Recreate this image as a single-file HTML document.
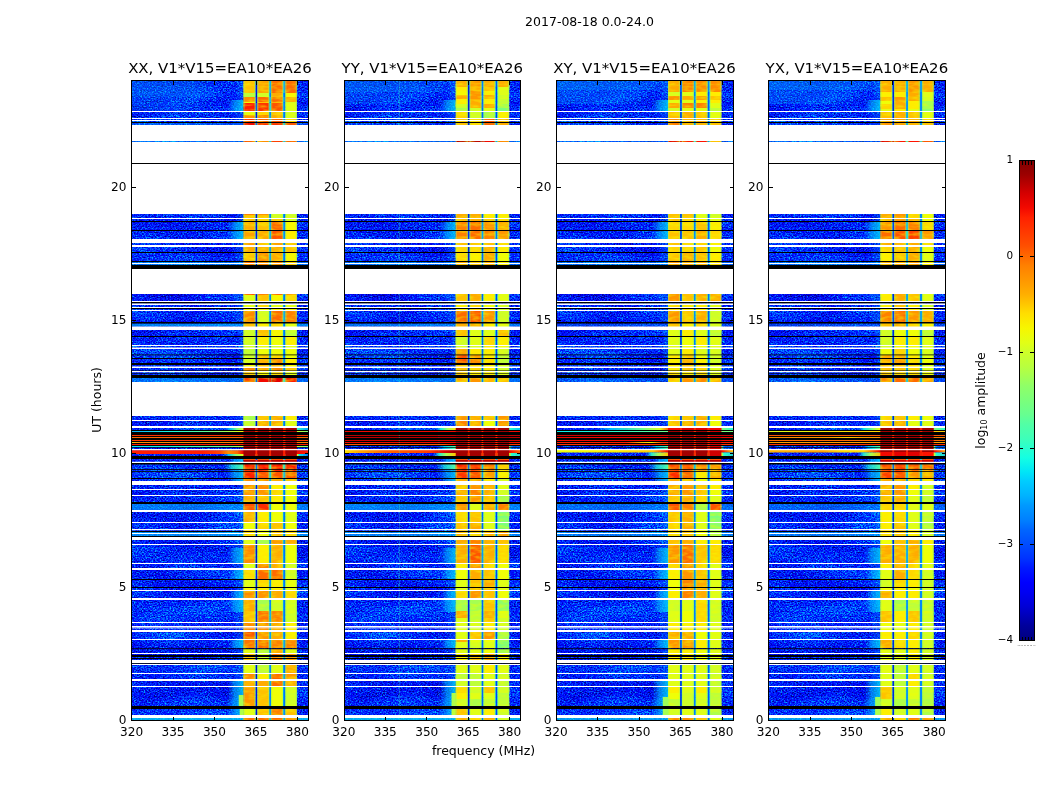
<!DOCTYPE html>
<html><head><meta charset="utf-8"><title>waterfall</title>
<style>html,body{margin:0;padding:0;background:#fff}svg{display:block}text{font-family:"DejaVu Sans","Liberation Sans",sans-serif;fill:#000}</style></head><body>
<svg width="1050" height="800" viewBox="0 0 1050 800" shape-rendering="crispEdges">
<defs>
<filter id="nz" x="0" y="0" width="100%" height="100%" color-interpolation-filters="sRGB"><feTurbulence type="fractalNoise" baseFrequency="0.62 0.8" numOctaves="2" seed="7" result="t"/><feColorMatrix in="t" type="matrix" values="1 0 0 0 0  1 0 0 0 0  1 0 0 0 0  0 0 0 0 1" result="hi"/><feTurbulence type="fractalNoise" baseFrequency="0.012 0.05" numOctaves="2" seed="3" result="t2"/><feColorMatrix in="t2" type="matrix" values="1 0 0 0 0  1 0 0 0 0  1 0 0 0 0  0 0 0 0 1" result="lo"/><feComposite in="hi" in2="lo" operator="arithmetic" k1="0" k2="1.1" k3="0.4" k4="-0.41" result="g"/><feComponentTransfer in="g"><feFuncR type="table" tableValues="0 0 0 0 0 0 0 0 0.16 0.32"/><feFuncG type="table" tableValues="0 0 0 0.1 0.3 0.5 0.7 0.9 1 1"/><feFuncB type="table" tableValues="0.5 0.73 0.95 1 1 1 1 0.97 0.81 0.65"/></feComponentTransfer></filter>
<filter id="hz" x="0" y="0" width="100%" height="100%" color-interpolation-filters="sRGB"><feTurbulence type="fractalNoise" baseFrequency="0.11 0.3" numOctaves="2" seed="11" result="t"/><feColorMatrix in="t" type="matrix" values="0 0 0 0 0.95  0 0 0 0 1  0 0 0 0 0  2.8 0 0 0 -1.15"/></filter>
<linearGradient id="cb" x1="0" y1="1" x2="0" y2="0">
<stop offset="0" stop-color="#000080"/>
<stop offset="0.03" stop-color="#00009c"/>
<stop offset="0.05" stop-color="#0000b9"/>
<stop offset="0.07" stop-color="#0000d6"/>
<stop offset="0.1" stop-color="#0000f3"/>
<stop offset="0.12" stop-color="#0000ff"/>
<stop offset="0.15" stop-color="#0019ff"/>
<stop offset="0.17" stop-color="#0033ff"/>
<stop offset="0.2" stop-color="#004dff"/>
<stop offset="0.23" stop-color="#0066ff"/>
<stop offset="0.25" stop-color="#0080ff"/>
<stop offset="0.28" stop-color="#0099ff"/>
<stop offset="0.3" stop-color="#00b2ff"/>
<stop offset="0.33" stop-color="#00ccff"/>
<stop offset="0.35" stop-color="#00e5f7"/>
<stop offset="0.38" stop-color="#15ffe2"/>
<stop offset="0.4" stop-color="#29ffce"/>
<stop offset="0.42" stop-color="#3effb9"/>
<stop offset="0.45" stop-color="#52ffa5"/>
<stop offset="0.47" stop-color="#67ff90"/>
<stop offset="0.5" stop-color="#7bff7b"/>
<stop offset="0.53" stop-color="#90ff67"/>
<stop offset="0.55" stop-color="#a5ff52"/>
<stop offset="0.57" stop-color="#b9ff3e"/>
<stop offset="0.6" stop-color="#ceff29"/>
<stop offset="0.62" stop-color="#e2ff15"/>
<stop offset="0.65" stop-color="#f7f600"/>
<stop offset="0.68" stop-color="#ffde00"/>
<stop offset="0.7" stop-color="#ffc600"/>
<stop offset="0.72" stop-color="#ffaf00"/>
<stop offset="0.75" stop-color="#ff9700"/>
<stop offset="0.78" stop-color="#ff8000"/>
<stop offset="0.8" stop-color="#ff6800"/>
<stop offset="0.82" stop-color="#ff5000"/>
<stop offset="0.85" stop-color="#ff3900"/>
<stop offset="0.88" stop-color="#ff2100"/>
<stop offset="0.9" stop-color="#f30900"/>
<stop offset="0.93" stop-color="#d60000"/>
<stop offset="0.95" stop-color="#b90000"/>
<stop offset="0.97" stop-color="#9c0000"/>
<stop offset="1" stop-color="#800000"/>
</linearGradient>
<linearGradient id="trA" x1="0" y1="0" x2="1" y2="0"><stop offset="0" stop-color="#0080ff" stop-opacity="0"/><stop offset="0.45" stop-color="#0094ff" stop-opacity="0.22"/><stop offset="1" stop-color="#00a8ff" stop-opacity="0.3"/></linearGradient>
<linearGradient id="trB" x1="0" y1="0" x2="1" y2="0"><stop offset="0" stop-color="#009eff" stop-opacity="0"/><stop offset="0.45" stop-color="#00c2ff" stop-opacity="0.6"/><stop offset="1" stop-color="#00e5f7" stop-opacity="0.8"/></linearGradient>
<linearGradient id="trC" x1="0" y1="0" x2="1" y2="0"><stop offset="0" stop-color="#00d1ff" stop-opacity="0"/><stop offset="0.45" stop-color="#21ffd6" stop-opacity="0.75"/><stop offset="1" stop-color="#52ffa5" stop-opacity="1"/></linearGradient>
</defs>
<clipPath id="cp0"><rect x="131" y="80" width="178" height="641"/></clipPath>
<g clip-path="url(#cp0)" shape-rendering="geometricPrecision"><g transform="translate(131.25,0)">
<rect x="-1" y="80" width="178.9" height="641" fill="#0a3fe0"/>
<rect x="-1" y="80" width="178.9" height="641" fill="#0a3fe0" filter="url(#nz)"/>
<rect x="-1" y="323.5" width="178.9" height="3" fill="#00d1ff" fill-opacity="0.6"/>
<rect x="-1" y="504" width="178.9" height="6" fill="#00bdff" fill-opacity="0.55"/>
<rect x="-1" y="532" width="178.9" height="4" fill="#00d1ff" fill-opacity="0.6"/>
<rect x="-1" y="262" width="178.9" height="3" fill="#00d1ff" fill-opacity="0.45"/>
<rect x="-1" y="378" width="178.9" height="4" fill="#00b2ff" fill-opacity="0.5"/>
<rect x="-1" y="718" width="178.9" height="2.5" fill="#08f0ef" fill-opacity="0.7"/>
<rect x="-1" y="141" width="178.9" height="1" fill="#00b2ff" fill-opacity="0.5"/>
<rect x="-1" y="123" width="178.9" height="2" fill="#009eff" fill-opacity="0.3"/>
<linearGradient id="g0_4280" gradientUnits="userSpaceOnUse" x1="0" y1="0" x2="176.9" y2="0">
<stop offset="0" stop-color="#0019ff" stop-opacity="0"/>
<stop offset="0.52" stop-color="#004dff" stop-opacity="0"/>
<stop offset="0.56" stop-color="#00e5f7" stop-opacity="0.8"/>
<stop offset="0.6" stop-color="#7bff7b" stop-opacity="1"/>
<stop offset="0.63" stop-color="#deff19" stop-opacity="1"/>
<stop offset="0.93" stop-color="#ceff29" stop-opacity="1"/>
<stop offset="0.94" stop-color="#29ffce" stop-opacity="1"/>
<stop offset="1" stop-color="#00b2ff" stop-opacity="0.8"/>
</linearGradient>
<rect x="-1" y="428" width="178.9" height="2" fill="url(#g0_4280)"/>
<linearGradient id="g0_4310" gradientUnits="userSpaceOnUse" x1="0" y1="0" x2="176.9" y2="0">
<stop offset="0" stop-color="#00b2ff" stop-opacity="1"/>
<stop offset="0.23" stop-color="#19ffde" stop-opacity="1"/>
<stop offset="0.45" stop-color="#6bff8c" stop-opacity="1"/>
<stop offset="0.59" stop-color="#ceff29" stop-opacity="1"/>
<stop offset="0.63" stop-color="#f7f600" stop-opacity="1"/>
<stop offset="0.94" stop-color="#ceff29" stop-opacity="1"/>
<stop offset="1" stop-color="#7bff7b" stop-opacity="1"/>
</linearGradient>
<rect x="-1" y="431" width="178.9" height="1" fill="url(#g0_4310)"/>
<linearGradient id="g0_4350" gradientUnits="userSpaceOnUse" x1="0" y1="0" x2="176.9" y2="0">
<stop offset="0" stop-color="#ff2f00" stop-opacity="1"/>
<stop offset="1" stop-color="#ff2f00" stop-opacity="1"/>
</linearGradient>
<rect x="-1" y="435" width="178.9" height="1" fill="url(#g0_4350)"/>
<linearGradient id="g0_4370" gradientUnits="userSpaceOnUse" x1="0" y1="0" x2="176.9" y2="0">
<stop offset="0" stop-color="#ff6800" stop-opacity="1"/>
<stop offset="1" stop-color="#ff6800" stop-opacity="1"/>
</linearGradient>
<rect x="-1" y="437" width="178.9" height="1" fill="url(#g0_4370)"/>
<linearGradient id="g0_4400" gradientUnits="userSpaceOnUse" x1="0" y1="0" x2="176.9" y2="0">
<stop offset="0" stop-color="#ff3900" stop-opacity="1"/>
<stop offset="1" stop-color="#ff3900" stop-opacity="1"/>
</linearGradient>
<rect x="-1" y="440" width="178.9" height="1" fill="url(#g0_4400)"/>
<linearGradient id="g0_4420" gradientUnits="userSpaceOnUse" x1="0" y1="0" x2="176.9" y2="0">
<stop offset="0" stop-color="#ffd900" stop-opacity="1"/>
<stop offset="0.05" stop-color="#ff8e00" stop-opacity="1"/>
<stop offset="1" stop-color="#ff7b00" stop-opacity="1"/>
</linearGradient>
<rect x="-1" y="442" width="178.9" height="1" fill="url(#g0_4420)"/>
<linearGradient id="g0_4440" gradientUnits="userSpaceOnUse" x1="0" y1="0" x2="176.9" y2="0">
<stop offset="0" stop-color="#ff1c00" stop-opacity="1"/>
<stop offset="1" stop-color="#ff1c00" stop-opacity="1"/>
</linearGradient>
<rect x="-1" y="444" width="178.9" height="1" fill="url(#g0_4440)"/>
<linearGradient id="g0_4460" gradientUnits="userSpaceOnUse" x1="0" y1="0" x2="176.9" y2="0">
<stop offset="0" stop-color="#00e5f7" stop-opacity="1"/>
<stop offset="0.28" stop-color="#29ffce" stop-opacity="1"/>
<stop offset="0.57" stop-color="#7bff7b" stop-opacity="1"/>
<stop offset="0.63" stop-color="#ceff29" stop-opacity="1"/>
<stop offset="0.94" stop-color="#ceff29" stop-opacity="1"/>
<stop offset="1" stop-color="#7bff7b" stop-opacity="1"/>
</linearGradient>
<rect x="-1" y="446" width="178.9" height="1" fill="url(#g0_4460)"/>
<linearGradient id="g0_4502" gradientUnits="userSpaceOnUse" x1="0" y1="0" x2="176.9" y2="0">
<stop offset="0" stop-color="#ff1c00" stop-opacity="1"/>
<stop offset="0.4" stop-color="#ff1c00" stop-opacity="1"/>
<stop offset="0.5" stop-color="#ff4200" stop-opacity="1"/>
<stop offset="0.55" stop-color="#ff8e00" stop-opacity="1"/>
<stop offset="0.6" stop-color="#ff6800" stop-opacity="1"/>
<stop offset="0.63" stop-color="#f30900" stop-opacity="1"/>
<stop offset="0.94" stop-color="#f30900" stop-opacity="1"/>
<stop offset="1" stop-color="#ff1c00" stop-opacity="1"/>
</linearGradient>
<rect x="-1" y="450.2" width="178.9" height="3.8" fill="url(#g0_4502)"/>
<linearGradient id="g0_4540" gradientUnits="userSpaceOnUse" x1="0" y1="0" x2="176.9" y2="0">
<stop offset="0" stop-color="#0019ff" stop-opacity="0"/>
<stop offset="0.51" stop-color="#004dff" stop-opacity="0"/>
<stop offset="0.55" stop-color="#00e5f7" stop-opacity="0.8"/>
<stop offset="0.59" stop-color="#7bff7b" stop-opacity="1"/>
<stop offset="0.63" stop-color="#deff19" stop-opacity="1"/>
<stop offset="0.94" stop-color="#ceff29" stop-opacity="1"/>
<stop offset="0.95" stop-color="#00e5f7" stop-opacity="1"/>
<stop offset="1" stop-color="#00b2ff" stop-opacity="0.6"/>
</linearGradient>
<rect x="-1" y="454" width="178.9" height="2" fill="url(#g0_4540)"/>
<linearGradient id="g0_810" gradientUnits="userSpaceOnUse" x1="0" y1="0" x2="176.9" y2="0">
<stop offset="0" stop-color="#00bdff" stop-opacity="0.32"/>
<stop offset="0.34" stop-color="#00bdff" stop-opacity="0.28"/>
<stop offset="0.51" stop-color="#00b2ff" stop-opacity="0"/>
<stop offset="1" stop-color="#00b2ff" stop-opacity="0"/>
</linearGradient>
<rect x="-1" y="81" width="178.9" height="16" fill="url(#g0_810)"/>
<linearGradient id="g0_970" gradientUnits="userSpaceOnUse" x1="0" y1="0" x2="176.9" y2="0">
<stop offset="0" stop-color="#00b2ff" stop-opacity="0.2"/>
<stop offset="0.28" stop-color="#00b2ff" stop-opacity="0.15"/>
<stop offset="0.45" stop-color="#00b2ff" stop-opacity="0"/>
<stop offset="1" stop-color="#00b2ff" stop-opacity="0"/>
</linearGradient>
<rect x="-1" y="97" width="178.9" height="14" fill="url(#g0_970)"/>
<rect x="104" y="81" width="8.2" height="19" fill="url(#trA)"/>
<rect x="96" y="100" width="16.2" height="11" fill="url(#trB)"/>
<rect x="100" y="112" width="12.2" height="13" fill="url(#trA)"/>
<rect x="104" y="214" width="8.2" height="7" fill="url(#trA)"/>
<rect x="96" y="221" width="16.2" height="18" fill="url(#trB)"/>
<rect x="101" y="243" width="11.2" height="22" fill="url(#trA)"/>
<rect x="99" y="294" width="13.2" height="7" fill="url(#trA)"/>
<rect x="104" y="305" width="8.2" height="5" fill="url(#trA)"/>
<rect x="100" y="311" width="12.2" height="11" fill="url(#trA)"/>
<rect x="106" y="330" width="6.2" height="45" fill="url(#trA)"/>
<rect x="104" y="416" width="8.2" height="10" fill="url(#trA)"/>
<rect x="96" y="459" width="16.2" height="3" fill="url(#trB)"/>
<rect x="92" y="464" width="20.2" height="5" fill="url(#trC)"/>
<rect x="94" y="469" width="18.2" height="9" fill="url(#trB)"/>
<rect x="96" y="478" width="16.2" height="3" fill="url(#trB)"/>
<rect x="105" y="485" width="7.2" height="17" fill="url(#trA)"/>
<rect x="106" y="512" width="6.2" height="18" fill="url(#trA)"/>
<rect x="100" y="540" width="12.2" height="8" fill="url(#trA)"/>
<rect x="96" y="548" width="16.2" height="15" fill="url(#trB)"/>
<rect x="100" y="564" width="12.2" height="4" fill="url(#trA)"/>
<rect x="98" y="570" width="14.2" height="9" fill="url(#trB)"/>
<rect x="102" y="580" width="10.2" height="10" fill="url(#trA)"/>
<rect x="98" y="591" width="14.2" height="7" fill="url(#trB)"/>
<rect x="96" y="600" width="16.2" height="12" fill="url(#trB)"/>
<rect x="102" y="612" width="10.2" height="18" fill="url(#trA)"/>
<rect x="102" y="632" width="10.2" height="7" fill="url(#trA)"/>
<rect x="97" y="640" width="15.2" height="8" fill="url(#trB)"/>
<rect x="102" y="649" width="10.2" height="11" fill="url(#trA)"/>
<rect x="101" y="665" width="11.2" height="14" fill="url(#trA)"/>
<rect x="96" y="681" width="16.2" height="5" fill="url(#trB)"/>
<rect x="96" y="687" width="16.2" height="12" fill="url(#trB)"/>
<rect x="94" y="699" width="18.2" height="7" fill="url(#trB)"/>
<rect x="96" y="709" width="16.2" height="6" fill="url(#trB)"/>
<rect x="107.5" y="695" width="4.9" height="11" fill="#a5ff52"/>
<rect x="108.5" y="709" width="3.9" height="6" fill="#adff4a"/>
<rect x="112.2" y="81" width="12.1" height="12" fill="#ffc100"/>
<rect x="126" y="81" width="12.1" height="12" fill="#ffa000"/>
<rect x="139.8" y="81" width="12" height="12" fill="#ff6a00"/>
<rect x="154" y="81" width="11.6" height="12" fill="#ff6a00"/>
<rect x="112.2" y="93" width="12.1" height="4" fill="#a5ff52"/>
<rect x="126" y="93" width="12.1" height="4" fill="#ceff29"/>
<rect x="139.8" y="93" width="12" height="4" fill="#ffab00"/>
<rect x="154" y="93" width="11.6" height="4" fill="#f7f600"/>
<rect x="112.2" y="97" width="12.1" height="5" fill="#ff8a00"/>
<rect x="126" y="97" width="12.1" height="5" fill="#ff6a00"/>
<rect x="139.8" y="97" width="12" height="5" fill="#ff6a00"/>
<rect x="154" y="97" width="11.6" height="5" fill="#ffab00"/>
<rect x="112.2" y="102" width="12.1" height="1" fill="#f7f600"/>
<rect x="126" y="102" width="12.1" height="1" fill="#ffc100"/>
<rect x="139.8" y="102" width="12" height="1" fill="#ffab00"/>
<rect x="154" y="102" width="11.6" height="1" fill="#ceff29"/>
<rect x="112.2" y="103" width="12.1" height="8" fill="#ff1e00"/>
<rect x="126" y="103" width="12.1" height="8" fill="#ff3300"/>
<rect x="139.8" y="103" width="12" height="8" fill="#ff5400"/>
<rect x="154" y="103" width="11.6" height="8" fill="#deff19"/>
<rect x="112.2" y="111" width="12.1" height="4" fill="#deff19"/>
<rect x="126" y="111" width="12.1" height="4" fill="#ffd600"/>
<rect x="139.8" y="111" width="12" height="4" fill="#ffc100"/>
<rect x="154" y="111" width="11.6" height="4" fill="#ceff29"/>
<rect x="112.2" y="115" width="12.1" height="3" fill="#ff9500"/>
<rect x="126" y="115" width="12.1" height="3" fill="#ff8a00"/>
<rect x="139.8" y="115" width="12" height="3" fill="#ffab00"/>
<rect x="154" y="115" width="11.6" height="3" fill="#ceff29"/>
<rect x="112.2" y="118" width="12.1" height="5" fill="#ff1e00"/>
<rect x="126" y="118" width="12.1" height="5" fill="#ff5400"/>
<rect x="139.8" y="118" width="12" height="5" fill="#ff5400"/>
<rect x="154" y="118" width="11.6" height="5" fill="#ffc100"/>
<rect x="112.2" y="123" width="12.1" height="2" fill="#f20800"/>
<rect x="126" y="123" width="12.1" height="2" fill="#ff1e00"/>
<rect x="139.8" y="123" width="12" height="2" fill="#ff1e00"/>
<rect x="154" y="123" width="11.6" height="2" fill="#ff5400"/>
<rect x="112.2" y="141" width="12.1" height="1" fill="#ff5400"/>
<rect x="126" y="141" width="12.1" height="1" fill="#ff8a00"/>
<rect x="139.8" y="141" width="12" height="1" fill="#ff3e00"/>
<rect x="154" y="141" width="11.6" height="1" fill="#ff6a00"/>
<rect x="112.2" y="214" width="12.1" height="1" fill="#ff8000"/>
<rect x="126" y="214" width="12.1" height="1" fill="#ff9500"/>
<rect x="139.8" y="214" width="12" height="1" fill="#ceff29"/>
<rect x="154" y="214" width="11.6" height="1" fill="#ceff29"/>
<rect x="112.2" y="215" width="12.1" height="3" fill="#ffc100"/>
<rect x="126" y="215" width="12.1" height="3" fill="#ffc100"/>
<rect x="139.8" y="215" width="12" height="3" fill="#ceff29"/>
<rect x="154" y="215" width="11.6" height="3" fill="#ceff29"/>
<rect x="112.2" y="218" width="12.1" height="3" fill="#ffc100"/>
<rect x="126" y="218" width="12.1" height="3" fill="#ffd600"/>
<rect x="139.8" y="218" width="12" height="3" fill="#ffc100"/>
<rect x="154" y="218" width="11.6" height="3" fill="#ceff29"/>
<rect x="112.2" y="221" width="12.1" height="9" fill="#ffab00"/>
<rect x="126" y="221" width="12.1" height="9" fill="#ffc100"/>
<rect x="139.8" y="221" width="12" height="9" fill="#ff6a00"/>
<rect x="154" y="221" width="11.6" height="9" fill="#f7f600"/>
<rect x="112.2" y="230" width="12.1" height="9" fill="#ffa000"/>
<rect x="126" y="230" width="12.1" height="9" fill="#ffab00"/>
<rect x="139.8" y="230" width="12" height="9" fill="#ff5400"/>
<rect x="154" y="230" width="11.6" height="9" fill="#ffec00"/>
<rect x="112.2" y="243" width="12.1" height="2" fill="#ffa000"/>
<rect x="126" y="243" width="12.1" height="2" fill="#ffc100"/>
<rect x="139.8" y="243" width="12" height="2" fill="#ffa000"/>
<rect x="154" y="243" width="11.6" height="2" fill="#ffc100"/>
<rect x="112.2" y="247" width="12.1" height="5" fill="#ffab00"/>
<rect x="126" y="247" width="12.1" height="5" fill="#ffab00"/>
<rect x="139.8" y="247" width="12" height="5" fill="#ffab00"/>
<rect x="154" y="247" width="11.6" height="5" fill="#ffc100"/>
<rect x="112.2" y="252" width="12.1" height="9" fill="#ffc100"/>
<rect x="126" y="252" width="12.1" height="9" fill="#ff8a00"/>
<rect x="139.8" y="252" width="12" height="9" fill="#ffab00"/>
<rect x="154" y="252" width="11.6" height="9" fill="#f7f600"/>
<rect x="112.2" y="261" width="12.1" height="4" fill="#ff6a00"/>
<rect x="126" y="261" width="12.1" height="4" fill="#ff8a00"/>
<rect x="139.8" y="261" width="12" height="4" fill="#ff8a00"/>
<rect x="154" y="261" width="11.6" height="4" fill="#ffc100"/>
<rect x="112.2" y="294" width="12.1" height="1" fill="#ff5400"/>
<rect x="126" y="294" width="12.1" height="1" fill="#ff8000"/>
<rect x="139.8" y="294" width="12" height="1" fill="#ff6a00"/>
<rect x="154" y="294" width="11.6" height="1" fill="#ff9500"/>
<rect x="112.2" y="295" width="12.1" height="6" fill="#deff19"/>
<rect x="126" y="295" width="12.1" height="6" fill="#ffc100"/>
<rect x="139.8" y="295" width="12" height="6" fill="#f7f600"/>
<rect x="154" y="295" width="11.6" height="6" fill="#ffd600"/>
<rect x="112.2" y="305" width="12.1" height="2" fill="#deff19"/>
<rect x="126" y="305" width="12.1" height="2" fill="#ffd600"/>
<rect x="139.8" y="305" width="12" height="2" fill="#deff19"/>
<rect x="154" y="305" width="11.6" height="2" fill="#deff19"/>
<rect x="112.2" y="309" width="12.1" height="1" fill="#f7f600"/>
<rect x="126" y="309" width="12.1" height="1" fill="#f7f600"/>
<rect x="139.8" y="309" width="12" height="1" fill="#f7f600"/>
<rect x="154" y="309" width="11.6" height="1" fill="#f7f600"/>
<rect x="112.2" y="311" width="12.1" height="11" fill="#ff8a00"/>
<rect x="126" y="311" width="12.1" height="11" fill="#ceff29"/>
<rect x="139.8" y="311" width="12" height="11" fill="#ff6a00"/>
<rect x="154" y="311" width="11.6" height="11" fill="#ff8000"/>
<rect x="112.2" y="323" width="12.1" height="4" fill="#ffc100"/>
<rect x="126" y="323" width="12.1" height="4" fill="#ffec00"/>
<rect x="139.8" y="323" width="12" height="4" fill="#ffd600"/>
<rect x="154" y="323" width="11.6" height="4" fill="#deff19"/>
<rect x="112.2" y="330" width="12.1" height="6" fill="#ceff29"/>
<rect x="126" y="330" width="12.1" height="6" fill="#ffc100"/>
<rect x="139.8" y="330" width="12" height="6" fill="#f7f600"/>
<rect x="154" y="330" width="11.6" height="6" fill="#bdff3a"/>
<rect x="112.2" y="336" width="12.1" height="9" fill="#ceff29"/>
<rect x="126" y="336" width="12.1" height="9" fill="#ffec00"/>
<rect x="139.8" y="336" width="12" height="9" fill="#efff08"/>
<rect x="154" y="336" width="11.6" height="9" fill="#ffec00"/>
<rect x="112.2" y="346" width="12.1" height="2" fill="#ceff29"/>
<rect x="126" y="346" width="12.1" height="2" fill="#deff19"/>
<rect x="139.8" y="346" width="12" height="2" fill="#ceff29"/>
<rect x="154" y="346" width="11.6" height="2" fill="#deff19"/>
<rect x="112.2" y="349" width="12.1" height="6" fill="#bdff3a"/>
<rect x="126" y="349" width="12.1" height="6" fill="#efff08"/>
<rect x="139.8" y="349" width="12" height="6" fill="#efff08"/>
<rect x="154" y="349" width="11.6" height="6" fill="#efff08"/>
<rect x="112.2" y="355" width="12.1" height="3" fill="#ceff29"/>
<rect x="126" y="355" width="12.1" height="3" fill="#ffc100"/>
<rect x="139.8" y="355" width="12" height="3" fill="#ffd600"/>
<rect x="154" y="355" width="11.6" height="3" fill="#efff08"/>
<rect x="112.2" y="358" width="12.1" height="5" fill="#ceff29"/>
<rect x="126" y="358" width="12.1" height="5" fill="#ffab00"/>
<rect x="139.8" y="358" width="12" height="5" fill="#ff8000"/>
<rect x="154" y="358" width="11.6" height="5" fill="#ffec00"/>
<rect x="112.2" y="365" width="12.1" height="2" fill="#f7f600"/>
<rect x="126" y="365" width="12.1" height="2" fill="#ffc100"/>
<rect x="139.8" y="365" width="12" height="2" fill="#ffab00"/>
<rect x="154" y="365" width="11.6" height="2" fill="#f7f600"/>
<rect x="112.2" y="368" width="12.1" height="3" fill="#ff8a00"/>
<rect x="126" y="368" width="12.1" height="3" fill="#ffab00"/>
<rect x="139.8" y="368" width="12" height="3" fill="#ff8a00"/>
<rect x="154" y="368" width="11.6" height="3" fill="#ffc100"/>
<rect x="112.2" y="372" width="12.1" height="3" fill="#ffc100"/>
<rect x="126" y="372" width="12.1" height="3" fill="#f7f600"/>
<rect x="139.8" y="372" width="12" height="3" fill="#ffd600"/>
<rect x="154" y="372" width="11.6" height="3" fill="#deff19"/>
<rect x="112.2" y="378" width="12.1" height="4" fill="#ff3e00"/>
<rect x="126" y="378" width="12.1" height="4" fill="#f20800"/>
<rect x="139.8" y="378" width="12" height="4" fill="#e40000"/>
<rect x="154" y="378" width="11.6" height="4" fill="#ff1e00"/>
<rect x="112.2" y="416" width="12.1" height="4" fill="#a5ff52"/>
<rect x="126" y="416" width="12.1" height="4" fill="#ffc100"/>
<rect x="139.8" y="416" width="12" height="4" fill="#ffab00"/>
<rect x="154" y="416" width="11.6" height="4" fill="#ffec00"/>
<rect x="112.2" y="421" width="12.1" height="5" fill="#bdff3a"/>
<rect x="126" y="421" width="12.1" height="5" fill="#ffab00"/>
<rect x="139.8" y="421" width="12" height="5" fill="#ffab00"/>
<rect x="154" y="421" width="11.6" height="5" fill="#deff19"/>
<rect x="112.2" y="428" width="12.1" height="31" fill="#a20000"/>
<rect x="126" y="428" width="12.1" height="31" fill="#a20000"/>
<rect x="139.8" y="428" width="12" height="31" fill="#a20000"/>
<rect x="154" y="428" width="11.6" height="31" fill="#a20000"/>
<rect x="112.2" y="459" width="12.1" height="1" fill="#ff5400"/>
<rect x="126" y="459" width="12.1" height="1" fill="#ff5400"/>
<rect x="139.8" y="459" width="12" height="1" fill="#ff5400"/>
<rect x="154" y="459" width="11.6" height="1" fill="#ff5400"/>
<rect x="112.2" y="460" width="12.1" height="2" fill="#b90000"/>
<rect x="126" y="460" width="12.1" height="2" fill="#b90000"/>
<rect x="139.8" y="460" width="12" height="2" fill="#b90000"/>
<rect x="154" y="460" width="11.6" height="2" fill="#b90000"/>
<rect x="112.2" y="464" width="12.1" height="5" fill="#ff1300"/>
<rect x="126" y="464" width="12.1" height="5" fill="#ff1300"/>
<rect x="139.8" y="464" width="12" height="5" fill="#ff1300"/>
<rect x="154" y="464" width="11.6" height="5" fill="#ff1e00"/>
<rect x="112.2" y="469" width="12.1" height="3" fill="#ff1e00"/>
<rect x="126" y="469" width="12.1" height="3" fill="#ff1e00"/>
<rect x="139.8" y="469" width="12" height="3" fill="#ff1e00"/>
<rect x="154" y="469" width="11.6" height="3" fill="#ff1e00"/>
<rect x="112.2" y="472" width="12.1" height="6" fill="#ff1e00"/>
<rect x="126" y="472" width="12.1" height="6" fill="#ff5400"/>
<rect x="139.8" y="472" width="12" height="6" fill="#ff5400"/>
<rect x="154" y="472" width="11.6" height="6" fill="#ff5400"/>
<rect x="112.2" y="478" width="12.1" height="3" fill="#ff8a00"/>
<rect x="126" y="478" width="12.1" height="3" fill="#ff8a00"/>
<rect x="139.8" y="478" width="12" height="3" fill="#ffab00"/>
<rect x="154" y="478" width="11.6" height="3" fill="#ffc100"/>
<rect x="112.2" y="485" width="12.1" height="4" fill="#ff8a00"/>
<rect x="126" y="485" width="12.1" height="4" fill="#ff8a00"/>
<rect x="139.8" y="485" width="12" height="4" fill="#ffec00"/>
<rect x="154" y="485" width="11.6" height="4" fill="#efff08"/>
<rect x="112.2" y="490" width="12.1" height="5" fill="#ff9500"/>
<rect x="126" y="490" width="12.1" height="5" fill="#ff9500"/>
<rect x="139.8" y="490" width="12" height="5" fill="#ffd600"/>
<rect x="154" y="490" width="11.6" height="5" fill="#efff08"/>
<rect x="112.2" y="496" width="12.1" height="6" fill="#ffab00"/>
<rect x="126" y="496" width="12.1" height="6" fill="#ffc100"/>
<rect x="139.8" y="496" width="12" height="6" fill="#ffec00"/>
<rect x="154" y="496" width="11.6" height="6" fill="#efff08"/>
<rect x="112.2" y="504" width="12.1" height="6" fill="#ff5400"/>
<rect x="126" y="504" width="12.1" height="6" fill="#ff2900"/>
<rect x="139.8" y="504" width="12" height="6" fill="#efff08"/>
<rect x="154" y="504" width="11.6" height="6" fill="#efff08"/>
<rect x="112.2" y="512" width="12.1" height="10" fill="#ffab00"/>
<rect x="126" y="512" width="12.1" height="10" fill="#ffec00"/>
<rect x="139.8" y="512" width="12" height="10" fill="#efff08"/>
<rect x="154" y="512" width="11.6" height="10" fill="#deff19"/>
<rect x="112.2" y="523" width="12.1" height="7" fill="#efff08"/>
<rect x="126" y="523" width="12.1" height="7" fill="#ffd600"/>
<rect x="139.8" y="523" width="12" height="7" fill="#ffc100"/>
<rect x="154" y="523" width="11.6" height="7" fill="#efff08"/>
<rect x="112.2" y="530" width="12.1" height="7" fill="#ffd600"/>
<rect x="126" y="530" width="12.1" height="7" fill="#efff08"/>
<rect x="139.8" y="530" width="12" height="7" fill="#ffc100"/>
<rect x="154" y="530" width="11.6" height="7" fill="#ffd600"/>
<rect x="112.2" y="540" width="12.1" height="4" fill="#deff19"/>
<rect x="126" y="540" width="12.1" height="4" fill="#a5ff52"/>
<rect x="139.8" y="540" width="12" height="4" fill="#ff9500"/>
<rect x="154" y="540" width="11.6" height="4" fill="#ffab00"/>
<rect x="112.2" y="545" width="12.1" height="18" fill="#ff8a00"/>
<rect x="126" y="545" width="12.1" height="18" fill="#ffec00"/>
<rect x="139.8" y="545" width="12" height="18" fill="#ffab00"/>
<rect x="154" y="545" width="11.6" height="18" fill="#efff08"/>
<rect x="112.2" y="564" width="12.1" height="4" fill="#deff19"/>
<rect x="126" y="564" width="12.1" height="4" fill="#ff8000"/>
<rect x="139.8" y="564" width="12" height="4" fill="#ffab00"/>
<rect x="154" y="564" width="11.6" height="4" fill="#ceff29"/>
<rect x="112.2" y="570" width="12.1" height="9" fill="#ffd600"/>
<rect x="126" y="570" width="12.1" height="9" fill="#ff6a00"/>
<rect x="139.8" y="570" width="12" height="9" fill="#ff6a00"/>
<rect x="154" y="570" width="11.6" height="9" fill="#ceff29"/>
<rect x="112.2" y="580" width="12.1" height="7" fill="#deff19"/>
<rect x="126" y="580" width="12.1" height="7" fill="#ffd600"/>
<rect x="139.8" y="580" width="12" height="7" fill="#ffec00"/>
<rect x="154" y="580" width="11.6" height="7" fill="#e6ff10"/>
<rect x="112.2" y="588" width="12.1" height="2" fill="#f7f600"/>
<rect x="126" y="588" width="12.1" height="2" fill="#ffec00"/>
<rect x="139.8" y="588" width="12" height="2" fill="#ffec00"/>
<rect x="154" y="588" width="11.6" height="2" fill="#deff19"/>
<rect x="112.2" y="591" width="12.1" height="7" fill="#ff8a00"/>
<rect x="126" y="591" width="12.1" height="7" fill="#ff9500"/>
<rect x="139.8" y="591" width="12" height="7" fill="#ffab00"/>
<rect x="154" y="591" width="11.6" height="7" fill="#ffd600"/>
<rect x="112.2" y="600" width="12.1" height="11" fill="#ffab00"/>
<rect x="126" y="600" width="12.1" height="11" fill="#a5ff52"/>
<rect x="139.8" y="600" width="12" height="11" fill="#ceff29"/>
<rect x="154" y="600" width="11.6" height="11" fill="#ceff29"/>
<rect x="112.2" y="611" width="12.1" height="11" fill="#ffc100"/>
<rect x="126" y="611" width="12.1" height="11" fill="#ff7500"/>
<rect x="139.8" y="611" width="12" height="11" fill="#ff8000"/>
<rect x="154" y="611" width="11.6" height="11" fill="#ceff29"/>
<rect x="112.2" y="623" width="12.1" height="7" fill="#ff8000"/>
<rect x="126" y="623" width="12.1" height="7" fill="#ff8000"/>
<rect x="139.8" y="623" width="12" height="7" fill="#ffab00"/>
<rect x="154" y="623" width="11.6" height="7" fill="#ffec00"/>
<rect x="112.2" y="632" width="12.1" height="7" fill="#ff5400"/>
<rect x="126" y="632" width="12.1" height="7" fill="#ff9500"/>
<rect x="139.8" y="632" width="12" height="7" fill="#ffab00"/>
<rect x="154" y="632" width="11.6" height="7" fill="#ffec00"/>
<rect x="112.2" y="640" width="12.1" height="8" fill="#ff7500"/>
<rect x="126" y="640" width="12.1" height="8" fill="#ff6a00"/>
<rect x="139.8" y="640" width="12" height="8" fill="#ff8000"/>
<rect x="154" y="640" width="11.6" height="8" fill="#ff8000"/>
<rect x="112.2" y="649" width="12.1" height="4" fill="#deff19"/>
<rect x="126" y="649" width="12.1" height="4" fill="#adff4a"/>
<rect x="139.8" y="649" width="12" height="4" fill="#ffab00"/>
<rect x="154" y="649" width="11.6" height="4" fill="#deff19"/>
<rect x="112.2" y="654" width="12.1" height="6" fill="#ffc100"/>
<rect x="126" y="654" width="12.1" height="6" fill="#ceff29"/>
<rect x="139.8" y="654" width="12" height="6" fill="#ff6a00"/>
<rect x="154" y="654" width="11.6" height="6" fill="#ff9500"/>
<rect x="112.2" y="665" width="12.1" height="8" fill="#deff19"/>
<rect x="126" y="665" width="12.1" height="8" fill="#bdff3a"/>
<rect x="139.8" y="665" width="12" height="8" fill="#deff19"/>
<rect x="154" y="665" width="11.6" height="8" fill="#ffab00"/>
<rect x="112.2" y="674" width="12.1" height="5" fill="#ff8a00"/>
<rect x="126" y="674" width="12.1" height="5" fill="#ffec00"/>
<rect x="139.8" y="674" width="12" height="5" fill="#ff6a00"/>
<rect x="154" y="674" width="11.6" height="5" fill="#ff9500"/>
<rect x="112.2" y="681" width="12.1" height="5" fill="#ffab00"/>
<rect x="126" y="681" width="12.1" height="5" fill="#ffab00"/>
<rect x="139.8" y="681" width="12" height="5" fill="#ff6a00"/>
<rect x="154" y="681" width="11.6" height="5" fill="#ffab00"/>
<rect x="112.2" y="687" width="12.1" height="19" fill="#ff9500"/>
<rect x="126" y="687" width="12.1" height="19" fill="#ffc100"/>
<rect x="139.8" y="687" width="12" height="19" fill="#efff08"/>
<rect x="154" y="687" width="11.6" height="19" fill="#ceff29"/>
<rect x="112.2" y="709" width="12.1" height="6" fill="#deff19"/>
<rect x="126" y="709" width="12.1" height="6" fill="#ffc100"/>
<rect x="139.8" y="709" width="12" height="6" fill="#ff8000"/>
<rect x="154" y="709" width="11.6" height="6" fill="#ffc100"/>
<rect x="112.2" y="718" width="12.1" height="2.5" fill="#ff6a00"/>
<rect x="126" y="718" width="12.1" height="2.5" fill="#ff6a00"/>
<rect x="139.8" y="718" width="12" height="2.5" fill="#ff6a00"/>
<rect x="154" y="718" width="11.6" height="2.5" fill="#ff8a00"/>
<rect x="112.2" y="81" width="53.4" height="347" fill="none" filter="url(#hz)" opacity="0.45"/>
<rect x="112.2" y="462" width="53.4" height="258.5" fill="none" filter="url(#hz)" opacity="0.45"/>
<rect x="124.3" y="81" width="1.7" height="12" fill="#00cfff"/>
<rect x="124.6" y="81" width="1.1" height="12" fill="#0000e6"/>
<rect x="138.1" y="81" width="1.7" height="12" fill="#4dffaa"/>
<rect x="138.4" y="81" width="1.1" height="12" fill="#0099ff"/>
<rect x="151.8" y="81" width="2.2" height="12" fill="#69ff8e"/>
<rect x="152.35" y="81" width="1.1" height="12" fill="#0088ff"/>
<rect x="124.3" y="93" width="1.7" height="4" fill="#00b2ff"/>
<rect x="124.6" y="93" width="1.1" height="4" fill="#0000d1"/>
<rect x="138.1" y="93" width="1.7" height="4" fill="#08f0ef"/>
<rect x="138.4" y="93" width="1.1" height="4" fill="#0061ff"/>
<rect x="151.8" y="93" width="2.2" height="4" fill="#08f0ef"/>
<rect x="152.35" y="93" width="1.1" height="4" fill="#0038ff"/>
<rect x="124.3" y="97" width="1.7" height="5" fill="#27ffd0"/>
<rect x="124.6" y="97" width="1.1" height="5" fill="#000aff"/>
<rect x="138.1" y="97" width="1.7" height="5" fill="#69ff8e"/>
<rect x="138.4" y="97" width="1.1" height="5" fill="#00b1ff"/>
<rect x="151.8" y="97" width="2.2" height="5" fill="#47ffb0"/>
<rect x="152.35" y="97" width="1.1" height="5" fill="#006cff"/>
<rect x="124.3" y="102" width="1.7" height="1" fill="#00b2ff"/>
<rect x="124.6" y="102" width="1.1" height="1" fill="#0000d1"/>
<rect x="138.1" y="102" width="1.7" height="1" fill="#1affdd"/>
<rect x="138.4" y="102" width="1.1" height="1" fill="#006fff"/>
<rect x="151.8" y="102" width="2.2" height="1" fill="#08f0ef"/>
<rect x="152.35" y="102" width="1.1" height="1" fill="#0038ff"/>
<rect x="124.3" y="103" width="1.7" height="8" fill="#7cff7b"/>
<rect x="124.6" y="103" width="1.1" height="8" fill="#0050ff"/>
<rect x="138.1" y="103" width="1.7" height="8" fill="#91ff66"/>
<rect x="138.4" y="103" width="1.1" height="8" fill="#00d2ff"/>
<rect x="151.8" y="103" width="2.2" height="8" fill="#1cffda"/>
<rect x="152.35" y="103" width="1.1" height="8" fill="#0049ff"/>
<rect x="124.3" y="111" width="1.7" height="4" fill="#00b2ff"/>
<rect x="124.6" y="111" width="1.1" height="4" fill="#0000d1"/>
<rect x="138.1" y="111" width="1.7" height="4" fill="#08f0ef"/>
<rect x="138.4" y="111" width="1.1" height="4" fill="#0061ff"/>
<rect x="151.8" y="111" width="2.2" height="4" fill="#08f0ef"/>
<rect x="152.35" y="111" width="1.1" height="4" fill="#0038ff"/>
<rect x="124.3" y="115" width="1.7" height="3" fill="#10f9e7"/>
<rect x="124.6" y="115" width="1.1" height="3" fill="#0000ff"/>
<rect x="138.1" y="115" width="1.7" height="3" fill="#36ffc1"/>
<rect x="138.4" y="115" width="1.1" height="3" fill="#0087ff"/>
<rect x="151.8" y="115" width="2.2" height="3" fill="#08f0ef"/>
<rect x="152.35" y="115" width="1.1" height="3" fill="#0038ff"/>
<rect x="124.3" y="118" width="1.7" height="5" fill="#6bff8c"/>
<rect x="124.6" y="118" width="1.1" height="5" fill="#0042ff"/>
<rect x="138.1" y="118" width="1.7" height="5" fill="#80ff77"/>
<rect x="138.4" y="118" width="1.1" height="5" fill="#00c4ff"/>
<rect x="151.8" y="118" width="2.2" height="5" fill="#47ffb0"/>
<rect x="152.35" y="118" width="1.1" height="5" fill="#006cff"/>
<rect x="124.3" y="123" width="1.7" height="2" fill="#92ff64"/>
<rect x="124.6" y="123" width="1.1" height="2" fill="#0063ff"/>
<rect x="138.1" y="123" width="1.7" height="2" fill="#b8ff3e"/>
<rect x="138.4" y="123" width="1.1" height="2" fill="#0bf3ec"/>
<rect x="151.8" y="123" width="2.2" height="2" fill="#9cff5b"/>
<rect x="152.35" y="123" width="1.1" height="2" fill="#00b2ff"/>
<rect x="124.3" y="141" width="1.7" height="1" fill="#32ffc5"/>
<rect x="124.6" y="141" width="1.1" height="1" fill="#0013ff"/>
<rect x="138.1" y="141" width="1.7" height="1" fill="#6fff88"/>
<rect x="138.4" y="141" width="1.1" height="1" fill="#00b6ff"/>
<rect x="151.8" y="141" width="2.2" height="1" fill="#80ff77"/>
<rect x="152.35" y="141" width="1.1" height="1" fill="#009bff"/>
<rect x="124.3" y="214" width="1.7" height="1" fill="#16ffe1"/>
<rect x="124.6" y="214" width="1.1" height="1" fill="#0000ff"/>
<rect x="138.1" y="214" width="1.7" height="1" fill="#08f0ef"/>
<rect x="138.4" y="214" width="1.1" height="1" fill="#0061ff"/>
<rect x="151.8" y="214" width="2.2" height="1" fill="#08f0ef"/>
<rect x="152.35" y="214" width="1.1" height="1" fill="#0038ff"/>
<rect x="124.3" y="215" width="1.7" height="3" fill="#00baff"/>
<rect x="124.6" y="215" width="1.1" height="3" fill="#0000d6"/>
<rect x="138.1" y="215" width="1.7" height="3" fill="#08f0ef"/>
<rect x="138.4" y="215" width="1.1" height="3" fill="#0061ff"/>
<rect x="151.8" y="215" width="2.2" height="3" fill="#08f0ef"/>
<rect x="152.35" y="215" width="1.1" height="3" fill="#0038ff"/>
<rect x="124.3" y="218" width="1.7" height="3" fill="#00b2ff"/>
<rect x="124.6" y="218" width="1.1" height="3" fill="#0000d1"/>
<rect x="138.1" y="218" width="1.7" height="3" fill="#08f0ef"/>
<rect x="138.4" y="218" width="1.1" height="3" fill="#0061ff"/>
<rect x="151.8" y="218" width="2.2" height="3" fill="#08f0ef"/>
<rect x="152.35" y="218" width="1.1" height="3" fill="#0038ff"/>
<rect x="124.3" y="221" width="1.7" height="9" fill="#00c8ff"/>
<rect x="124.6" y="221" width="1.1" height="9" fill="#0000e1"/>
<rect x="138.1" y="221" width="1.7" height="9" fill="#3cffbb"/>
<rect x="138.4" y="221" width="1.1" height="9" fill="#008bff"/>
<rect x="151.8" y="221" width="2.2" height="9" fill="#20ffd7"/>
<rect x="152.35" y="221" width="1.1" height="9" fill="#004cff"/>
<rect x="124.3" y="230" width="1.7" height="9" fill="#00ddfe"/>
<rect x="124.6" y="230" width="1.1" height="9" fill="#0000f1"/>
<rect x="138.1" y="230" width="1.7" height="9" fill="#52ffa5"/>
<rect x="138.4" y="230" width="1.1" height="9" fill="#009eff"/>
<rect x="151.8" y="230" width="2.2" height="9" fill="#30ffc7"/>
<rect x="152.35" y="230" width="1.1" height="9" fill="#0059ff"/>
<rect x="124.3" y="243" width="1.7" height="2" fill="#00cfff"/>
<rect x="124.6" y="243" width="1.1" height="2" fill="#0000e6"/>
<rect x="138.1" y="243" width="1.7" height="2" fill="#1fffd8"/>
<rect x="138.4" y="243" width="1.1" height="2" fill="#0074ff"/>
<rect x="151.8" y="243" width="2.2" height="2" fill="#1fffd8"/>
<rect x="152.35" y="243" width="1.1" height="2" fill="#004bff"/>
<rect x="124.3" y="247" width="1.7" height="5" fill="#00d6ff"/>
<rect x="124.6" y="247" width="1.1" height="5" fill="#0000ec"/>
<rect x="138.1" y="247" width="1.7" height="5" fill="#25ffd2"/>
<rect x="138.4" y="247" width="1.1" height="5" fill="#0079ff"/>
<rect x="151.8" y="247" width="2.2" height="5" fill="#1affdd"/>
<rect x="152.35" y="247" width="1.1" height="5" fill="#0046ff"/>
<rect x="124.3" y="252" width="1.7" height="9" fill="#00ddfe"/>
<rect x="124.6" y="252" width="1.1" height="9" fill="#0000f1"/>
<rect x="138.1" y="252" width="1.7" height="9" fill="#36ffc1"/>
<rect x="138.4" y="252" width="1.1" height="9" fill="#0087ff"/>
<rect x="151.8" y="252" width="2.2" height="9" fill="#08f0ef"/>
<rect x="152.35" y="252" width="1.1" height="9" fill="#0038ff"/>
<rect x="124.3" y="261" width="1.7" height="4" fill="#27ffd0"/>
<rect x="124.6" y="261" width="1.1" height="4" fill="#000aff"/>
<rect x="138.1" y="261" width="1.7" height="4" fill="#47ffb0"/>
<rect x="138.4" y="261" width="1.1" height="4" fill="#0095ff"/>
<rect x="151.8" y="261" width="2.2" height="4" fill="#2bffcc"/>
<rect x="152.35" y="261" width="1.1" height="4" fill="#0054ff"/>
<rect x="124.3" y="294" width="1.7" height="1" fill="#38ffbf"/>
<rect x="124.6" y="294" width="1.1" height="1" fill="#0018ff"/>
<rect x="138.1" y="294" width="1.7" height="1" fill="#5eff99"/>
<rect x="138.4" y="294" width="1.1" height="1" fill="#00a7ff"/>
<rect x="151.8" y="294" width="2.2" height="1" fill="#52ffa5"/>
<rect x="152.35" y="294" width="1.1" height="1" fill="#0075ff"/>
<rect x="124.3" y="295" width="1.7" height="6" fill="#00b2ff"/>
<rect x="124.6" y="295" width="1.1" height="6" fill="#0000d1"/>
<rect x="138.1" y="295" width="1.7" height="6" fill="#08f0ef"/>
<rect x="138.4" y="295" width="1.1" height="6" fill="#0061ff"/>
<rect x="151.8" y="295" width="2.2" height="6" fill="#08f0ef"/>
<rect x="152.35" y="295" width="1.1" height="6" fill="#0038ff"/>
<rect x="124.3" y="305" width="1.7" height="2" fill="#00b2ff"/>
<rect x="124.6" y="305" width="1.1" height="2" fill="#0000d1"/>
<rect x="138.1" y="305" width="1.7" height="2" fill="#08f0ef"/>
<rect x="138.4" y="305" width="1.1" height="2" fill="#0061ff"/>
<rect x="151.8" y="305" width="2.2" height="2" fill="#08f0ef"/>
<rect x="152.35" y="305" width="1.1" height="2" fill="#0038ff"/>
<rect x="124.3" y="309" width="1.7" height="1" fill="#00b2ff"/>
<rect x="124.6" y="309" width="1.1" height="1" fill="#0000d1"/>
<rect x="138.1" y="309" width="1.7" height="1" fill="#08f0ef"/>
<rect x="138.4" y="309" width="1.1" height="1" fill="#0061ff"/>
<rect x="151.8" y="309" width="2.2" height="1" fill="#08f0ef"/>
<rect x="152.35" y="309" width="1.1" height="1" fill="#0038ff"/>
<rect x="124.3" y="311" width="1.7" height="11" fill="#00b2ff"/>
<rect x="124.6" y="311" width="1.1" height="11" fill="#0000d1"/>
<rect x="138.1" y="311" width="1.7" height="11" fill="#08f0ef"/>
<rect x="138.4" y="311" width="1.1" height="11" fill="#0061ff"/>
<rect x="151.8" y="311" width="2.2" height="11" fill="#5eff99"/>
<rect x="152.35" y="311" width="1.1" height="11" fill="#007fff"/>
<rect x="124.3" y="323" width="1.7" height="4" fill="#00b2ff"/>
<rect x="124.6" y="323" width="1.1" height="4" fill="#0000d1"/>
<rect x="138.1" y="323" width="1.7" height="4" fill="#08f0ef"/>
<rect x="138.4" y="323" width="1.1" height="4" fill="#0061ff"/>
<rect x="151.8" y="323" width="2.2" height="4" fill="#08f0ef"/>
<rect x="152.35" y="323" width="1.1" height="4" fill="#0038ff"/>
<rect x="124.3" y="330" width="1.7" height="6" fill="#00b2ff"/>
<rect x="124.6" y="330" width="1.1" height="6" fill="#0000d1"/>
<rect x="138.1" y="330" width="1.7" height="6" fill="#08f0ef"/>
<rect x="138.4" y="330" width="1.1" height="6" fill="#0061ff"/>
<rect x="151.8" y="330" width="2.2" height="6" fill="#08f0ef"/>
<rect x="152.35" y="330" width="1.1" height="6" fill="#0038ff"/>
<rect x="124.3" y="336" width="1.7" height="9" fill="#00b2ff"/>
<rect x="124.6" y="336" width="1.1" height="9" fill="#0000d1"/>
<rect x="138.1" y="336" width="1.7" height="9" fill="#08f0ef"/>
<rect x="138.4" y="336" width="1.1" height="9" fill="#0061ff"/>
<rect x="151.8" y="336" width="2.2" height="9" fill="#08f0ef"/>
<rect x="152.35" y="336" width="1.1" height="9" fill="#0038ff"/>
<rect x="124.3" y="346" width="1.7" height="2" fill="#00b2ff"/>
<rect x="124.6" y="346" width="1.1" height="2" fill="#0000d1"/>
<rect x="138.1" y="346" width="1.7" height="2" fill="#08f0ef"/>
<rect x="138.4" y="346" width="1.1" height="2" fill="#0061ff"/>
<rect x="151.8" y="346" width="2.2" height="2" fill="#08f0ef"/>
<rect x="152.35" y="346" width="1.1" height="2" fill="#0038ff"/>
<rect x="124.3" y="349" width="1.7" height="6" fill="#00b2ff"/>
<rect x="124.6" y="349" width="1.1" height="6" fill="#0000d1"/>
<rect x="138.1" y="349" width="1.7" height="6" fill="#08f0ef"/>
<rect x="138.4" y="349" width="1.1" height="6" fill="#0061ff"/>
<rect x="151.8" y="349" width="2.2" height="6" fill="#08f0ef"/>
<rect x="152.35" y="349" width="1.1" height="6" fill="#0038ff"/>
<rect x="124.3" y="355" width="1.7" height="3" fill="#00b2ff"/>
<rect x="124.6" y="355" width="1.1" height="3" fill="#0000d1"/>
<rect x="138.1" y="355" width="1.7" height="3" fill="#08f0ef"/>
<rect x="138.4" y="355" width="1.1" height="3" fill="#0061ff"/>
<rect x="151.8" y="355" width="2.2" height="3" fill="#08f0ef"/>
<rect x="152.35" y="355" width="1.1" height="3" fill="#0038ff"/>
<rect x="124.3" y="358" width="1.7" height="5" fill="#00b2ff"/>
<rect x="124.6" y="358" width="1.1" height="5" fill="#0000d1"/>
<rect x="138.1" y="358" width="1.7" height="5" fill="#3cffbb"/>
<rect x="138.4" y="358" width="1.1" height="5" fill="#008bff"/>
<rect x="151.8" y="358" width="2.2" height="5" fill="#1affdd"/>
<rect x="152.35" y="358" width="1.1" height="5" fill="#0046ff"/>
<rect x="124.3" y="365" width="1.7" height="2" fill="#00b2ff"/>
<rect x="124.6" y="365" width="1.1" height="2" fill="#0000d1"/>
<rect x="138.1" y="365" width="1.7" height="2" fill="#1affdd"/>
<rect x="138.4" y="365" width="1.1" height="2" fill="#006fff"/>
<rect x="151.8" y="365" width="2.2" height="2" fill="#08f0ef"/>
<rect x="152.35" y="365" width="1.1" height="2" fill="#0038ff"/>
<rect x="124.3" y="368" width="1.7" height="3" fill="#05ebf2"/>
<rect x="124.6" y="368" width="1.1" height="3" fill="#0000fc"/>
<rect x="138.1" y="368" width="1.7" height="3" fill="#36ffc1"/>
<rect x="138.4" y="368" width="1.1" height="3" fill="#0087ff"/>
<rect x="151.8" y="368" width="2.2" height="3" fill="#2bffcc"/>
<rect x="152.35" y="368" width="1.1" height="3" fill="#0054ff"/>
<rect x="124.3" y="372" width="1.7" height="3" fill="#00b2ff"/>
<rect x="124.6" y="372" width="1.1" height="3" fill="#0000d1"/>
<rect x="138.1" y="372" width="1.7" height="3" fill="#08f0ef"/>
<rect x="138.4" y="372" width="1.1" height="3" fill="#0061ff"/>
<rect x="151.8" y="372" width="2.2" height="3" fill="#08f0ef"/>
<rect x="152.35" y="372" width="1.1" height="3" fill="#0038ff"/>
<rect x="124.3" y="378" width="1.7" height="4" fill="#81ff75"/>
<rect x="124.6" y="378" width="1.1" height="4" fill="#0055ff"/>
<rect x="138.1" y="378" width="1.7" height="4" fill="#f30900"/>
<rect x="138.4" y="378" width="1.1" height="4" fill="#ff2f00"/>
<rect x="151.8" y="378" width="2.2" height="4" fill="#c9ff2d"/>
<rect x="152.35" y="378" width="1.1" height="4" fill="#00d8ff"/>
<rect x="124.3" y="416" width="1.7" height="4" fill="#00b2ff"/>
<rect x="124.6" y="416" width="1.1" height="4" fill="#0000d1"/>
<rect x="138.1" y="416" width="1.7" height="4" fill="#1affdd"/>
<rect x="138.4" y="416" width="1.1" height="4" fill="#006fff"/>
<rect x="151.8" y="416" width="2.2" height="4" fill="#08f0ef"/>
<rect x="152.35" y="416" width="1.1" height="4" fill="#0038ff"/>
<rect x="124.3" y="421" width="1.7" height="5" fill="#00b2ff"/>
<rect x="124.6" y="421" width="1.1" height="5" fill="#0000d1"/>
<rect x="138.1" y="421" width="1.7" height="5" fill="#25ffd2"/>
<rect x="138.4" y="421" width="1.1" height="5" fill="#0079ff"/>
<rect x="151.8" y="421" width="2.2" height="5" fill="#08f0ef"/>
<rect x="152.35" y="421" width="1.1" height="5" fill="#0038ff"/>
<rect x="124.3" y="428" width="1.7" height="31" fill="#f30900"/>
<rect x="124.6" y="428" width="1.1" height="31" fill="#ff2f00"/>
<rect x="138.1" y="428" width="1.7" height="31" fill="#f30900"/>
<rect x="138.4" y="428" width="1.1" height="31" fill="#ff2f00"/>
<rect x="151.8" y="428" width="2.2" height="31" fill="#f30900"/>
<rect x="152.35" y="428" width="1.1" height="31" fill="#ff2f00"/>
<rect x="124.3" y="459" width="1.7" height="1" fill="#4effa8"/>
<rect x="124.6" y="459" width="1.1" height="1" fill="#002bff"/>
<rect x="138.1" y="459" width="1.7" height="1" fill="#80ff77"/>
<rect x="138.4" y="459" width="1.1" height="1" fill="#00c4ff"/>
<rect x="151.8" y="459" width="2.2" height="1" fill="#80ff77"/>
<rect x="152.35" y="459" width="1.1" height="1" fill="#009bff"/>
<rect x="124.3" y="460" width="1.7" height="2" fill="#f30900"/>
<rect x="124.6" y="460" width="1.1" height="2" fill="#ff2f00"/>
<rect x="138.1" y="460" width="1.7" height="2" fill="#f30900"/>
<rect x="138.4" y="460" width="1.1" height="2" fill="#ff2f00"/>
<rect x="151.8" y="460" width="2.2" height="2" fill="#f30900"/>
<rect x="152.35" y="460" width="1.1" height="2" fill="#ff2f00"/>
<rect x="124.3" y="464" width="1.7" height="5" fill="#92ff64"/>
<rect x="124.6" y="464" width="1.1" height="5" fill="#0063ff"/>
<rect x="138.1" y="464" width="1.7" height="5" fill="#c4ff33"/>
<rect x="138.4" y="464" width="1.1" height="5" fill="#12fce5"/>
<rect x="151.8" y="464" width="2.2" height="5" fill="#beff39"/>
<rect x="152.35" y="464" width="1.1" height="5" fill="#00ceff"/>
<rect x="124.3" y="469" width="1.7" height="3" fill="#87ff70"/>
<rect x="124.6" y="469" width="1.1" height="3" fill="#005aff"/>
<rect x="138.1" y="469" width="1.7" height="3" fill="#b8ff3e"/>
<rect x="138.4" y="469" width="1.1" height="3" fill="#0bf3ec"/>
<rect x="151.8" y="469" width="2.2" height="3" fill="#b8ff3e"/>
<rect x="152.35" y="469" width="1.1" height="3" fill="#00caff"/>
<rect x="124.3" y="472" width="1.7" height="6" fill="#6bff8c"/>
<rect x="124.6" y="472" width="1.1" height="6" fill="#0042ff"/>
<rect x="138.1" y="472" width="1.7" height="6" fill="#80ff77"/>
<rect x="138.4" y="472" width="1.1" height="6" fill="#00c4ff"/>
<rect x="151.8" y="472" width="2.2" height="6" fill="#80ff77"/>
<rect x="152.35" y="472" width="1.1" height="6" fill="#009bff"/>
<rect x="124.3" y="478" width="1.7" height="3" fill="#16ffe1"/>
<rect x="124.6" y="478" width="1.1" height="3" fill="#0000ff"/>
<rect x="138.1" y="478" width="1.7" height="3" fill="#36ffc1"/>
<rect x="138.4" y="478" width="1.1" height="3" fill="#0087ff"/>
<rect x="151.8" y="478" width="2.2" height="3" fill="#1affdd"/>
<rect x="152.35" y="478" width="1.1" height="3" fill="#0046ff"/>
<rect x="124.3" y="485" width="1.7" height="4" fill="#16ffe1"/>
<rect x="124.6" y="485" width="1.1" height="4" fill="#0000ff"/>
<rect x="138.1" y="485" width="1.7" height="4" fill="#14fee3"/>
<rect x="138.4" y="485" width="1.1" height="4" fill="#006aff"/>
<rect x="151.8" y="485" width="2.2" height="4" fill="#08f0ef"/>
<rect x="152.35" y="485" width="1.1" height="4" fill="#0038ff"/>
<rect x="124.3" y="490" width="1.7" height="5" fill="#0af2ed"/>
<rect x="124.6" y="490" width="1.1" height="5" fill="#0000ff"/>
<rect x="138.1" y="490" width="1.7" height="5" fill="#1affdd"/>
<rect x="138.4" y="490" width="1.1" height="5" fill="#006fff"/>
<rect x="151.8" y="490" width="2.2" height="5" fill="#08f0ef"/>
<rect x="152.35" y="490" width="1.1" height="5" fill="#0038ff"/>
<rect x="124.3" y="496" width="1.7" height="6" fill="#00c8ff"/>
<rect x="124.6" y="496" width="1.1" height="6" fill="#0000e1"/>
<rect x="138.1" y="496" width="1.7" height="6" fill="#08f0ef"/>
<rect x="138.4" y="496" width="1.1" height="6" fill="#0061ff"/>
<rect x="151.8" y="496" width="2.2" height="6" fill="#08f0ef"/>
<rect x="152.35" y="496" width="1.1" height="6" fill="#0038ff"/>
<rect x="124.3" y="504" width="1.7" height="6" fill="#65ff92"/>
<rect x="124.6" y="504" width="1.1" height="6" fill="#003dff"/>
<rect x="138.1" y="504" width="1.7" height="6" fill="#3dffba"/>
<rect x="138.4" y="504" width="1.1" height="6" fill="#008dff"/>
<rect x="151.8" y="504" width="2.2" height="6" fill="#08f0ef"/>
<rect x="152.35" y="504" width="1.1" height="6" fill="#0038ff"/>
<rect x="124.3" y="512" width="1.7" height="10" fill="#00b2ff"/>
<rect x="124.6" y="512" width="1.1" height="10" fill="#0000d1"/>
<rect x="138.1" y="512" width="1.7" height="10" fill="#08f0ef"/>
<rect x="138.4" y="512" width="1.1" height="10" fill="#0061ff"/>
<rect x="151.8" y="512" width="2.2" height="10" fill="#08f0ef"/>
<rect x="152.35" y="512" width="1.1" height="10" fill="#0038ff"/>
<rect x="124.3" y="523" width="1.7" height="7" fill="#00b2ff"/>
<rect x="124.6" y="523" width="1.1" height="7" fill="#0000d1"/>
<rect x="138.1" y="523" width="1.7" height="7" fill="#08f0ef"/>
<rect x="138.4" y="523" width="1.1" height="7" fill="#0061ff"/>
<rect x="151.8" y="523" width="2.2" height="7" fill="#08f0ef"/>
<rect x="152.35" y="523" width="1.1" height="7" fill="#0038ff"/>
<rect x="124.3" y="530" width="1.7" height="7" fill="#00b2ff"/>
<rect x="124.6" y="530" width="1.1" height="7" fill="#0000d1"/>
<rect x="138.1" y="530" width="1.7" height="7" fill="#08f0ef"/>
<rect x="138.4" y="530" width="1.1" height="7" fill="#0061ff"/>
<rect x="151.8" y="530" width="2.2" height="7" fill="#08f0ef"/>
<rect x="152.35" y="530" width="1.1" height="7" fill="#0038ff"/>
<rect x="124.3" y="540" width="1.7" height="4" fill="#00b2ff"/>
<rect x="124.6" y="540" width="1.1" height="4" fill="#0000d1"/>
<rect x="138.1" y="540" width="1.7" height="4" fill="#08f0ef"/>
<rect x="138.4" y="540" width="1.1" height="4" fill="#0061ff"/>
<rect x="151.8" y="540" width="2.2" height="4" fill="#30ffc7"/>
<rect x="152.35" y="540" width="1.1" height="4" fill="#0059ff"/>
<rect x="124.3" y="545" width="1.7" height="18" fill="#00c1ff"/>
<rect x="124.6" y="545" width="1.1" height="18" fill="#0000dc"/>
<rect x="138.1" y="545" width="1.7" height="18" fill="#08f0ef"/>
<rect x="138.4" y="545" width="1.1" height="18" fill="#0061ff"/>
<rect x="151.8" y="545" width="2.2" height="18" fill="#08f0ef"/>
<rect x="152.35" y="545" width="1.1" height="18" fill="#0038ff"/>
<rect x="124.3" y="564" width="1.7" height="4" fill="#00b2ff"/>
<rect x="124.6" y="564" width="1.1" height="4" fill="#0000d1"/>
<rect x="138.1" y="564" width="1.7" height="4" fill="#3cffbb"/>
<rect x="138.4" y="564" width="1.1" height="4" fill="#008bff"/>
<rect x="151.8" y="564" width="2.2" height="4" fill="#08f0ef"/>
<rect x="152.35" y="564" width="1.1" height="4" fill="#0038ff"/>
<rect x="124.3" y="570" width="1.7" height="9" fill="#00e4f8"/>
<rect x="124.6" y="570" width="1.1" height="9" fill="#0000f6"/>
<rect x="138.1" y="570" width="1.7" height="9" fill="#69ff8e"/>
<rect x="138.4" y="570" width="1.1" height="9" fill="#00b1ff"/>
<rect x="151.8" y="570" width="2.2" height="9" fill="#08f0ef"/>
<rect x="152.35" y="570" width="1.1" height="9" fill="#0038ff"/>
<rect x="124.3" y="580" width="1.7" height="7" fill="#00b2ff"/>
<rect x="124.6" y="580" width="1.1" height="7" fill="#0000d1"/>
<rect x="138.1" y="580" width="1.7" height="7" fill="#08f0ef"/>
<rect x="138.4" y="580" width="1.1" height="7" fill="#0061ff"/>
<rect x="151.8" y="580" width="2.2" height="7" fill="#08f0ef"/>
<rect x="152.35" y="580" width="1.1" height="7" fill="#0038ff"/>
<rect x="124.3" y="588" width="1.7" height="2" fill="#00b2ff"/>
<rect x="124.6" y="588" width="1.1" height="2" fill="#0000d1"/>
<rect x="138.1" y="588" width="1.7" height="2" fill="#08f0ef"/>
<rect x="138.4" y="588" width="1.1" height="2" fill="#0061ff"/>
<rect x="151.8" y="588" width="2.2" height="2" fill="#08f0ef"/>
<rect x="152.35" y="588" width="1.1" height="2" fill="#0038ff"/>
<rect x="124.3" y="591" width="1.7" height="7" fill="#10f9e7"/>
<rect x="124.6" y="591" width="1.1" height="7" fill="#0000ff"/>
<rect x="138.1" y="591" width="1.7" height="7" fill="#30ffc7"/>
<rect x="138.4" y="591" width="1.1" height="7" fill="#0082ff"/>
<rect x="151.8" y="591" width="2.2" height="7" fill="#0ef7e9"/>
<rect x="152.35" y="591" width="1.1" height="7" fill="#003dff"/>
<rect x="124.3" y="600" width="1.7" height="11" fill="#00b2ff"/>
<rect x="124.6" y="600" width="1.1" height="11" fill="#0000d1"/>
<rect x="138.1" y="600" width="1.7" height="11" fill="#08f0ef"/>
<rect x="138.4" y="600" width="1.1" height="11" fill="#0061ff"/>
<rect x="151.8" y="600" width="2.2" height="11" fill="#08f0ef"/>
<rect x="152.35" y="600" width="1.1" height="11" fill="#0038ff"/>
<rect x="124.3" y="611" width="1.7" height="11" fill="#05ebf2"/>
<rect x="124.6" y="611" width="1.1" height="11" fill="#0000fc"/>
<rect x="138.1" y="611" width="1.7" height="11" fill="#58ff9f"/>
<rect x="138.4" y="611" width="1.1" height="11" fill="#00a3ff"/>
<rect x="151.8" y="611" width="2.2" height="11" fill="#08f0ef"/>
<rect x="152.35" y="611" width="1.1" height="11" fill="#0038ff"/>
<rect x="124.3" y="623" width="1.7" height="7" fill="#21ffd6"/>
<rect x="124.6" y="623" width="1.1" height="7" fill="#0005ff"/>
<rect x="138.1" y="623" width="1.7" height="7" fill="#3cffbb"/>
<rect x="138.4" y="623" width="1.1" height="7" fill="#008bff"/>
<rect x="151.8" y="623" width="2.2" height="7" fill="#08f0ef"/>
<rect x="152.35" y="623" width="1.1" height="7" fill="#0038ff"/>
<rect x="124.3" y="632" width="1.7" height="7" fill="#2cffcb"/>
<rect x="124.6" y="632" width="1.1" height="7" fill="#000eff"/>
<rect x="138.1" y="632" width="1.7" height="7" fill="#30ffc7"/>
<rect x="138.4" y="632" width="1.1" height="7" fill="#0082ff"/>
<rect x="151.8" y="632" width="2.2" height="7" fill="#08f0ef"/>
<rect x="152.35" y="632" width="1.1" height="7" fill="#0038ff"/>
<rect x="124.3" y="640" width="1.7" height="8" fill="#32ffc5"/>
<rect x="124.6" y="640" width="1.1" height="8" fill="#0013ff"/>
<rect x="138.1" y="640" width="1.7" height="8" fill="#5eff99"/>
<rect x="138.4" y="640" width="1.1" height="8" fill="#00a7ff"/>
<rect x="151.8" y="640" width="2.2" height="8" fill="#52ffa5"/>
<rect x="152.35" y="640" width="1.1" height="8" fill="#0075ff"/>
<rect x="124.3" y="649" width="1.7" height="4" fill="#00b2ff"/>
<rect x="124.6" y="649" width="1.1" height="4" fill="#0000d1"/>
<rect x="138.1" y="649" width="1.7" height="4" fill="#08f0ef"/>
<rect x="138.4" y="649" width="1.1" height="4" fill="#0061ff"/>
<rect x="151.8" y="649" width="2.2" height="4" fill="#08f0ef"/>
<rect x="152.35" y="649" width="1.1" height="4" fill="#0038ff"/>
<rect x="124.3" y="654" width="1.7" height="6" fill="#00b2ff"/>
<rect x="124.6" y="654" width="1.1" height="6" fill="#0000d1"/>
<rect x="138.1" y="654" width="1.7" height="6" fill="#08f0ef"/>
<rect x="138.4" y="654" width="1.1" height="6" fill="#0061ff"/>
<rect x="151.8" y="654" width="2.2" height="6" fill="#52ffa5"/>
<rect x="152.35" y="654" width="1.1" height="6" fill="#0075ff"/>
<rect x="124.3" y="665" width="1.7" height="8" fill="#00b2ff"/>
<rect x="124.6" y="665" width="1.1" height="8" fill="#0000d1"/>
<rect x="138.1" y="665" width="1.7" height="8" fill="#08f0ef"/>
<rect x="138.4" y="665" width="1.1" height="8" fill="#0061ff"/>
<rect x="151.8" y="665" width="2.2" height="8" fill="#08f0ef"/>
<rect x="152.35" y="665" width="1.1" height="8" fill="#0038ff"/>
<rect x="124.3" y="674" width="1.7" height="5" fill="#00c1ff"/>
<rect x="124.6" y="674" width="1.1" height="5" fill="#0000dc"/>
<rect x="138.1" y="674" width="1.7" height="5" fill="#25ffd2"/>
<rect x="138.4" y="674" width="1.1" height="5" fill="#0079ff"/>
<rect x="151.8" y="674" width="2.2" height="5" fill="#52ffa5"/>
<rect x="152.35" y="674" width="1.1" height="5" fill="#0075ff"/>
<rect x="124.3" y="681" width="1.7" height="5" fill="#00d6ff"/>
<rect x="124.6" y="681" width="1.1" height="5" fill="#0000ec"/>
<rect x="138.1" y="681" width="1.7" height="5" fill="#47ffb0"/>
<rect x="138.4" y="681" width="1.1" height="5" fill="#0095ff"/>
<rect x="151.8" y="681" width="2.2" height="5" fill="#47ffb0"/>
<rect x="152.35" y="681" width="1.1" height="5" fill="#006cff"/>
<rect x="124.3" y="687" width="1.7" height="19" fill="#00d6ff"/>
<rect x="124.6" y="687" width="1.1" height="19" fill="#0000ec"/>
<rect x="138.1" y="687" width="1.7" height="19" fill="#08f0ef"/>
<rect x="138.4" y="687" width="1.1" height="19" fill="#0061ff"/>
<rect x="151.8" y="687" width="2.2" height="19" fill="#08f0ef"/>
<rect x="152.35" y="687" width="1.1" height="19" fill="#0038ff"/>
<rect x="124.3" y="709" width="1.7" height="6" fill="#00b2ff"/>
<rect x="124.6" y="709" width="1.1" height="6" fill="#0000d1"/>
<rect x="138.1" y="709" width="1.7" height="6" fill="#30ffc7"/>
<rect x="138.4" y="709" width="1.1" height="6" fill="#0082ff"/>
<rect x="151.8" y="709" width="2.2" height="6" fill="#30ffc7"/>
<rect x="152.35" y="709" width="1.1" height="6" fill="#0059ff"/>
<rect x="124.3" y="718" width="1.7" height="2.5" fill="#38ffbf"/>
<rect x="124.6" y="718" width="1.1" height="2.5" fill="#0018ff"/>
<rect x="138.1" y="718" width="1.7" height="2.5" fill="#69ff8e"/>
<rect x="138.4" y="718" width="1.1" height="2.5" fill="#00b1ff"/>
<rect x="151.8" y="718" width="2.2" height="2.5" fill="#58ff9f"/>
<rect x="152.35" y="718" width="1.1" height="2.5" fill="#007aff"/>
<rect x="112.2" y="81" width="1.2" height="347" fill="#8cff6b" fill-opacity="0.4"/>
<rect x="112.2" y="462" width="1.2" height="258.5" fill="#8cff6b" fill-opacity="0.4"/>
<rect x="123.1" y="81" width="1.2" height="347" fill="#8cff6b" fill-opacity="0.4"/>
<rect x="123.1" y="462" width="1.2" height="258.5" fill="#8cff6b" fill-opacity="0.4"/>
<rect x="126" y="81" width="1.2" height="347" fill="#8cff6b" fill-opacity="0.4"/>
<rect x="126" y="462" width="1.2" height="258.5" fill="#8cff6b" fill-opacity="0.4"/>
<rect x="136.9" y="81" width="1.2" height="347" fill="#8cff6b" fill-opacity="0.4"/>
<rect x="136.9" y="462" width="1.2" height="258.5" fill="#8cff6b" fill-opacity="0.4"/>
<rect x="139.8" y="81" width="1.2" height="347" fill="#8cff6b" fill-opacity="0.4"/>
<rect x="139.8" y="462" width="1.2" height="258.5" fill="#8cff6b" fill-opacity="0.4"/>
<rect x="150.6" y="81" width="1.2" height="347" fill="#8cff6b" fill-opacity="0.4"/>
<rect x="150.6" y="462" width="1.2" height="258.5" fill="#8cff6b" fill-opacity="0.4"/>
<rect x="154" y="81" width="1.2" height="347" fill="#8cff6b" fill-opacity="0.4"/>
<rect x="154" y="462" width="1.2" height="258.5" fill="#8cff6b" fill-opacity="0.4"/>
<rect x="164.4" y="81" width="1.2" height="347" fill="#8cff6b" fill-opacity="0.4"/>
<rect x="164.4" y="462" width="1.2" height="258.5" fill="#8cff6b" fill-opacity="0.4"/>
<rect x="-1" y="111" width="178.9" height="1" fill="#fff"/>
<rect x="-1" y="118" width="178.9" height="1" fill="#fff"/>
<rect x="-1" y="120" width="178.9" height="1" fill="#fff"/>
<rect x="-1" y="122" width="178.9" height="1" fill="#000"/>
<rect x="-1" y="125" width="178.9" height="16" fill="#fff"/>
<rect x="-1" y="142" width="178.9" height="21" fill="#fff"/>
<rect x="-1" y="163" width="178.9" height="1" fill="#000"/>
<rect x="-1" y="164" width="178.9" height="50" fill="#fff"/>
<rect x="-1" y="218" width="178.9" height="1" fill="#fff"/>
<rect x="-1" y="221" width="178.9" height="1" fill="#000"/>
<rect x="-1" y="230" width="178.9" height="1" fill="#000"/>
<rect x="-1" y="239" width="178.9" height="4" fill="#fff"/>
<rect x="-1" y="245" width="178.9" height="2" fill="#fff"/>
<rect x="-1" y="252" width="178.9" height="1" fill="#000"/>
<rect x="-1" y="261" width="178.9" height="1" fill="#000"/>
<rect x="-1" y="263" width="178.9" height="1" fill="#fff"/>
<rect x="-1" y="265" width="178.9" height="4" fill="#000"/>
<rect x="-1" y="269" width="178.9" height="25" fill="#fff"/>
<rect x="-1" y="301" width="178.9" height="1" fill="#fff"/>
<rect x="-1" y="302" width="178.9" height="1.5" fill="#000"/>
<rect x="-1" y="303.5" width="178.9" height="1.5" fill="#fff"/>
<rect x="-1" y="307" width="178.9" height="1" fill="#fff"/>
<rect x="-1" y="308" width="178.9" height="1" fill="#000"/>
<rect x="-1" y="310" width="178.9" height="1" fill="#fff"/>
<rect x="-1" y="322" width="178.9" height="1.5" fill="#000"/>
<rect x="-1" y="326.5" width="178.9" height="3.5" fill="#fff"/>
<rect x="-1" y="336" width="178.9" height="1" fill="#000"/>
<rect x="-1" y="345" width="178.9" height="1" fill="#fff"/>
<rect x="-1" y="347.5" width="178.9" height="1.5" fill="#fff"/>
<rect x="-1" y="354.5" width="178.9" height="0.8" fill="#000"/>
<rect x="-1" y="358" width="178.9" height="1" fill="#000"/>
<rect x="-1" y="363" width="178.9" height="2" fill="#000"/>
<rect x="-1" y="366.5" width="178.9" height="1.5" fill="#fff"/>
<rect x="-1" y="370.5" width="178.9" height="0.5" fill="#000"/>
<rect x="-1" y="371" width="178.9" height="1.2" fill="#fff"/>
<rect x="-1" y="373" width="178.9" height="0.6" fill="#000"/>
<rect x="-1" y="375" width="178.9" height="3" fill="#000"/>
<rect x="-1" y="382" width="178.9" height="34" fill="#fff"/>
<rect x="-1" y="420" width="178.9" height="1" fill="#fff"/>
<rect x="-1" y="426" width="178.9" height="2" fill="#fff"/>
<rect x="-1" y="430" width="178.9" height="1" fill="#000"/>
<rect x="-1" y="432" width="178.9" height="3" fill="#000"/>
<rect x="-1" y="436" width="178.9" height="1" fill="#000"/>
<rect x="-1" y="438" width="178.9" height="2" fill="#000"/>
<rect x="-1" y="441" width="178.9" height="1" fill="#000"/>
<rect x="-1" y="443" width="178.9" height="1" fill="#000"/>
<rect x="-1" y="445" width="178.9" height="1" fill="#000"/>
<rect x="-1" y="447.2" width="178.9" height="0.7" fill="#000"/>
<rect x="-1" y="449" width="178.9" height="1.2" fill="#fff"/>
<rect x="-1" y="456" width="178.9" height="3" fill="#000"/>
<rect x="-1" y="461.8" width="178.9" height="1.2" fill="#fff"/>
<rect x="-1" y="463" width="178.9" height="1.5" fill="#000"/>
<rect x="-1" y="469.2" width="178.9" height="0.8" fill="#000"/>
<rect x="-1" y="471" width="178.9" height="0.8" fill="#000"/>
<rect x="-1" y="478" width="178.9" height="1" fill="#000"/>
<rect x="-1" y="481" width="178.9" height="4" fill="#fff"/>
<rect x="-1" y="489" width="178.9" height="1" fill="#fff"/>
<rect x="-1" y="495" width="178.9" height="1" fill="#fff"/>
<rect x="-1" y="502" width="178.9" height="2" fill="#000"/>
<rect x="-1" y="510" width="178.9" height="2" fill="#fff"/>
<rect x="-1" y="522" width="178.9" height="1" fill="#fff"/>
<rect x="-1" y="529" width="178.9" height="1.2" fill="#fff"/>
<rect x="-1" y="531" width="178.9" height="1" fill="#000"/>
<rect x="-1" y="533" width="178.9" height="1" fill="#fff"/>
<rect x="-1" y="536" width="178.9" height="1" fill="#000"/>
<rect x="-1" y="537" width="178.9" height="3" fill="#fff"/>
<rect x="-1" y="544" width="178.9" height="1" fill="#fff"/>
<rect x="-1" y="563" width="178.9" height="1" fill="#fff"/>
<rect x="-1" y="568" width="178.9" height="2" fill="#fff"/>
<rect x="-1" y="579" width="178.9" height="1" fill="#000"/>
<rect x="-1" y="587" width="178.9" height="1" fill="#000"/>
<rect x="-1" y="590" width="178.9" height="1" fill="#fff"/>
<rect x="-1" y="598" width="178.9" height="2" fill="#fff"/>
<rect x="-1" y="622" width="178.9" height="1" fill="#fff"/>
<rect x="-1" y="626" width="178.9" height="1" fill="#fff"/>
<rect x="-1" y="627.4" width="178.9" height="0.9" fill="#fff"/>
<rect x="-1" y="630" width="178.9" height="2" fill="#fff"/>
<rect x="-1" y="639" width="178.9" height="1" fill="#fff"/>
<rect x="-1" y="648.3" width="178.9" height="0.9" fill="#000"/>
<rect x="-1" y="653" width="178.9" height="1" fill="#fff"/>
<rect x="-1" y="655" width="178.9" height="2" fill="#000"/>
<rect x="-1" y="658" width="178.9" height="1" fill="#000"/>
<rect x="-1" y="660" width="178.9" height="3.2" fill="#fff"/>
<rect x="-1" y="663.2" width="178.9" height="0.8" fill="#000"/>
<rect x="-1" y="664" width="178.9" height="1" fill="#fff"/>
<rect x="-1" y="673" width="178.9" height="1" fill="#fff"/>
<rect x="-1" y="679" width="178.9" height="2" fill="#fff"/>
<rect x="-1" y="686" width="178.9" height="1" fill="#fff"/>
<rect x="-1" y="706" width="178.9" height="3" fill="#000"/>
<rect x="-1" y="715" width="178.9" height="3" fill="#fff"/>
</g></g>
<rect x="131.5" y="80.5" width="177" height="640" fill="none" stroke="#000" stroke-width="1"/>
<text x="131.55" y="735.6" font-size="12.1" text-anchor="middle">320</text>
<text x="173.01" y="735.6" font-size="12.1" text-anchor="middle">335</text>
<text x="214.47" y="735.6" font-size="12.1" text-anchor="middle">350</text>
<text x="255.93" y="735.6" font-size="12.1" text-anchor="middle">365</text>
<text x="297.39" y="735.6" font-size="12.1" text-anchor="middle">380</text>
<text x="126.4" y="724.1" font-size="12.1" text-anchor="end">0</text>
<text x="126.4" y="590.77" font-size="12.1" text-anchor="end">5</text>
<text x="126.4" y="457.43" font-size="12.1" text-anchor="end">10</text>
<text x="126.4" y="324.1" font-size="12.1" text-anchor="end">15</text>
<text x="126.4" y="190.77" font-size="12.1" text-anchor="end">20</text>
<path d="M173.5 720.5 v-4 M173.5 80.5 v4 M214.5 720.5 v-4 M214.5 80.5 v4 M256.5 720.5 v-4 M256.5 80.5 v4 M297.5 720.5 v-4 M297.5 80.5 v4 M131.5 587.5 h4 M308.5 587.5 h-4 M131.5 453.5 h4 M308.5 453.5 h-4 M131.5 320.5 h4 M308.5 320.5 h-4 M131.5 187.5 h4 M308.5 187.5 h-4" stroke="#000" stroke-width="1" fill="none"/>
<text x="220" y="72.6" font-size="14.95" text-anchor="middle">XX, V1*V15=EA10*EA26</text>
<clipPath id="cp1"><rect x="344" y="80" width="177" height="641"/></clipPath>
<g clip-path="url(#cp1)" shape-rendering="geometricPrecision"><g transform="translate(343.53,0)">
<rect x="-1" y="80" width="178.9" height="641" fill="#0a3fe0"/>
<rect x="-1" y="80" width="178.9" height="641" fill="#0a3fe0" filter="url(#nz)"/>
<rect x="-1" y="323.5" width="178.9" height="3" fill="#00d1ff" fill-opacity="0.5"/>
<rect x="-1" y="504" width="178.9" height="6" fill="#00bdff" fill-opacity="0.6"/>
<rect x="-1" y="532" width="178.9" height="4" fill="#00d1ff" fill-opacity="0.55"/>
<rect x="-1" y="262" width="178.9" height="3" fill="#00d1ff" fill-opacity="0.4"/>
<rect x="-1" y="378" width="178.9" height="4" fill="#00b2ff" fill-opacity="0.55"/>
<rect x="-1" y="718" width="178.9" height="2.5" fill="#08f0ef" fill-opacity="0.7"/>
<rect x="-1" y="141" width="178.9" height="1" fill="#00b2ff" fill-opacity="0.5"/>
<linearGradient id="g1_4280" gradientUnits="userSpaceOnUse" x1="0" y1="0" x2="176.9" y2="0">
<stop offset="0" stop-color="#0019ff" stop-opacity="0"/>
<stop offset="0.51" stop-color="#004dff" stop-opacity="0"/>
<stop offset="0.55" stop-color="#19ffde" stop-opacity="0.9"/>
<stop offset="0.59" stop-color="#a5ff52" stop-opacity="1"/>
<stop offset="0.63" stop-color="#ffec00" stop-opacity="1"/>
<stop offset="0.93" stop-color="#ceff29" stop-opacity="1"/>
<stop offset="0.94" stop-color="#29ffce" stop-opacity="1"/>
<stop offset="1" stop-color="#00e5f7" stop-opacity="0.8"/>
</linearGradient>
<rect x="-1" y="428" width="178.9" height="2" fill="url(#g1_4280)"/>
<linearGradient id="g1_4310" gradientUnits="userSpaceOnUse" x1="0" y1="0" x2="176.9" y2="0">
<stop offset="0" stop-color="#f30900" stop-opacity="1"/>
<stop offset="1" stop-color="#f30900" stop-opacity="1"/>
</linearGradient>
<rect x="-1" y="431" width="178.9" height="1" fill="url(#g1_4310)"/>
<linearGradient id="g1_4350" gradientUnits="userSpaceOnUse" x1="0" y1="0" x2="176.9" y2="0">
<stop offset="0" stop-color="#b90000" stop-opacity="1"/>
<stop offset="1" stop-color="#b90000" stop-opacity="1"/>
</linearGradient>
<rect x="-1" y="435" width="178.9" height="1" fill="url(#g1_4350)"/>
<linearGradient id="g1_4370" gradientUnits="userSpaceOnUse" x1="0" y1="0" x2="176.9" y2="0">
<stop offset="0" stop-color="#b90000" stop-opacity="1"/>
<stop offset="1" stop-color="#b90000" stop-opacity="1"/>
</linearGradient>
<rect x="-1" y="437" width="178.9" height="1" fill="url(#g1_4370)"/>
<linearGradient id="g1_4400" gradientUnits="userSpaceOnUse" x1="0" y1="0" x2="176.9" y2="0">
<stop offset="0" stop-color="#d10000" stop-opacity="1"/>
<stop offset="1" stop-color="#d10000" stop-opacity="1"/>
</linearGradient>
<rect x="-1" y="440" width="178.9" height="1" fill="url(#g1_4400)"/>
<linearGradient id="g1_4420" gradientUnits="userSpaceOnUse" x1="0" y1="0" x2="176.9" y2="0">
<stop offset="0" stop-color="#f30900" stop-opacity="1"/>
<stop offset="1" stop-color="#f30900" stop-opacity="1"/>
</linearGradient>
<rect x="-1" y="442" width="178.9" height="1" fill="url(#g1_4420)"/>
<linearGradient id="g1_4440" gradientUnits="userSpaceOnUse" x1="0" y1="0" x2="176.9" y2="0">
<stop offset="0" stop-color="#ff5500" stop-opacity="1"/>
<stop offset="0.57" stop-color="#ff5500" stop-opacity="1"/>
<stop offset="0.63" stop-color="#f30900" stop-opacity="1"/>
<stop offset="1" stop-color="#ff3900" stop-opacity="1"/>
</linearGradient>
<rect x="-1" y="444" width="178.9" height="1" fill="url(#g1_4440)"/>
<linearGradient id="g1_4460" gradientUnits="userSpaceOnUse" x1="0" y1="0" x2="176.9" y2="0">
<stop offset="0" stop-color="#0019ff" stop-opacity="0"/>
<stop offset="0.52" stop-color="#004dff" stop-opacity="0"/>
<stop offset="0.57" stop-color="#00e5f7" stop-opacity="0.8"/>
<stop offset="0.63" stop-color="#52ffa5" stop-opacity="1"/>
<stop offset="0.94" stop-color="#7bff7b" stop-opacity="1"/>
<stop offset="0.95" stop-color="#00b2ff" stop-opacity="0.5"/>
<stop offset="1" stop-color="#00b2ff" stop-opacity="0.3"/>
</linearGradient>
<rect x="-1" y="446" width="178.9" height="3" fill="url(#g1_4460)"/>
<linearGradient id="g1_4495" gradientUnits="userSpaceOnUse" x1="0" y1="0" x2="176.9" y2="0">
<stop offset="0" stop-color="#ffec00" stop-opacity="1"/>
<stop offset="0.07" stop-color="#ffb300" stop-opacity="1"/>
<stop offset="0.23" stop-color="#ff6800" stop-opacity="1"/>
<stop offset="0.49" stop-color="#ff3900" stop-opacity="1"/>
<stop offset="0.57" stop-color="#dc0000" stop-opacity="1"/>
<stop offset="0.63" stop-color="#a20000" stop-opacity="1"/>
<stop offset="0.94" stop-color="#f30900" stop-opacity="1"/>
<stop offset="1" stop-color="#ff6800" stop-opacity="1"/>
</linearGradient>
<rect x="-1" y="449.5" width="178.9" height="3.5" fill="url(#g1_4495)"/>
<linearGradient id="g1_4530" gradientUnits="userSpaceOnUse" x1="0" y1="0" x2="176.9" y2="0">
<stop offset="0" stop-color="#0019ff" stop-opacity="0"/>
<stop offset="0.5" stop-color="#004dff" stop-opacity="0"/>
<stop offset="0.54" stop-color="#29ffce" stop-opacity="0.9"/>
<stop offset="0.58" stop-color="#a5ff52" stop-opacity="1"/>
<stop offset="0.63" stop-color="#ffc600" stop-opacity="1"/>
<stop offset="0.94" stop-color="#ceff29" stop-opacity="1"/>
<stop offset="0.95" stop-color="#29ffce" stop-opacity="1"/>
<stop offset="1" stop-color="#29ffce" stop-opacity="0.8"/>
</linearGradient>
<rect x="-1" y="453" width="178.9" height="3" fill="url(#g1_4530)"/>
<linearGradient id="g1_810" gradientUnits="userSpaceOnUse" x1="0" y1="0" x2="176.9" y2="0">
<stop offset="0" stop-color="#00bdff" stop-opacity="0.38"/>
<stop offset="0.4" stop-color="#00bdff" stop-opacity="0.3"/>
<stop offset="0.57" stop-color="#00b2ff" stop-opacity="0.1"/>
<stop offset="1" stop-color="#00b2ff" stop-opacity="0"/>
</linearGradient>
<rect x="-1" y="81" width="178.9" height="11" fill="url(#g1_810)"/>
<linearGradient id="g1_920" gradientUnits="userSpaceOnUse" x1="0" y1="0" x2="176.9" y2="0">
<stop offset="0" stop-color="#00b2ff" stop-opacity="0.22"/>
<stop offset="0.28" stop-color="#00b2ff" stop-opacity="0.15"/>
<stop offset="0.45" stop-color="#00b2ff" stop-opacity="0"/>
<stop offset="1" stop-color="#00b2ff" stop-opacity="0"/>
</linearGradient>
<rect x="-1" y="92" width="178.9" height="12" fill="url(#g1_920)"/>
<rect x="104" y="81" width="8.2" height="19" fill="url(#trA)"/>
<rect x="96" y="100" width="16.2" height="11" fill="url(#trB)"/>
<rect x="100" y="112" width="12.2" height="13" fill="url(#trA)"/>
<rect x="104" y="214" width="8.2" height="7" fill="url(#trA)"/>
<rect x="96" y="221" width="16.2" height="18" fill="url(#trB)"/>
<rect x="101" y="243" width="11.2" height="22" fill="url(#trA)"/>
<rect x="99" y="294" width="13.2" height="7" fill="url(#trA)"/>
<rect x="104" y="305" width="8.2" height="5" fill="url(#trA)"/>
<rect x="100" y="311" width="12.2" height="11" fill="url(#trA)"/>
<rect x="106" y="330" width="6.2" height="45" fill="url(#trA)"/>
<rect x="104" y="416" width="8.2" height="10" fill="url(#trA)"/>
<rect x="96" y="459" width="16.2" height="3" fill="url(#trB)"/>
<rect x="92" y="464" width="20.2" height="5" fill="url(#trC)"/>
<rect x="94" y="469" width="18.2" height="9" fill="url(#trB)"/>
<rect x="96" y="478" width="16.2" height="3" fill="url(#trB)"/>
<rect x="105" y="485" width="7.2" height="17" fill="url(#trA)"/>
<rect x="106" y="512" width="6.2" height="18" fill="url(#trA)"/>
<rect x="100" y="540" width="12.2" height="8" fill="url(#trA)"/>
<rect x="96" y="548" width="16.2" height="15" fill="url(#trB)"/>
<rect x="100" y="564" width="12.2" height="4" fill="url(#trA)"/>
<rect x="98" y="570" width="14.2" height="9" fill="url(#trB)"/>
<rect x="102" y="580" width="10.2" height="10" fill="url(#trA)"/>
<rect x="98" y="591" width="14.2" height="7" fill="url(#trB)"/>
<rect x="96" y="600" width="16.2" height="12" fill="url(#trB)"/>
<rect x="102" y="612" width="10.2" height="18" fill="url(#trA)"/>
<rect x="102" y="632" width="10.2" height="7" fill="url(#trA)"/>
<rect x="97" y="640" width="15.2" height="8" fill="url(#trB)"/>
<rect x="102" y="649" width="10.2" height="11" fill="url(#trA)"/>
<rect x="101" y="665" width="11.2" height="14" fill="url(#trA)"/>
<rect x="96" y="681" width="16.2" height="5" fill="url(#trB)"/>
<rect x="96" y="687" width="16.2" height="12" fill="url(#trB)"/>
<rect x="94" y="699" width="18.2" height="7" fill="url(#trB)"/>
<rect x="96" y="709" width="16.2" height="6" fill="url(#trB)"/>
<rect x="55.3" y="81" width="1" height="639" fill="#3affbd" fill-opacity="0.32"/>
<rect x="94.9" y="81" width="1" height="639" fill="#29ffce" fill-opacity="0.15"/>
<rect x="108" y="693" width="4.4" height="13" fill="#adff4a"/>
<rect x="108" y="709" width="4.4" height="6" fill="#bdff3a"/>
<rect x="112.2" y="81" width="12.1" height="6" fill="#ffab00"/>
<rect x="126" y="81" width="12.1" height="6" fill="#ff9500"/>
<rect x="139.8" y="81" width="12" height="6" fill="#ffab00"/>
<rect x="154" y="81" width="11.6" height="6" fill="#ffab00"/>
<rect x="112.2" y="87" width="12.1" height="4" fill="#ffec00"/>
<rect x="126" y="87" width="12.1" height="4" fill="#ffab00"/>
<rect x="139.8" y="87" width="12" height="4" fill="#ffc100"/>
<rect x="154" y="87" width="11.6" height="4" fill="#deff19"/>
<rect x="112.2" y="91" width="12.1" height="4" fill="#f7f600"/>
<rect x="126" y="91" width="12.1" height="4" fill="#ff9500"/>
<rect x="139.8" y="91" width="12" height="4" fill="#ffec00"/>
<rect x="154" y="91" width="11.6" height="4" fill="#deff19"/>
<rect x="112.2" y="95" width="12.1" height="4" fill="#ffab00"/>
<rect x="126" y="95" width="12.1" height="4" fill="#ff9500"/>
<rect x="139.8" y="95" width="12" height="4" fill="#ffab00"/>
<rect x="154" y="95" width="11.6" height="4" fill="#ceff29"/>
<rect x="112.2" y="99" width="12.1" height="5" fill="#ffec00"/>
<rect x="126" y="99" width="12.1" height="5" fill="#ffab00"/>
<rect x="139.8" y="99" width="12" height="5" fill="#ffec00"/>
<rect x="154" y="99" width="11.6" height="5" fill="#bdff3a"/>
<rect x="112.2" y="104" width="12.1" height="4" fill="#ceff29"/>
<rect x="126" y="104" width="12.1" height="4" fill="#ffab00"/>
<rect x="139.8" y="104" width="12" height="4" fill="#ffab00"/>
<rect x="154" y="104" width="11.6" height="4" fill="#a5ff52"/>
<rect x="112.2" y="108" width="12.1" height="3" fill="#a5ff52"/>
<rect x="126" y="108" width="12.1" height="3" fill="#ceff29"/>
<rect x="139.8" y="108" width="12" height="3" fill="#deff19"/>
<rect x="154" y="108" width="11.6" height="3" fill="#7bff7b"/>
<rect x="112.2" y="111" width="12.1" height="7" fill="#ffd600"/>
<rect x="126" y="111" width="12.1" height="7" fill="#ceff29"/>
<rect x="139.8" y="111" width="12" height="7" fill="#a5ff52"/>
<rect x="154" y="111" width="11.6" height="7" fill="#ffec00"/>
<rect x="112.2" y="118" width="12.1" height="7" fill="#ffc100"/>
<rect x="126" y="118" width="12.1" height="7" fill="#ffd600"/>
<rect x="139.8" y="118" width="12" height="7" fill="#ff5400"/>
<rect x="154" y="118" width="11.6" height="7" fill="#ffab00"/>
<rect x="112.2" y="141" width="12.1" height="1" fill="#b90000"/>
<rect x="126" y="141" width="12.1" height="1" fill="#b90000"/>
<rect x="139.8" y="141" width="12" height="1" fill="#f30900"/>
<rect x="154" y="141" width="11.6" height="1" fill="#ff8a00"/>
<rect x="112.2" y="214" width="12.1" height="4" fill="#ffab00"/>
<rect x="126" y="214" width="12.1" height="4" fill="#ffab00"/>
<rect x="139.8" y="214" width="12" height="4" fill="#ffec00"/>
<rect x="154" y="214" width="11.6" height="4" fill="#ffec00"/>
<rect x="112.2" y="218" width="12.1" height="3" fill="#ffc100"/>
<rect x="126" y="218" width="12.1" height="3" fill="#ffab00"/>
<rect x="139.8" y="218" width="12" height="3" fill="#ffc100"/>
<rect x="154" y="218" width="11.6" height="3" fill="#ffd600"/>
<rect x="112.2" y="221" width="12.1" height="9" fill="#ff8000"/>
<rect x="126" y="221" width="12.1" height="9" fill="#ff6a00"/>
<rect x="139.8" y="221" width="12" height="9" fill="#ff9500"/>
<rect x="154" y="221" width="11.6" height="9" fill="#ffab00"/>
<rect x="112.2" y="230" width="12.1" height="9" fill="#ff8000"/>
<rect x="126" y="230" width="12.1" height="9" fill="#ff6a00"/>
<rect x="139.8" y="230" width="12" height="9" fill="#ff8000"/>
<rect x="154" y="230" width="11.6" height="9" fill="#ff9500"/>
<rect x="112.2" y="243" width="12.1" height="2" fill="#ffc100"/>
<rect x="126" y="243" width="12.1" height="2" fill="#ffc100"/>
<rect x="139.8" y="243" width="12" height="2" fill="#ffc100"/>
<rect x="154" y="243" width="11.6" height="2" fill="#ffd600"/>
<rect x="112.2" y="247" width="12.1" height="5" fill="#ffd600"/>
<rect x="126" y="247" width="12.1" height="5" fill="#ffd600"/>
<rect x="139.8" y="247" width="12" height="5" fill="#ffab00"/>
<rect x="154" y="247" width="11.6" height="5" fill="#ffec00"/>
<rect x="112.2" y="252" width="12.1" height="9" fill="#ffd600"/>
<rect x="126" y="252" width="12.1" height="9" fill="#ffec00"/>
<rect x="139.8" y="252" width="12" height="9" fill="#ffab00"/>
<rect x="154" y="252" width="11.6" height="9" fill="#efff08"/>
<rect x="112.2" y="261" width="12.1" height="4" fill="#ffab00"/>
<rect x="126" y="261" width="12.1" height="4" fill="#ffc100"/>
<rect x="139.8" y="261" width="12" height="4" fill="#ffab00"/>
<rect x="154" y="261" width="11.6" height="4" fill="#ffec00"/>
<rect x="112.2" y="294" width="12.1" height="7" fill="#ffc100"/>
<rect x="126" y="294" width="12.1" height="7" fill="#ffab00"/>
<rect x="139.8" y="294" width="12" height="7" fill="#ffec00"/>
<rect x="154" y="294" width="11.6" height="7" fill="#deff19"/>
<rect x="112.2" y="305" width="12.1" height="5" fill="#ffec00"/>
<rect x="126" y="305" width="12.1" height="5" fill="#ffd600"/>
<rect x="139.8" y="305" width="12" height="5" fill="#efff08"/>
<rect x="154" y="305" width="11.6" height="5" fill="#ceff29"/>
<rect x="112.2" y="311" width="12.1" height="11" fill="#ff6a00"/>
<rect x="126" y="311" width="12.1" height="11" fill="#ff5400"/>
<rect x="139.8" y="311" width="12" height="11" fill="#ff9500"/>
<rect x="154" y="311" width="11.6" height="11" fill="#ceff29"/>
<rect x="112.2" y="323" width="12.1" height="4" fill="#ffab00"/>
<rect x="126" y="323" width="12.1" height="4" fill="#ffab00"/>
<rect x="139.8" y="323" width="12" height="4" fill="#ffec00"/>
<rect x="154" y="323" width="11.6" height="4" fill="#deff19"/>
<rect x="112.2" y="330" width="12.1" height="6" fill="#ffc100"/>
<rect x="126" y="330" width="12.1" height="6" fill="#deff19"/>
<rect x="139.8" y="330" width="12" height="6" fill="#deff19"/>
<rect x="154" y="330" width="11.6" height="6" fill="#ffc100"/>
<rect x="112.2" y="336" width="12.1" height="9" fill="#ceff29"/>
<rect x="126" y="336" width="12.1" height="9" fill="#deff19"/>
<rect x="139.8" y="336" width="12" height="9" fill="#ffd600"/>
<rect x="154" y="336" width="11.6" height="9" fill="#ffec00"/>
<rect x="112.2" y="346" width="12.1" height="2" fill="#ceff29"/>
<rect x="126" y="346" width="12.1" height="2" fill="#ceff29"/>
<rect x="139.8" y="346" width="12" height="2" fill="#ffec00"/>
<rect x="154" y="346" width="11.6" height="2" fill="#efff08"/>
<rect x="112.2" y="349" width="12.1" height="6" fill="#ffab00"/>
<rect x="126" y="349" width="12.1" height="6" fill="#ffec00"/>
<rect x="139.8" y="349" width="12" height="6" fill="#ffec00"/>
<rect x="154" y="349" width="11.6" height="6" fill="#ceff29"/>
<rect x="112.2" y="355" width="12.1" height="3" fill="#ff5400"/>
<rect x="126" y="355" width="12.1" height="3" fill="#ff9500"/>
<rect x="139.8" y="355" width="12" height="3" fill="#ffec00"/>
<rect x="154" y="355" width="11.6" height="3" fill="#bdff3a"/>
<rect x="112.2" y="358" width="12.1" height="5" fill="#ff5400"/>
<rect x="126" y="358" width="12.1" height="5" fill="#ff8000"/>
<rect x="139.8" y="358" width="12" height="5" fill="#ffd600"/>
<rect x="154" y="358" width="11.6" height="5" fill="#bdff3a"/>
<rect x="112.2" y="365" width="12.1" height="6" fill="#ffc100"/>
<rect x="126" y="365" width="12.1" height="6" fill="#ffd600"/>
<rect x="139.8" y="365" width="12" height="6" fill="#ffec00"/>
<rect x="154" y="365" width="11.6" height="6" fill="#ceff29"/>
<rect x="112.2" y="372" width="12.1" height="3" fill="#ffc100"/>
<rect x="126" y="372" width="12.1" height="3" fill="#ffec00"/>
<rect x="139.8" y="372" width="12" height="3" fill="#ffec00"/>
<rect x="154" y="372" width="11.6" height="3" fill="#deff19"/>
<rect x="112.2" y="378" width="12.1" height="4" fill="#ffab00"/>
<rect x="126" y="378" width="12.1" height="4" fill="#ff9500"/>
<rect x="139.8" y="378" width="12" height="4" fill="#ffb600"/>
<rect x="154" y="378" width="11.6" height="4" fill="#ffc100"/>
<rect x="112.2" y="416" width="12.1" height="4" fill="#ff9500"/>
<rect x="126" y="416" width="12.1" height="4" fill="#ffab00"/>
<rect x="139.8" y="416" width="12" height="4" fill="#ffc100"/>
<rect x="154" y="416" width="11.6" height="4" fill="#ff9500"/>
<rect x="112.2" y="421" width="12.1" height="5" fill="#ff8000"/>
<rect x="126" y="421" width="12.1" height="5" fill="#ffab00"/>
<rect x="139.8" y="421" width="12" height="5" fill="#efff08"/>
<rect x="154" y="421" width="11.6" height="5" fill="#ff9500"/>
<rect x="112.2" y="428" width="12.1" height="31" fill="#a20000"/>
<rect x="126" y="428" width="12.1" height="31" fill="#a20000"/>
<rect x="139.8" y="428" width="12" height="31" fill="#a20000"/>
<rect x="154" y="428" width="11.6" height="31" fill="#a20000"/>
<rect x="112.2" y="459" width="12.1" height="1" fill="#ff5400"/>
<rect x="126" y="459" width="12.1" height="1" fill="#ff5400"/>
<rect x="139.8" y="459" width="12" height="1" fill="#ff5400"/>
<rect x="154" y="459" width="11.6" height="1" fill="#ff5400"/>
<rect x="112.2" y="460" width="12.1" height="2" fill="#b90000"/>
<rect x="126" y="460" width="12.1" height="2" fill="#b90000"/>
<rect x="139.8" y="460" width="12" height="2" fill="#b90000"/>
<rect x="154" y="460" width="11.6" height="2" fill="#b90000"/>
<rect x="112.2" y="464" width="12.1" height="5" fill="#ff1300"/>
<rect x="126" y="464" width="12.1" height="5" fill="#ff3300"/>
<rect x="139.8" y="464" width="12" height="5" fill="#ff7500"/>
<rect x="154" y="464" width="11.6" height="5" fill="#ffcc00"/>
<rect x="112.2" y="469" width="12.1" height="3" fill="#ff1e00"/>
<rect x="126" y="469" width="12.1" height="3" fill="#ff3e00"/>
<rect x="139.8" y="469" width="12" height="3" fill="#ff8a00"/>
<rect x="154" y="469" width="11.6" height="3" fill="#ffd600"/>
<rect x="112.2" y="472" width="12.1" height="6" fill="#ff3300"/>
<rect x="126" y="472" width="12.1" height="6" fill="#ff5400"/>
<rect x="139.8" y="472" width="12" height="6" fill="#ffa000"/>
<rect x="154" y="472" width="11.6" height="6" fill="#ffec00"/>
<rect x="112.2" y="478" width="12.1" height="3" fill="#ffab00"/>
<rect x="126" y="478" width="12.1" height="3" fill="#ffab00"/>
<rect x="139.8" y="478" width="12" height="3" fill="#ffec00"/>
<rect x="154" y="478" width="11.6" height="3" fill="#ceff29"/>
<rect x="112.2" y="485" width="12.1" height="4" fill="#ffc100"/>
<rect x="126" y="485" width="12.1" height="4" fill="#ff9500"/>
<rect x="139.8" y="485" width="12" height="4" fill="#ffab00"/>
<rect x="154" y="485" width="11.6" height="4" fill="#deff19"/>
<rect x="112.2" y="490" width="12.1" height="5" fill="#ffab00"/>
<rect x="126" y="490" width="12.1" height="5" fill="#ff8000"/>
<rect x="139.8" y="490" width="12" height="5" fill="#ffab00"/>
<rect x="154" y="490" width="11.6" height="5" fill="#ceff29"/>
<rect x="112.2" y="496" width="12.1" height="6" fill="#ffc100"/>
<rect x="126" y="496" width="12.1" height="6" fill="#ff9500"/>
<rect x="139.8" y="496" width="12" height="6" fill="#ffc100"/>
<rect x="154" y="496" width="11.6" height="6" fill="#a5ff52"/>
<rect x="112.2" y="504" width="12.1" height="6" fill="#ff9500"/>
<rect x="126" y="504" width="12.1" height="6" fill="#deff19"/>
<rect x="139.8" y="504" width="12" height="6" fill="#ffab00"/>
<rect x="154" y="504" width="11.6" height="6" fill="#ff8000"/>
<rect x="112.2" y="512" width="12.1" height="10" fill="#ffd600"/>
<rect x="126" y="512" width="12.1" height="10" fill="#ffc100"/>
<rect x="139.8" y="512" width="12" height="10" fill="#deff19"/>
<rect x="154" y="512" width="11.6" height="10" fill="#7bff7b"/>
<rect x="112.2" y="523" width="12.1" height="7" fill="#ffc100"/>
<rect x="126" y="523" width="12.1" height="7" fill="#ffab00"/>
<rect x="139.8" y="523" width="12" height="7" fill="#deff19"/>
<rect x="154" y="523" width="11.6" height="7" fill="#7bff7b"/>
<rect x="112.2" y="530" width="12.1" height="2" fill="#ffc100"/>
<rect x="126" y="530" width="12.1" height="2" fill="#ffab00"/>
<rect x="139.8" y="530" width="12" height="2" fill="#ffec00"/>
<rect x="154" y="530" width="11.6" height="2" fill="#ceff29"/>
<rect x="112.2" y="532" width="12.1" height="5" fill="#ffab00"/>
<rect x="126" y="532" width="12.1" height="5" fill="#ffd600"/>
<rect x="139.8" y="532" width="12" height="5" fill="#ffab00"/>
<rect x="154" y="532" width="11.6" height="5" fill="#ff9500"/>
<rect x="112.2" y="540" width="12.1" height="4" fill="#ffab00"/>
<rect x="126" y="540" width="12.1" height="4" fill="#ff8000"/>
<rect x="139.8" y="540" width="12" height="4" fill="#ffab00"/>
<rect x="154" y="540" width="11.6" height="4" fill="#ffc100"/>
<rect x="112.2" y="545" width="12.1" height="18" fill="#ffab00"/>
<rect x="126" y="545" width="12.1" height="18" fill="#ff5400"/>
<rect x="139.8" y="545" width="12" height="18" fill="#ffab00"/>
<rect x="154" y="545" width="11.6" height="18" fill="#ffd600"/>
<rect x="112.2" y="564" width="12.1" height="4" fill="#ffec00"/>
<rect x="126" y="564" width="12.1" height="4" fill="#ff9500"/>
<rect x="139.8" y="564" width="12" height="4" fill="#ffd600"/>
<rect x="154" y="564" width="11.6" height="4" fill="#efff08"/>
<rect x="112.2" y="570" width="12.1" height="9" fill="#efff08"/>
<rect x="126" y="570" width="12.1" height="9" fill="#ffab00"/>
<rect x="139.8" y="570" width="12" height="9" fill="#ffc100"/>
<rect x="154" y="570" width="11.6" height="9" fill="#efff08"/>
<rect x="112.2" y="580" width="12.1" height="7" fill="#deff19"/>
<rect x="126" y="580" width="12.1" height="7" fill="#ffc100"/>
<rect x="139.8" y="580" width="12" height="7" fill="#ffab00"/>
<rect x="154" y="580" width="11.6" height="7" fill="#deff19"/>
<rect x="112.2" y="588" width="12.1" height="2" fill="#deff19"/>
<rect x="126" y="588" width="12.1" height="2" fill="#ffc100"/>
<rect x="139.8" y="588" width="12" height="2" fill="#ffc100"/>
<rect x="154" y="588" width="11.6" height="2" fill="#deff19"/>
<rect x="112.2" y="591" width="12.1" height="7" fill="#ffd600"/>
<rect x="126" y="591" width="12.1" height="7" fill="#ff9500"/>
<rect x="139.8" y="591" width="12" height="7" fill="#ffc100"/>
<rect x="154" y="591" width="11.6" height="7" fill="#efff08"/>
<rect x="112.2" y="600" width="12.1" height="11" fill="#a5ff52"/>
<rect x="126" y="600" width="12.1" height="11" fill="#a5ff52"/>
<rect x="139.8" y="600" width="12" height="11" fill="#ffc100"/>
<rect x="154" y="600" width="11.6" height="11" fill="#8cff6b"/>
<rect x="112.2" y="611" width="12.1" height="7" fill="#ffab00"/>
<rect x="126" y="611" width="12.1" height="7" fill="#bdff3a"/>
<rect x="139.8" y="611" width="12" height="7" fill="#ffab00"/>
<rect x="154" y="611" width="11.6" height="7" fill="#deff19"/>
<rect x="112.2" y="618" width="12.1" height="4" fill="#deff19"/>
<rect x="126" y="618" width="12.1" height="4" fill="#bdff3a"/>
<rect x="139.8" y="618" width="12" height="4" fill="#ffc100"/>
<rect x="154" y="618" width="11.6" height="4" fill="#ceff29"/>
<rect x="112.2" y="623" width="12.1" height="7" fill="#deff19"/>
<rect x="126" y="623" width="12.1" height="7" fill="#ceff29"/>
<rect x="139.8" y="623" width="12" height="7" fill="#ffec00"/>
<rect x="154" y="623" width="11.6" height="7" fill="#ceff29"/>
<rect x="112.2" y="632" width="12.1" height="7" fill="#deff19"/>
<rect x="126" y="632" width="12.1" height="7" fill="#ffc100"/>
<rect x="139.8" y="632" width="12" height="7" fill="#ff9500"/>
<rect x="154" y="632" width="11.6" height="7" fill="#a5ff52"/>
<rect x="112.2" y="640" width="12.1" height="2" fill="#ffab00"/>
<rect x="126" y="640" width="12.1" height="2" fill="#deff19"/>
<rect x="139.8" y="640" width="12" height="2" fill="#efff08"/>
<rect x="154" y="640" width="11.6" height="2" fill="#8cff6b"/>
<rect x="112.2" y="642" width="12.1" height="6" fill="#deff19"/>
<rect x="126" y="642" width="12.1" height="6" fill="#ceff29"/>
<rect x="139.8" y="642" width="12" height="6" fill="#deff19"/>
<rect x="154" y="642" width="11.6" height="6" fill="#7bff7b"/>
<rect x="112.2" y="649" width="12.1" height="4" fill="#deff19"/>
<rect x="126" y="649" width="12.1" height="4" fill="#deff19"/>
<rect x="139.8" y="649" width="12" height="4" fill="#efff08"/>
<rect x="154" y="649" width="11.6" height="4" fill="#a5ff52"/>
<rect x="112.2" y="654" width="12.1" height="6" fill="#ffec00"/>
<rect x="126" y="654" width="12.1" height="6" fill="#ffc100"/>
<rect x="139.8" y="654" width="12" height="6" fill="#ff9500"/>
<rect x="154" y="654" width="11.6" height="6" fill="#ffec00"/>
<rect x="112.2" y="665" width="12.1" height="8" fill="#deff19"/>
<rect x="126" y="665" width="12.1" height="8" fill="#deff19"/>
<rect x="139.8" y="665" width="12" height="8" fill="#ffec00"/>
<rect x="154" y="665" width="11.6" height="8" fill="#deff19"/>
<rect x="112.2" y="674" width="12.1" height="5" fill="#bdff3a"/>
<rect x="126" y="674" width="12.1" height="5" fill="#bdff3a"/>
<rect x="139.8" y="674" width="12" height="5" fill="#deff19"/>
<rect x="154" y="674" width="11.6" height="5" fill="#ceff29"/>
<rect x="112.2" y="681" width="12.1" height="5" fill="#ceff29"/>
<rect x="126" y="681" width="12.1" height="5" fill="#bdff3a"/>
<rect x="139.8" y="681" width="12" height="5" fill="#deff19"/>
<rect x="154" y="681" width="11.6" height="5" fill="#bdff3a"/>
<rect x="112.2" y="687" width="12.1" height="6" fill="#ffd600"/>
<rect x="126" y="687" width="12.1" height="6" fill="#ceff29"/>
<rect x="139.8" y="687" width="12" height="6" fill="#ffc100"/>
<rect x="154" y="687" width="11.6" height="6" fill="#ceff29"/>
<rect x="112.2" y="693" width="12.1" height="6" fill="#ffec00"/>
<rect x="126" y="693" width="12.1" height="6" fill="#deff19"/>
<rect x="139.8" y="693" width="12" height="6" fill="#deff19"/>
<rect x="154" y="693" width="11.6" height="6" fill="#bdff3a"/>
<rect x="112.2" y="699" width="12.1" height="7" fill="#ceff29"/>
<rect x="126" y="699" width="12.1" height="7" fill="#adff4a"/>
<rect x="139.8" y="699" width="12" height="7" fill="#bdff3a"/>
<rect x="154" y="699" width="11.6" height="7" fill="#bdff3a"/>
<rect x="112.2" y="709" width="12.1" height="6" fill="#ffc100"/>
<rect x="126" y="709" width="12.1" height="6" fill="#deff19"/>
<rect x="139.8" y="709" width="12" height="6" fill="#ffec00"/>
<rect x="154" y="709" width="11.6" height="6" fill="#ceff29"/>
<rect x="112.2" y="718" width="12.1" height="2.5" fill="#ffab00"/>
<rect x="126" y="718" width="12.1" height="2.5" fill="#ffd600"/>
<rect x="139.8" y="718" width="12" height="2.5" fill="#ffab00"/>
<rect x="154" y="718" width="11.6" height="2.5" fill="#ceff29"/>
<rect x="112.2" y="81" width="53.4" height="347" fill="none" filter="url(#hz)" opacity="0.45"/>
<rect x="112.2" y="462" width="53.4" height="258.5" fill="none" filter="url(#hz)" opacity="0.45"/>
<rect x="124.3" y="81" width="1.7" height="6" fill="#00e4f8"/>
<rect x="124.6" y="81" width="1.1" height="6" fill="#0000f6"/>
<rect x="138.1" y="81" width="1.7" height="6" fill="#30ffc7"/>
<rect x="138.4" y="81" width="1.1" height="6" fill="#0082ff"/>
<rect x="151.8" y="81" width="2.2" height="6" fill="#25ffd2"/>
<rect x="152.35" y="81" width="1.1" height="6" fill="#0050ff"/>
<rect x="124.3" y="87" width="1.7" height="4" fill="#00b2ff"/>
<rect x="124.6" y="87" width="1.1" height="4" fill="#0000d1"/>
<rect x="138.1" y="87" width="1.7" height="4" fill="#1affdd"/>
<rect x="138.4" y="87" width="1.1" height="4" fill="#006fff"/>
<rect x="151.8" y="87" width="2.2" height="4" fill="#08f0ef"/>
<rect x="152.35" y="87" width="1.1" height="4" fill="#0038ff"/>
<rect x="124.3" y="91" width="1.7" height="4" fill="#00b4ff"/>
<rect x="124.6" y="91" width="1.1" height="4" fill="#0000d2"/>
<rect x="138.1" y="91" width="1.7" height="4" fill="#0ef7e9"/>
<rect x="138.4" y="91" width="1.1" height="4" fill="#0066ff"/>
<rect x="151.8" y="91" width="2.2" height="4" fill="#08f0ef"/>
<rect x="152.35" y="91" width="1.1" height="4" fill="#0038ff"/>
<rect x="124.3" y="95" width="1.7" height="4" fill="#00e4f8"/>
<rect x="124.6" y="95" width="1.1" height="4" fill="#0000f6"/>
<rect x="138.1" y="95" width="1.7" height="4" fill="#30ffc7"/>
<rect x="138.4" y="95" width="1.1" height="4" fill="#0082ff"/>
<rect x="151.8" y="95" width="2.2" height="4" fill="#08f0ef"/>
<rect x="152.35" y="95" width="1.1" height="4" fill="#0038ff"/>
<rect x="124.3" y="99" width="1.7" height="5" fill="#00b2ff"/>
<rect x="124.6" y="99" width="1.1" height="5" fill="#0000d1"/>
<rect x="138.1" y="99" width="1.7" height="5" fill="#08f0ef"/>
<rect x="138.4" y="99" width="1.1" height="5" fill="#0061ff"/>
<rect x="151.8" y="99" width="2.2" height="5" fill="#08f0ef"/>
<rect x="152.35" y="99" width="1.1" height="5" fill="#0038ff"/>
<rect x="124.3" y="104" width="1.7" height="4" fill="#00b2ff"/>
<rect x="124.6" y="104" width="1.1" height="4" fill="#0000d1"/>
<rect x="138.1" y="104" width="1.7" height="4" fill="#25ffd2"/>
<rect x="138.4" y="104" width="1.1" height="4" fill="#0079ff"/>
<rect x="151.8" y="104" width="2.2" height="4" fill="#08f0ef"/>
<rect x="152.35" y="104" width="1.1" height="4" fill="#0038ff"/>
<rect x="124.3" y="108" width="1.7" height="3" fill="#00b2ff"/>
<rect x="124.6" y="108" width="1.1" height="3" fill="#0000d1"/>
<rect x="138.1" y="108" width="1.7" height="3" fill="#08f0ef"/>
<rect x="138.4" y="108" width="1.1" height="3" fill="#0061ff"/>
<rect x="151.8" y="108" width="2.2" height="3" fill="#08f0ef"/>
<rect x="152.35" y="108" width="1.1" height="3" fill="#0038ff"/>
<rect x="124.3" y="111" width="1.7" height="7" fill="#00b2ff"/>
<rect x="124.6" y="111" width="1.1" height="7" fill="#0000d1"/>
<rect x="138.1" y="111" width="1.7" height="7" fill="#08f0ef"/>
<rect x="138.4" y="111" width="1.1" height="7" fill="#0061ff"/>
<rect x="151.8" y="111" width="2.2" height="7" fill="#08f0ef"/>
<rect x="152.35" y="111" width="1.1" height="7" fill="#0038ff"/>
<rect x="124.3" y="118" width="1.7" height="7" fill="#00b2ff"/>
<rect x="124.6" y="118" width="1.1" height="7" fill="#0000d1"/>
<rect x="138.1" y="118" width="1.7" height="7" fill="#3cffbb"/>
<rect x="138.4" y="118" width="1.1" height="7" fill="#008bff"/>
<rect x="151.8" y="118" width="2.2" height="7" fill="#52ffa5"/>
<rect x="152.35" y="118" width="1.1" height="7" fill="#0075ff"/>
<rect x="124.3" y="141" width="1.7" height="1" fill="#f30900"/>
<rect x="124.6" y="141" width="1.1" height="1" fill="#ff2f00"/>
<rect x="138.1" y="141" width="1.7" height="1" fill="#f30900"/>
<rect x="138.4" y="141" width="1.1" height="1" fill="#ff2f00"/>
<rect x="151.8" y="141" width="2.2" height="1" fill="#8aff6c"/>
<rect x="152.35" y="141" width="1.1" height="1" fill="#00a4ff"/>
<rect x="124.3" y="214" width="1.7" height="4" fill="#00d6ff"/>
<rect x="124.6" y="214" width="1.1" height="4" fill="#0000ec"/>
<rect x="138.1" y="214" width="1.7" height="4" fill="#08f0ef"/>
<rect x="138.4" y="214" width="1.1" height="4" fill="#0061ff"/>
<rect x="151.8" y="214" width="2.2" height="4" fill="#08f0ef"/>
<rect x="152.35" y="214" width="1.1" height="4" fill="#0038ff"/>
<rect x="124.3" y="218" width="1.7" height="3" fill="#00c8ff"/>
<rect x="124.6" y="218" width="1.1" height="3" fill="#0000e1"/>
<rect x="138.1" y="218" width="1.7" height="3" fill="#1affdd"/>
<rect x="138.4" y="218" width="1.1" height="3" fill="#006fff"/>
<rect x="151.8" y="218" width="2.2" height="3" fill="#08f0ef"/>
<rect x="152.35" y="218" width="1.1" height="3" fill="#0038ff"/>
<rect x="124.3" y="221" width="1.7" height="9" fill="#2cffcb"/>
<rect x="124.6" y="221" width="1.1" height="9" fill="#000eff"/>
<rect x="138.1" y="221" width="1.7" height="9" fill="#52ffa5"/>
<rect x="138.4" y="221" width="1.1" height="9" fill="#009eff"/>
<rect x="151.8" y="221" width="2.2" height="9" fill="#30ffc7"/>
<rect x="152.35" y="221" width="1.1" height="9" fill="#0059ff"/>
<rect x="124.3" y="230" width="1.7" height="9" fill="#2cffcb"/>
<rect x="124.6" y="230" width="1.1" height="9" fill="#000eff"/>
<rect x="138.1" y="230" width="1.7" height="9" fill="#5eff99"/>
<rect x="138.4" y="230" width="1.1" height="9" fill="#00a7ff"/>
<rect x="151.8" y="230" width="2.2" height="9" fill="#47ffb0"/>
<rect x="152.35" y="230" width="1.1" height="9" fill="#006cff"/>
<rect x="124.3" y="243" width="1.7" height="2" fill="#00baff"/>
<rect x="124.6" y="243" width="1.1" height="2" fill="#0000d6"/>
<rect x="138.1" y="243" width="1.7" height="2" fill="#0ef7e9"/>
<rect x="138.4" y="243" width="1.1" height="2" fill="#0066ff"/>
<rect x="151.8" y="243" width="2.2" height="2" fill="#08f0ef"/>
<rect x="152.35" y="243" width="1.1" height="2" fill="#0038ff"/>
<rect x="124.3" y="247" width="1.7" height="5" fill="#00b2ff"/>
<rect x="124.6" y="247" width="1.1" height="5" fill="#0000d1"/>
<rect x="138.1" y="247" width="1.7" height="5" fill="#0ef7e9"/>
<rect x="138.4" y="247" width="1.1" height="5" fill="#0066ff"/>
<rect x="151.8" y="247" width="2.2" height="5" fill="#08f0ef"/>
<rect x="152.35" y="247" width="1.1" height="5" fill="#0038ff"/>
<rect x="124.3" y="252" width="1.7" height="9" fill="#00b2ff"/>
<rect x="124.6" y="252" width="1.1" height="9" fill="#0000d1"/>
<rect x="138.1" y="252" width="1.7" height="9" fill="#08f0ef"/>
<rect x="138.4" y="252" width="1.1" height="9" fill="#0061ff"/>
<rect x="151.8" y="252" width="2.2" height="9" fill="#08f0ef"/>
<rect x="152.35" y="252" width="1.1" height="9" fill="#0038ff"/>
<rect x="124.3" y="261" width="1.7" height="4" fill="#00c8ff"/>
<rect x="124.6" y="261" width="1.1" height="4" fill="#0000e1"/>
<rect x="138.1" y="261" width="1.7" height="4" fill="#1affdd"/>
<rect x="138.4" y="261" width="1.1" height="4" fill="#006fff"/>
<rect x="151.8" y="261" width="2.2" height="4" fill="#08f0ef"/>
<rect x="152.35" y="261" width="1.1" height="4" fill="#0038ff"/>
<rect x="124.3" y="294" width="1.7" height="7" fill="#00c8ff"/>
<rect x="124.6" y="294" width="1.1" height="7" fill="#0000e1"/>
<rect x="138.1" y="294" width="1.7" height="7" fill="#08f0ef"/>
<rect x="138.4" y="294" width="1.1" height="7" fill="#0061ff"/>
<rect x="151.8" y="294" width="2.2" height="7" fill="#08f0ef"/>
<rect x="152.35" y="294" width="1.1" height="7" fill="#0038ff"/>
<rect x="124.3" y="305" width="1.7" height="5" fill="#00b2ff"/>
<rect x="124.6" y="305" width="1.1" height="5" fill="#0000d1"/>
<rect x="138.1" y="305" width="1.7" height="5" fill="#08f0ef"/>
<rect x="138.4" y="305" width="1.1" height="5" fill="#0061ff"/>
<rect x="151.8" y="305" width="2.2" height="5" fill="#08f0ef"/>
<rect x="152.35" y="305" width="1.1" height="5" fill="#0038ff"/>
<rect x="124.3" y="311" width="1.7" height="11" fill="#43ffb4"/>
<rect x="124.6" y="311" width="1.1" height="11" fill="#0021ff"/>
<rect x="138.1" y="311" width="1.7" height="11" fill="#5eff99"/>
<rect x="138.4" y="311" width="1.1" height="11" fill="#00a7ff"/>
<rect x="151.8" y="311" width="2.2" height="11" fill="#08f0ef"/>
<rect x="152.35" y="311" width="1.1" height="11" fill="#0038ff"/>
<rect x="124.3" y="323" width="1.7" height="4" fill="#00d6ff"/>
<rect x="124.6" y="323" width="1.1" height="4" fill="#0000ec"/>
<rect x="138.1" y="323" width="1.7" height="4" fill="#08f0ef"/>
<rect x="138.4" y="323" width="1.1" height="4" fill="#0061ff"/>
<rect x="151.8" y="323" width="2.2" height="4" fill="#08f0ef"/>
<rect x="152.35" y="323" width="1.1" height="4" fill="#0038ff"/>
<rect x="124.3" y="330" width="1.7" height="6" fill="#00b2ff"/>
<rect x="124.6" y="330" width="1.1" height="6" fill="#0000d1"/>
<rect x="138.1" y="330" width="1.7" height="6" fill="#08f0ef"/>
<rect x="138.4" y="330" width="1.1" height="6" fill="#0061ff"/>
<rect x="151.8" y="330" width="2.2" height="6" fill="#08f0ef"/>
<rect x="152.35" y="330" width="1.1" height="6" fill="#0038ff"/>
<rect x="124.3" y="336" width="1.7" height="9" fill="#00b2ff"/>
<rect x="124.6" y="336" width="1.1" height="9" fill="#0000d1"/>
<rect x="138.1" y="336" width="1.7" height="9" fill="#08f0ef"/>
<rect x="138.4" y="336" width="1.1" height="9" fill="#0061ff"/>
<rect x="151.8" y="336" width="2.2" height="9" fill="#08f0ef"/>
<rect x="152.35" y="336" width="1.1" height="9" fill="#0038ff"/>
<rect x="124.3" y="346" width="1.7" height="2" fill="#00b2ff"/>
<rect x="124.6" y="346" width="1.1" height="2" fill="#0000d1"/>
<rect x="138.1" y="346" width="1.7" height="2" fill="#08f0ef"/>
<rect x="138.4" y="346" width="1.1" height="2" fill="#0061ff"/>
<rect x="151.8" y="346" width="2.2" height="2" fill="#08f0ef"/>
<rect x="152.35" y="346" width="1.1" height="2" fill="#0038ff"/>
<rect x="124.3" y="349" width="1.7" height="6" fill="#00b2ff"/>
<rect x="124.6" y="349" width="1.1" height="6" fill="#0000d1"/>
<rect x="138.1" y="349" width="1.7" height="6" fill="#08f0ef"/>
<rect x="138.4" y="349" width="1.1" height="6" fill="#0061ff"/>
<rect x="151.8" y="349" width="2.2" height="6" fill="#08f0ef"/>
<rect x="152.35" y="349" width="1.1" height="6" fill="#0038ff"/>
<rect x="124.3" y="355" width="1.7" height="3" fill="#2cffcb"/>
<rect x="124.6" y="355" width="1.1" height="3" fill="#000eff"/>
<rect x="138.1" y="355" width="1.7" height="3" fill="#0ef7e9"/>
<rect x="138.4" y="355" width="1.1" height="3" fill="#0066ff"/>
<rect x="151.8" y="355" width="2.2" height="3" fill="#08f0ef"/>
<rect x="152.35" y="355" width="1.1" height="3" fill="#0038ff"/>
<rect x="124.3" y="358" width="1.7" height="5" fill="#38ffbf"/>
<rect x="124.6" y="358" width="1.1" height="5" fill="#0018ff"/>
<rect x="138.1" y="358" width="1.7" height="5" fill="#25ffd2"/>
<rect x="138.4" y="358" width="1.1" height="5" fill="#0079ff"/>
<rect x="151.8" y="358" width="2.2" height="5" fill="#08f0ef"/>
<rect x="152.35" y="358" width="1.1" height="5" fill="#0038ff"/>
<rect x="124.3" y="365" width="1.7" height="6" fill="#00b2ff"/>
<rect x="124.6" y="365" width="1.1" height="6" fill="#0000d1"/>
<rect x="138.1" y="365" width="1.7" height="6" fill="#08f0ef"/>
<rect x="138.4" y="365" width="1.1" height="6" fill="#0061ff"/>
<rect x="151.8" y="365" width="2.2" height="6" fill="#08f0ef"/>
<rect x="152.35" y="365" width="1.1" height="6" fill="#0038ff"/>
<rect x="124.3" y="372" width="1.7" height="3" fill="#00b2ff"/>
<rect x="124.6" y="372" width="1.1" height="3" fill="#0000d1"/>
<rect x="138.1" y="372" width="1.7" height="3" fill="#08f0ef"/>
<rect x="138.4" y="372" width="1.1" height="3" fill="#0061ff"/>
<rect x="151.8" y="372" width="2.2" height="3" fill="#08f0ef"/>
<rect x="152.35" y="372" width="1.1" height="3" fill="#0038ff"/>
<rect x="124.3" y="378" width="1.7" height="4" fill="#00e4f8"/>
<rect x="124.6" y="378" width="1.1" height="4" fill="#0000f6"/>
<rect x="138.1" y="378" width="1.7" height="4" fill="#2bffcc"/>
<rect x="138.4" y="378" width="1.1" height="4" fill="#007dff"/>
<rect x="151.8" y="378" width="2.2" height="4" fill="#14fee3"/>
<rect x="152.35" y="378" width="1.1" height="4" fill="#0042ff"/>
<rect x="124.3" y="416" width="1.7" height="4" fill="#00e4f8"/>
<rect x="124.6" y="416" width="1.1" height="4" fill="#0000f6"/>
<rect x="138.1" y="416" width="1.7" height="4" fill="#1affdd"/>
<rect x="138.4" y="416" width="1.1" height="4" fill="#006fff"/>
<rect x="151.8" y="416" width="2.2" height="4" fill="#25ffd2"/>
<rect x="152.35" y="416" width="1.1" height="4" fill="#0050ff"/>
<rect x="124.3" y="421" width="1.7" height="5" fill="#0af2ed"/>
<rect x="124.6" y="421" width="1.1" height="5" fill="#0000ff"/>
<rect x="138.1" y="421" width="1.7" height="5" fill="#08f0ef"/>
<rect x="138.4" y="421" width="1.1" height="5" fill="#0061ff"/>
<rect x="151.8" y="421" width="2.2" height="5" fill="#08f0ef"/>
<rect x="152.35" y="421" width="1.1" height="5" fill="#0038ff"/>
<rect x="124.3" y="428" width="1.7" height="31" fill="#f30900"/>
<rect x="124.6" y="428" width="1.1" height="31" fill="#ff2f00"/>
<rect x="138.1" y="428" width="1.7" height="31" fill="#f30900"/>
<rect x="138.4" y="428" width="1.1" height="31" fill="#ff2f00"/>
<rect x="151.8" y="428" width="2.2" height="31" fill="#f30900"/>
<rect x="152.35" y="428" width="1.1" height="31" fill="#ff2f00"/>
<rect x="124.3" y="459" width="1.7" height="1" fill="#4effa8"/>
<rect x="124.6" y="459" width="1.1" height="1" fill="#002bff"/>
<rect x="138.1" y="459" width="1.7" height="1" fill="#80ff77"/>
<rect x="138.4" y="459" width="1.1" height="1" fill="#00c4ff"/>
<rect x="151.8" y="459" width="2.2" height="1" fill="#80ff77"/>
<rect x="152.35" y="459" width="1.1" height="1" fill="#009bff"/>
<rect x="124.3" y="460" width="1.7" height="2" fill="#f30900"/>
<rect x="124.6" y="460" width="1.1" height="2" fill="#ff2f00"/>
<rect x="138.1" y="460" width="1.7" height="2" fill="#f30900"/>
<rect x="138.4" y="460" width="1.1" height="2" fill="#ff2f00"/>
<rect x="151.8" y="460" width="2.2" height="2" fill="#f30900"/>
<rect x="152.35" y="460" width="1.1" height="2" fill="#ff2f00"/>
<rect x="124.3" y="464" width="1.7" height="5" fill="#81ff75"/>
<rect x="124.6" y="464" width="1.1" height="5" fill="#0055ff"/>
<rect x="138.1" y="464" width="1.7" height="5" fill="#80ff77"/>
<rect x="138.4" y="464" width="1.1" height="5" fill="#00c4ff"/>
<rect x="151.8" y="464" width="2.2" height="5" fill="#30ffc7"/>
<rect x="152.35" y="464" width="1.1" height="5" fill="#0059ff"/>
<rect x="124.3" y="469" width="1.7" height="3" fill="#76ff81"/>
<rect x="124.6" y="469" width="1.1" height="3" fill="#004bff"/>
<rect x="138.1" y="469" width="1.7" height="3" fill="#6fff88"/>
<rect x="138.4" y="469" width="1.1" height="3" fill="#00b6ff"/>
<rect x="151.8" y="469" width="2.2" height="3" fill="#1fffd8"/>
<rect x="152.35" y="469" width="1.1" height="3" fill="#004bff"/>
<rect x="124.3" y="472" width="1.7" height="6" fill="#5fff97"/>
<rect x="124.6" y="472" width="1.1" height="6" fill="#0039ff"/>
<rect x="138.1" y="472" width="1.7" height="6" fill="#58ff9f"/>
<rect x="138.4" y="472" width="1.1" height="6" fill="#00a3ff"/>
<rect x="151.8" y="472" width="2.2" height="6" fill="#08f0ee"/>
<rect x="152.35" y="472" width="1.1" height="6" fill="#0038ff"/>
<rect x="124.3" y="478" width="1.7" height="3" fill="#00d6ff"/>
<rect x="124.6" y="478" width="1.1" height="3" fill="#0000ec"/>
<rect x="138.1" y="478" width="1.7" height="3" fill="#08f0ef"/>
<rect x="138.4" y="478" width="1.1" height="3" fill="#0061ff"/>
<rect x="151.8" y="478" width="2.2" height="3" fill="#08f0ef"/>
<rect x="152.35" y="478" width="1.1" height="3" fill="#0038ff"/>
<rect x="124.3" y="485" width="1.7" height="4" fill="#00d6ff"/>
<rect x="124.6" y="485" width="1.1" height="4" fill="#0000ec"/>
<rect x="138.1" y="485" width="1.7" height="4" fill="#30ffc7"/>
<rect x="138.4" y="485" width="1.1" height="4" fill="#0082ff"/>
<rect x="151.8" y="485" width="2.2" height="4" fill="#08f0ef"/>
<rect x="152.35" y="485" width="1.1" height="4" fill="#0038ff"/>
<rect x="124.3" y="490" width="1.7" height="5" fill="#0af2ed"/>
<rect x="124.6" y="490" width="1.1" height="5" fill="#0000ff"/>
<rect x="138.1" y="490" width="1.7" height="5" fill="#3cffbb"/>
<rect x="138.4" y="490" width="1.1" height="5" fill="#008bff"/>
<rect x="151.8" y="490" width="2.2" height="5" fill="#08f0ef"/>
<rect x="152.35" y="490" width="1.1" height="5" fill="#0038ff"/>
<rect x="124.3" y="496" width="1.7" height="6" fill="#00d6ff"/>
<rect x="124.6" y="496" width="1.1" height="6" fill="#0000ec"/>
<rect x="138.1" y="496" width="1.7" height="6" fill="#25ffd2"/>
<rect x="138.4" y="496" width="1.1" height="6" fill="#0079ff"/>
<rect x="151.8" y="496" width="2.2" height="6" fill="#08f0ef"/>
<rect x="152.35" y="496" width="1.1" height="6" fill="#0038ff"/>
<rect x="124.3" y="504" width="1.7" height="6" fill="#00b2ff"/>
<rect x="124.6" y="504" width="1.1" height="6" fill="#0000d1"/>
<rect x="138.1" y="504" width="1.7" height="6" fill="#08f0ef"/>
<rect x="138.4" y="504" width="1.1" height="6" fill="#0061ff"/>
<rect x="151.8" y="504" width="2.2" height="6" fill="#3cffbb"/>
<rect x="152.35" y="504" width="1.1" height="6" fill="#0063ff"/>
<rect x="124.3" y="512" width="1.7" height="10" fill="#00b2ff"/>
<rect x="124.6" y="512" width="1.1" height="10" fill="#0000d1"/>
<rect x="138.1" y="512" width="1.7" height="10" fill="#08f0ef"/>
<rect x="138.4" y="512" width="1.1" height="10" fill="#0061ff"/>
<rect x="151.8" y="512" width="2.2" height="10" fill="#08f0ef"/>
<rect x="152.35" y="512" width="1.1" height="10" fill="#0038ff"/>
<rect x="124.3" y="523" width="1.7" height="7" fill="#00c8ff"/>
<rect x="124.6" y="523" width="1.1" height="7" fill="#0000e1"/>
<rect x="138.1" y="523" width="1.7" height="7" fill="#08f0ef"/>
<rect x="138.4" y="523" width="1.1" height="7" fill="#0061ff"/>
<rect x="151.8" y="523" width="2.2" height="7" fill="#08f0ef"/>
<rect x="152.35" y="523" width="1.1" height="7" fill="#0038ff"/>
<rect x="124.3" y="530" width="1.7" height="2" fill="#00c8ff"/>
<rect x="124.6" y="530" width="1.1" height="2" fill="#0000e1"/>
<rect x="138.1" y="530" width="1.7" height="2" fill="#08f0ef"/>
<rect x="138.4" y="530" width="1.1" height="2" fill="#0061ff"/>
<rect x="151.8" y="530" width="2.2" height="2" fill="#08f0ef"/>
<rect x="152.35" y="530" width="1.1" height="2" fill="#0038ff"/>
<rect x="124.3" y="532" width="1.7" height="5" fill="#00baff"/>
<rect x="124.6" y="532" width="1.1" height="5" fill="#0000d6"/>
<rect x="138.1" y="532" width="1.7" height="5" fill="#0ef7e9"/>
<rect x="138.4" y="532" width="1.1" height="5" fill="#0066ff"/>
<rect x="151.8" y="532" width="2.2" height="5" fill="#30ffc7"/>
<rect x="152.35" y="532" width="1.1" height="5" fill="#0059ff"/>
<rect x="124.3" y="540" width="1.7" height="4" fill="#0af2ed"/>
<rect x="124.6" y="540" width="1.1" height="4" fill="#0000ff"/>
<rect x="138.1" y="540" width="1.7" height="4" fill="#3cffbb"/>
<rect x="138.4" y="540" width="1.1" height="4" fill="#008bff"/>
<rect x="151.8" y="540" width="2.2" height="4" fill="#1affdd"/>
<rect x="152.35" y="540" width="1.1" height="4" fill="#0046ff"/>
<rect x="124.3" y="545" width="1.7" height="18" fill="#21ffd6"/>
<rect x="124.6" y="545" width="1.1" height="18" fill="#0005ff"/>
<rect x="138.1" y="545" width="1.7" height="18" fill="#52ffa5"/>
<rect x="138.4" y="545" width="1.1" height="18" fill="#009eff"/>
<rect x="151.8" y="545" width="2.2" height="18" fill="#0ef7e9"/>
<rect x="152.35" y="545" width="1.1" height="18" fill="#003dff"/>
<rect x="124.3" y="564" width="1.7" height="4" fill="#00baff"/>
<rect x="124.6" y="564" width="1.1" height="4" fill="#0000d6"/>
<rect x="138.1" y="564" width="1.7" height="4" fill="#1affdd"/>
<rect x="138.4" y="564" width="1.1" height="4" fill="#006fff"/>
<rect x="151.8" y="564" width="2.2" height="4" fill="#08f0ef"/>
<rect x="152.35" y="564" width="1.1" height="4" fill="#0038ff"/>
<rect x="124.3" y="570" width="1.7" height="9" fill="#00b2ff"/>
<rect x="124.6" y="570" width="1.1" height="9" fill="#0000d1"/>
<rect x="138.1" y="570" width="1.7" height="9" fill="#1affdd"/>
<rect x="138.4" y="570" width="1.1" height="9" fill="#006fff"/>
<rect x="151.8" y="570" width="2.2" height="9" fill="#08f0ef"/>
<rect x="152.35" y="570" width="1.1" height="9" fill="#0038ff"/>
<rect x="124.3" y="580" width="1.7" height="7" fill="#00b2ff"/>
<rect x="124.6" y="580" width="1.1" height="7" fill="#0000d1"/>
<rect x="138.1" y="580" width="1.7" height="7" fill="#1affdd"/>
<rect x="138.4" y="580" width="1.1" height="7" fill="#006fff"/>
<rect x="151.8" y="580" width="2.2" height="7" fill="#08f0ef"/>
<rect x="152.35" y="580" width="1.1" height="7" fill="#0038ff"/>
<rect x="124.3" y="588" width="1.7" height="2" fill="#00b2ff"/>
<rect x="124.6" y="588" width="1.1" height="2" fill="#0000d1"/>
<rect x="138.1" y="588" width="1.7" height="2" fill="#0ef7e9"/>
<rect x="138.4" y="588" width="1.1" height="2" fill="#0066ff"/>
<rect x="151.8" y="588" width="2.2" height="2" fill="#08f0ef"/>
<rect x="152.35" y="588" width="1.1" height="2" fill="#0038ff"/>
<rect x="124.3" y="591" width="1.7" height="7" fill="#00c8ff"/>
<rect x="124.6" y="591" width="1.1" height="7" fill="#0000e1"/>
<rect x="138.1" y="591" width="1.7" height="7" fill="#25ffd2"/>
<rect x="138.4" y="591" width="1.1" height="7" fill="#0079ff"/>
<rect x="151.8" y="591" width="2.2" height="7" fill="#08f0ef"/>
<rect x="152.35" y="591" width="1.1" height="7" fill="#0038ff"/>
<rect x="124.3" y="600" width="1.7" height="11" fill="#00b2ff"/>
<rect x="124.6" y="600" width="1.1" height="11" fill="#0000d1"/>
<rect x="138.1" y="600" width="1.7" height="11" fill="#08f0ef"/>
<rect x="138.4" y="600" width="1.1" height="11" fill="#0061ff"/>
<rect x="151.8" y="600" width="2.2" height="11" fill="#08f0ef"/>
<rect x="152.35" y="600" width="1.1" height="11" fill="#0038ff"/>
<rect x="124.3" y="611" width="1.7" height="7" fill="#00b2ff"/>
<rect x="124.6" y="611" width="1.1" height="7" fill="#0000d1"/>
<rect x="138.1" y="611" width="1.7" height="7" fill="#08f0ef"/>
<rect x="138.4" y="611" width="1.1" height="7" fill="#0061ff"/>
<rect x="151.8" y="611" width="2.2" height="7" fill="#08f0ef"/>
<rect x="152.35" y="611" width="1.1" height="7" fill="#0038ff"/>
<rect x="124.3" y="618" width="1.7" height="4" fill="#00b2ff"/>
<rect x="124.6" y="618" width="1.1" height="4" fill="#0000d1"/>
<rect x="138.1" y="618" width="1.7" height="4" fill="#08f0ef"/>
<rect x="138.4" y="618" width="1.1" height="4" fill="#0061ff"/>
<rect x="151.8" y="618" width="2.2" height="4" fill="#08f0ef"/>
<rect x="152.35" y="618" width="1.1" height="4" fill="#0038ff"/>
<rect x="124.3" y="623" width="1.7" height="7" fill="#00b2ff"/>
<rect x="124.6" y="623" width="1.1" height="7" fill="#0000d1"/>
<rect x="138.1" y="623" width="1.7" height="7" fill="#08f0ef"/>
<rect x="138.4" y="623" width="1.1" height="7" fill="#0061ff"/>
<rect x="151.8" y="623" width="2.2" height="7" fill="#08f0ef"/>
<rect x="152.35" y="623" width="1.1" height="7" fill="#0038ff"/>
<rect x="124.3" y="632" width="1.7" height="7" fill="#00b2ff"/>
<rect x="124.6" y="632" width="1.1" height="7" fill="#0000d1"/>
<rect x="138.1" y="632" width="1.7" height="7" fill="#25ffd2"/>
<rect x="138.4" y="632" width="1.1" height="7" fill="#0079ff"/>
<rect x="151.8" y="632" width="2.2" height="7" fill="#08f0ef"/>
<rect x="152.35" y="632" width="1.1" height="7" fill="#0038ff"/>
<rect x="124.3" y="640" width="1.7" height="2" fill="#00b2ff"/>
<rect x="124.6" y="640" width="1.1" height="2" fill="#0000d1"/>
<rect x="138.1" y="640" width="1.7" height="2" fill="#08f0ef"/>
<rect x="138.4" y="640" width="1.1" height="2" fill="#0061ff"/>
<rect x="151.8" y="640" width="2.2" height="2" fill="#08f0ef"/>
<rect x="152.35" y="640" width="1.1" height="2" fill="#0038ff"/>
<rect x="124.3" y="642" width="1.7" height="6" fill="#00b2ff"/>
<rect x="124.6" y="642" width="1.1" height="6" fill="#0000d1"/>
<rect x="138.1" y="642" width="1.7" height="6" fill="#08f0ef"/>
<rect x="138.4" y="642" width="1.1" height="6" fill="#0061ff"/>
<rect x="151.8" y="642" width="2.2" height="6" fill="#08f0ef"/>
<rect x="152.35" y="642" width="1.1" height="6" fill="#0038ff"/>
<rect x="124.3" y="649" width="1.7" height="4" fill="#00b2ff"/>
<rect x="124.6" y="649" width="1.1" height="4" fill="#0000d1"/>
<rect x="138.1" y="649" width="1.7" height="4" fill="#08f0ef"/>
<rect x="138.4" y="649" width="1.1" height="4" fill="#0061ff"/>
<rect x="151.8" y="649" width="2.2" height="4" fill="#08f0ef"/>
<rect x="152.35" y="649" width="1.1" height="4" fill="#0038ff"/>
<rect x="124.3" y="654" width="1.7" height="6" fill="#00b2ff"/>
<rect x="124.6" y="654" width="1.1" height="6" fill="#0000d1"/>
<rect x="138.1" y="654" width="1.7" height="6" fill="#25ffd2"/>
<rect x="138.4" y="654" width="1.1" height="6" fill="#0079ff"/>
<rect x="151.8" y="654" width="2.2" height="6" fill="#0ef7e9"/>
<rect x="152.35" y="654" width="1.1" height="6" fill="#003dff"/>
<rect x="124.3" y="665" width="1.7" height="8" fill="#00b2ff"/>
<rect x="124.6" y="665" width="1.1" height="8" fill="#0000d1"/>
<rect x="138.1" y="665" width="1.7" height="8" fill="#08f0ef"/>
<rect x="138.4" y="665" width="1.1" height="8" fill="#0061ff"/>
<rect x="151.8" y="665" width="2.2" height="8" fill="#08f0ef"/>
<rect x="152.35" y="665" width="1.1" height="8" fill="#0038ff"/>
<rect x="124.3" y="674" width="1.7" height="5" fill="#00b2ff"/>
<rect x="124.6" y="674" width="1.1" height="5" fill="#0000d1"/>
<rect x="138.1" y="674" width="1.7" height="5" fill="#08f0ef"/>
<rect x="138.4" y="674" width="1.1" height="5" fill="#0061ff"/>
<rect x="151.8" y="674" width="2.2" height="5" fill="#08f0ef"/>
<rect x="152.35" y="674" width="1.1" height="5" fill="#0038ff"/>
<rect x="124.3" y="681" width="1.7" height="5" fill="#00b2ff"/>
<rect x="124.6" y="681" width="1.1" height="5" fill="#0000d1"/>
<rect x="138.1" y="681" width="1.7" height="5" fill="#08f0ef"/>
<rect x="138.4" y="681" width="1.1" height="5" fill="#0061ff"/>
<rect x="151.8" y="681" width="2.2" height="5" fill="#08f0ef"/>
<rect x="152.35" y="681" width="1.1" height="5" fill="#0038ff"/>
<rect x="124.3" y="687" width="1.7" height="6" fill="#00b2ff"/>
<rect x="124.6" y="687" width="1.1" height="6" fill="#0000d1"/>
<rect x="138.1" y="687" width="1.7" height="6" fill="#08f0ef"/>
<rect x="138.4" y="687" width="1.1" height="6" fill="#0061ff"/>
<rect x="151.8" y="687" width="2.2" height="6" fill="#08f0ef"/>
<rect x="152.35" y="687" width="1.1" height="6" fill="#0038ff"/>
<rect x="124.3" y="693" width="1.7" height="6" fill="#00b2ff"/>
<rect x="124.6" y="693" width="1.1" height="6" fill="#0000d1"/>
<rect x="138.1" y="693" width="1.7" height="6" fill="#08f0ef"/>
<rect x="138.4" y="693" width="1.1" height="6" fill="#0061ff"/>
<rect x="151.8" y="693" width="2.2" height="6" fill="#08f0ef"/>
<rect x="152.35" y="693" width="1.1" height="6" fill="#0038ff"/>
<rect x="124.3" y="699" width="1.7" height="7" fill="#00b2ff"/>
<rect x="124.6" y="699" width="1.1" height="7" fill="#0000d1"/>
<rect x="138.1" y="699" width="1.7" height="7" fill="#08f0ef"/>
<rect x="138.4" y="699" width="1.1" height="7" fill="#0061ff"/>
<rect x="151.8" y="699" width="2.2" height="7" fill="#08f0ef"/>
<rect x="152.35" y="699" width="1.1" height="7" fill="#0038ff"/>
<rect x="124.3" y="709" width="1.7" height="6" fill="#00b2ff"/>
<rect x="124.6" y="709" width="1.1" height="6" fill="#0000d1"/>
<rect x="138.1" y="709" width="1.7" height="6" fill="#08f0ef"/>
<rect x="138.4" y="709" width="1.1" height="6" fill="#0061ff"/>
<rect x="151.8" y="709" width="2.2" height="6" fill="#08f0ef"/>
<rect x="152.35" y="709" width="1.1" height="6" fill="#0038ff"/>
<rect x="124.3" y="718" width="1.7" height="2.5" fill="#00baff"/>
<rect x="124.6" y="718" width="1.1" height="2.5" fill="#0000d6"/>
<rect x="138.1" y="718" width="1.7" height="2.5" fill="#0ef7e9"/>
<rect x="138.4" y="718" width="1.1" height="2.5" fill="#0066ff"/>
<rect x="151.8" y="718" width="2.2" height="2.5" fill="#08f0ef"/>
<rect x="152.35" y="718" width="1.1" height="2.5" fill="#0038ff"/>
<rect x="112.2" y="81" width="1.2" height="347" fill="#8cff6b" fill-opacity="0.4"/>
<rect x="112.2" y="462" width="1.2" height="258.5" fill="#8cff6b" fill-opacity="0.4"/>
<rect x="123.1" y="81" width="1.2" height="347" fill="#8cff6b" fill-opacity="0.4"/>
<rect x="123.1" y="462" width="1.2" height="258.5" fill="#8cff6b" fill-opacity="0.4"/>
<rect x="126" y="81" width="1.2" height="347" fill="#8cff6b" fill-opacity="0.4"/>
<rect x="126" y="462" width="1.2" height="258.5" fill="#8cff6b" fill-opacity="0.4"/>
<rect x="136.9" y="81" width="1.2" height="347" fill="#8cff6b" fill-opacity="0.4"/>
<rect x="136.9" y="462" width="1.2" height="258.5" fill="#8cff6b" fill-opacity="0.4"/>
<rect x="139.8" y="81" width="1.2" height="347" fill="#8cff6b" fill-opacity="0.4"/>
<rect x="139.8" y="462" width="1.2" height="258.5" fill="#8cff6b" fill-opacity="0.4"/>
<rect x="150.6" y="81" width="1.2" height="347" fill="#8cff6b" fill-opacity="0.4"/>
<rect x="150.6" y="462" width="1.2" height="258.5" fill="#8cff6b" fill-opacity="0.4"/>
<rect x="154" y="81" width="1.2" height="347" fill="#8cff6b" fill-opacity="0.4"/>
<rect x="154" y="462" width="1.2" height="258.5" fill="#8cff6b" fill-opacity="0.4"/>
<rect x="164.4" y="81" width="1.2" height="347" fill="#8cff6b" fill-opacity="0.4"/>
<rect x="164.4" y="462" width="1.2" height="258.5" fill="#8cff6b" fill-opacity="0.4"/>
<rect x="-1" y="111" width="178.9" height="1" fill="#fff"/>
<rect x="-1" y="118" width="178.9" height="1" fill="#fff"/>
<rect x="-1" y="120" width="178.9" height="1" fill="#fff"/>
<rect x="-1" y="122" width="178.9" height="1" fill="#000"/>
<rect x="-1" y="125" width="178.9" height="16" fill="#fff"/>
<rect x="-1" y="142" width="178.9" height="21" fill="#fff"/>
<rect x="-1" y="163" width="178.9" height="1" fill="#000"/>
<rect x="-1" y="164" width="178.9" height="50" fill="#fff"/>
<rect x="-1" y="218" width="178.9" height="1" fill="#fff"/>
<rect x="-1" y="221" width="178.9" height="1" fill="#000"/>
<rect x="-1" y="230" width="178.9" height="1" fill="#000"/>
<rect x="-1" y="239" width="178.9" height="4" fill="#fff"/>
<rect x="-1" y="245" width="178.9" height="2" fill="#fff"/>
<rect x="-1" y="252" width="178.9" height="1" fill="#000"/>
<rect x="-1" y="261" width="178.9" height="1" fill="#000"/>
<rect x="-1" y="263" width="178.9" height="1" fill="#fff"/>
<rect x="-1" y="265" width="178.9" height="4" fill="#000"/>
<rect x="-1" y="269" width="178.9" height="25" fill="#fff"/>
<rect x="-1" y="301" width="178.9" height="1" fill="#fff"/>
<rect x="-1" y="302" width="178.9" height="1.5" fill="#000"/>
<rect x="-1" y="303.5" width="178.9" height="1.5" fill="#fff"/>
<rect x="-1" y="307" width="178.9" height="1" fill="#fff"/>
<rect x="-1" y="308" width="178.9" height="1" fill="#000"/>
<rect x="-1" y="310" width="178.9" height="1" fill="#fff"/>
<rect x="-1" y="322" width="178.9" height="1.5" fill="#000"/>
<rect x="-1" y="326.5" width="178.9" height="3.5" fill="#fff"/>
<rect x="-1" y="336" width="178.9" height="1" fill="#000"/>
<rect x="-1" y="345" width="178.9" height="1" fill="#fff"/>
<rect x="-1" y="347.5" width="178.9" height="1.5" fill="#fff"/>
<rect x="-1" y="354.5" width="178.9" height="0.8" fill="#000"/>
<rect x="-1" y="358" width="178.9" height="1" fill="#000"/>
<rect x="-1" y="363" width="178.9" height="2" fill="#000"/>
<rect x="-1" y="366.5" width="178.9" height="1.5" fill="#fff"/>
<rect x="-1" y="370.5" width="178.9" height="0.5" fill="#000"/>
<rect x="-1" y="371" width="178.9" height="1.2" fill="#fff"/>
<rect x="-1" y="373" width="178.9" height="0.6" fill="#000"/>
<rect x="-1" y="375" width="178.9" height="3" fill="#000"/>
<rect x="-1" y="382" width="178.9" height="34" fill="#fff"/>
<rect x="-1" y="420" width="178.9" height="1" fill="#fff"/>
<rect x="-1" y="426" width="178.9" height="2" fill="#fff"/>
<rect x="-1" y="430" width="178.9" height="1" fill="#000"/>
<rect x="-1" y="432" width="178.9" height="3" fill="#000"/>
<rect x="-1" y="436" width="178.9" height="1" fill="#000"/>
<rect x="-1" y="438" width="178.9" height="2" fill="#000"/>
<rect x="-1" y="441" width="178.9" height="1" fill="#000"/>
<rect x="-1" y="443" width="178.9" height="1" fill="#000"/>
<rect x="-1" y="445" width="178.9" height="1" fill="#000"/>
<rect x="-1" y="447.2" width="178.9" height="0.7" fill="#000"/>
<rect x="-1" y="449" width="178.9" height="1.2" fill="#fff"/>
<rect x="-1" y="456" width="178.9" height="3" fill="#000"/>
<rect x="-1" y="461.8" width="178.9" height="1.2" fill="#fff"/>
<rect x="-1" y="463" width="178.9" height="1.5" fill="#000"/>
<rect x="-1" y="469.2" width="178.9" height="0.8" fill="#000"/>
<rect x="-1" y="471" width="178.9" height="0.8" fill="#000"/>
<rect x="-1" y="478" width="178.9" height="1" fill="#000"/>
<rect x="-1" y="481" width="178.9" height="4" fill="#fff"/>
<rect x="-1" y="489" width="178.9" height="1" fill="#fff"/>
<rect x="-1" y="495" width="178.9" height="1" fill="#fff"/>
<rect x="-1" y="502" width="178.9" height="2" fill="#000"/>
<rect x="-1" y="510" width="178.9" height="2" fill="#fff"/>
<rect x="-1" y="522" width="178.9" height="1" fill="#fff"/>
<rect x="-1" y="529" width="178.9" height="1.2" fill="#fff"/>
<rect x="-1" y="531" width="178.9" height="1" fill="#000"/>
<rect x="-1" y="533" width="178.9" height="1" fill="#fff"/>
<rect x="-1" y="536" width="178.9" height="1" fill="#000"/>
<rect x="-1" y="537" width="178.9" height="3" fill="#fff"/>
<rect x="-1" y="544" width="178.9" height="1" fill="#fff"/>
<rect x="-1" y="563" width="178.9" height="1" fill="#fff"/>
<rect x="-1" y="568" width="178.9" height="2" fill="#fff"/>
<rect x="-1" y="579" width="178.9" height="1" fill="#000"/>
<rect x="-1" y="587" width="178.9" height="1" fill="#000"/>
<rect x="-1" y="590" width="178.9" height="1" fill="#fff"/>
<rect x="-1" y="598" width="178.9" height="2" fill="#fff"/>
<rect x="-1" y="622" width="178.9" height="1" fill="#fff"/>
<rect x="-1" y="626" width="178.9" height="1" fill="#fff"/>
<rect x="-1" y="627.4" width="178.9" height="0.9" fill="#fff"/>
<rect x="-1" y="630" width="178.9" height="2" fill="#fff"/>
<rect x="-1" y="639" width="178.9" height="1" fill="#fff"/>
<rect x="-1" y="648.3" width="178.9" height="0.9" fill="#000"/>
<rect x="-1" y="653" width="178.9" height="1" fill="#fff"/>
<rect x="-1" y="655" width="178.9" height="2" fill="#000"/>
<rect x="-1" y="658" width="178.9" height="1" fill="#000"/>
<rect x="-1" y="660" width="178.9" height="3.2" fill="#fff"/>
<rect x="-1" y="663.2" width="178.9" height="0.8" fill="#000"/>
<rect x="-1" y="664" width="178.9" height="1" fill="#fff"/>
<rect x="-1" y="673" width="178.9" height="1" fill="#fff"/>
<rect x="-1" y="679" width="178.9" height="2" fill="#fff"/>
<rect x="-1" y="686" width="178.9" height="1" fill="#fff"/>
<rect x="-1" y="706" width="178.9" height="3" fill="#000"/>
<rect x="-1" y="715" width="178.9" height="3" fill="#fff"/>
</g></g>
<rect x="344.5" y="80.5" width="176" height="640" fill="none" stroke="#000" stroke-width="1"/>
<text x="343.83" y="735.6" font-size="12.1" text-anchor="middle">320</text>
<text x="385.29" y="735.6" font-size="12.1" text-anchor="middle">335</text>
<text x="426.75" y="735.6" font-size="12.1" text-anchor="middle">350</text>
<text x="468.21" y="735.6" font-size="12.1" text-anchor="middle">365</text>
<text x="509.67" y="735.6" font-size="12.1" text-anchor="middle">380</text>
<text x="339.4" y="724.1" font-size="12.1" text-anchor="end">0</text>
<text x="339.4" y="590.77" font-size="12.1" text-anchor="end">5</text>
<text x="339.4" y="457.43" font-size="12.1" text-anchor="end">10</text>
<text x="339.4" y="324.1" font-size="12.1" text-anchor="end">15</text>
<text x="339.4" y="190.77" font-size="12.1" text-anchor="end">20</text>
<path d="M385.5 720.5 v-4 M385.5 80.5 v4 M426.5 720.5 v-4 M426.5 80.5 v4 M468.5 720.5 v-4 M468.5 80.5 v4 M509.5 720.5 v-4 M509.5 80.5 v4 M344.5 587.5 h4 M520.5 587.5 h-4 M344.5 453.5 h4 M520.5 453.5 h-4 M344.5 320.5 h4 M520.5 320.5 h-4 M344.5 187.5 h4 M520.5 187.5 h-4" stroke="#000" stroke-width="1" fill="none"/>
<text x="432.28" y="72.6" font-size="14.95" text-anchor="middle">YY, V1*V15=EA10*EA26</text>
<clipPath id="cp2"><rect x="556" y="80" width="178" height="641"/></clipPath>
<g clip-path="url(#cp2)" shape-rendering="geometricPrecision"><g transform="translate(555.8,0)">
<rect x="-1" y="80" width="178.9" height="641" fill="#0a3fe0"/>
<rect x="-1" y="80" width="178.9" height="641" fill="#0a3fe0" filter="url(#nz)"/>
<rect x="-1" y="323.5" width="178.9" height="3" fill="#00b2ff" fill-opacity="0.3"/>
<rect x="-1" y="504" width="178.9" height="6" fill="#00b2ff" fill-opacity="0.5"/>
<rect x="-1" y="532" width="178.9" height="4" fill="#00d1ff" fill-opacity="0.5"/>
<rect x="-1" y="262" width="178.9" height="3" fill="#00d1ff" fill-opacity="0.4"/>
<rect x="-1" y="378" width="178.9" height="4" fill="#00b2ff" fill-opacity="0.3"/>
<rect x="-1" y="718" width="178.9" height="2.5" fill="#08f0ef" fill-opacity="0.6"/>
<rect x="-1" y="141" width="178.9" height="1" fill="#00b2ff" fill-opacity="0.4"/>
<linearGradient id="g2_4280" gradientUnits="userSpaceOnUse" x1="0" y1="0" x2="176.9" y2="0">
<stop offset="0" stop-color="#0019ff" stop-opacity="0"/>
<stop offset="0.23" stop-color="#004dff" stop-opacity="0"/>
<stop offset="0.31" stop-color="#00d1ff" stop-opacity="0.8"/>
<stop offset="0.49" stop-color="#6bff8c" stop-opacity="1"/>
<stop offset="0.59" stop-color="#deff19" stop-opacity="1"/>
<stop offset="0.63" stop-color="#ff6800" stop-opacity="1"/>
<stop offset="0.93" stop-color="#ff6800" stop-opacity="1"/>
<stop offset="0.94" stop-color="#7bff7b" stop-opacity="1"/>
<stop offset="1" stop-color="#29ffce" stop-opacity="1"/>
</linearGradient>
<rect x="-1" y="428" width="178.9" height="2" fill="url(#g2_4280)"/>
<linearGradient id="g2_4310" gradientUnits="userSpaceOnUse" x1="0" y1="0" x2="176.9" y2="0">
<stop offset="0" stop-color="#08f0ef" stop-opacity="1"/>
<stop offset="0.34" stop-color="#29ffce" stop-opacity="1"/>
<stop offset="0.68" stop-color="#7bff7b" stop-opacity="1"/>
<stop offset="1" stop-color="#7bff7b" stop-opacity="1"/>
</linearGradient>
<rect x="-1" y="431" width="178.9" height="1" fill="url(#g2_4310)"/>
<linearGradient id="g2_4350" gradientUnits="userSpaceOnUse" x1="0" y1="0" x2="176.9" y2="0">
<stop offset="0" stop-color="#d10000" stop-opacity="1"/>
<stop offset="1" stop-color="#d10000" stop-opacity="1"/>
</linearGradient>
<rect x="-1" y="435" width="178.9" height="1" fill="url(#g2_4350)"/>
<linearGradient id="g2_4370" gradientUnits="userSpaceOnUse" x1="0" y1="0" x2="176.9" y2="0">
<stop offset="0" stop-color="#f30900" stop-opacity="1"/>
<stop offset="1" stop-color="#f30900" stop-opacity="1"/>
</linearGradient>
<rect x="-1" y="437" width="178.9" height="1" fill="url(#g2_4370)"/>
<linearGradient id="g2_4400" gradientUnits="userSpaceOnUse" x1="0" y1="0" x2="176.9" y2="0">
<stop offset="0" stop-color="#f30900" stop-opacity="1"/>
<stop offset="1" stop-color="#f30900" stop-opacity="1"/>
</linearGradient>
<rect x="-1" y="440" width="178.9" height="1" fill="url(#g2_4400)"/>
<linearGradient id="g2_4420" gradientUnits="userSpaceOnUse" x1="0" y1="0" x2="176.9" y2="0">
<stop offset="0" stop-color="#ff1c00" stop-opacity="1"/>
<stop offset="0.4" stop-color="#ff1c00" stop-opacity="1"/>
<stop offset="0.48" stop-color="#ffb300" stop-opacity="1"/>
<stop offset="0.54" stop-color="#ffec00" stop-opacity="1"/>
<stop offset="0.6" stop-color="#ff3900" stop-opacity="1"/>
<stop offset="1" stop-color="#ff1c00" stop-opacity="1"/>
</linearGradient>
<rect x="-1" y="442" width="178.9" height="1" fill="url(#g2_4420)"/>
<linearGradient id="g2_4440" gradientUnits="userSpaceOnUse" x1="0" y1="0" x2="176.9" y2="0">
<stop offset="0" stop-color="#ff2f00" stop-opacity="1"/>
<stop offset="1" stop-color="#ff2f00" stop-opacity="1"/>
</linearGradient>
<rect x="-1" y="444" width="178.9" height="1" fill="url(#g2_4440)"/>
<linearGradient id="g2_4460" gradientUnits="userSpaceOnUse" x1="0" y1="0" x2="176.9" y2="0">
<stop offset="0" stop-color="#0019ff" stop-opacity="0"/>
<stop offset="0.52" stop-color="#004dff" stop-opacity="0"/>
<stop offset="0.57" stop-color="#00e5f7" stop-opacity="0.8"/>
<stop offset="0.63" stop-color="#52ffa5" stop-opacity="1"/>
<stop offset="0.94" stop-color="#7bff7b" stop-opacity="1"/>
<stop offset="0.95" stop-color="#00b2ff" stop-opacity="0.5"/>
<stop offset="1" stop-color="#00b2ff" stop-opacity="0.3"/>
</linearGradient>
<rect x="-1" y="446" width="178.9" height="3" fill="url(#g2_4460)"/>
<linearGradient id="g2_4497" gradientUnits="userSpaceOnUse" x1="0" y1="0" x2="176.9" y2="0">
<stop offset="0" stop-color="#efff08" stop-opacity="1"/>
<stop offset="0.34" stop-color="#ffec00" stop-opacity="1"/>
<stop offset="0.55" stop-color="#ffc600" stop-opacity="1"/>
<stop offset="0.59" stop-color="#ff6800" stop-opacity="1"/>
<stop offset="0.63" stop-color="#f30900" stop-opacity="1"/>
<stop offset="0.94" stop-color="#f30900" stop-opacity="1"/>
<stop offset="1" stop-color="#ffc600" stop-opacity="1"/>
</linearGradient>
<rect x="-1" y="449.7" width="178.9" height="2.8" fill="url(#g2_4497)"/>
<linearGradient id="g2_4525" gradientUnits="userSpaceOnUse" x1="0" y1="0" x2="176.9" y2="0">
<stop offset="0" stop-color="#0019ff" stop-opacity="0"/>
<stop offset="0.5" stop-color="#004dff" stop-opacity="0"/>
<stop offset="0.54" stop-color="#29ffce" stop-opacity="0.9"/>
<stop offset="0.58" stop-color="#a5ff52" stop-opacity="1"/>
<stop offset="0.63" stop-color="#ffc600" stop-opacity="1"/>
<stop offset="0.94" stop-color="#ceff29" stop-opacity="1"/>
<stop offset="0.95" stop-color="#29ffce" stop-opacity="1"/>
<stop offset="1" stop-color="#29ffce" stop-opacity="0.8"/>
</linearGradient>
<rect x="-1" y="452.5" width="178.9" height="3.5" fill="url(#g2_4525)"/>
<linearGradient id="g2_810" gradientUnits="userSpaceOnUse" x1="0" y1="0" x2="176.9" y2="0">
<stop offset="0" stop-color="#00c7ff" stop-opacity="0.42"/>
<stop offset="0.45" stop-color="#00bdff" stop-opacity="0.35"/>
<stop offset="0.62" stop-color="#00b2ff" stop-opacity="0.15"/>
<stop offset="1" stop-color="#00b2ff" stop-opacity="0"/>
</linearGradient>
<rect x="-1" y="81" width="178.9" height="9" fill="url(#g2_810)"/>
<linearGradient id="g2_900" gradientUnits="userSpaceOnUse" x1="0" y1="0" x2="176.9" y2="0">
<stop offset="0" stop-color="#00b2ff" stop-opacity="0.28"/>
<stop offset="0.34" stop-color="#00b2ff" stop-opacity="0.2"/>
<stop offset="0.57" stop-color="#00b2ff" stop-opacity="0"/>
<stop offset="1" stop-color="#00b2ff" stop-opacity="0"/>
</linearGradient>
<rect x="-1" y="90" width="178.9" height="14" fill="url(#g2_900)"/>
<rect x="104" y="81" width="8.2" height="19" fill="url(#trA)"/>
<rect x="96" y="100" width="16.2" height="11" fill="url(#trB)"/>
<rect x="100" y="112" width="12.2" height="13" fill="url(#trA)"/>
<rect x="104" y="214" width="8.2" height="7" fill="url(#trA)"/>
<rect x="96" y="221" width="16.2" height="18" fill="url(#trB)"/>
<rect x="101" y="243" width="11.2" height="22" fill="url(#trA)"/>
<rect x="99" y="294" width="13.2" height="7" fill="url(#trA)"/>
<rect x="104" y="305" width="8.2" height="5" fill="url(#trA)"/>
<rect x="100" y="311" width="12.2" height="11" fill="url(#trA)"/>
<rect x="106" y="330" width="6.2" height="45" fill="url(#trA)"/>
<rect x="104" y="416" width="8.2" height="10" fill="url(#trA)"/>
<rect x="96" y="459" width="16.2" height="3" fill="url(#trB)"/>
<rect x="92" y="464" width="20.2" height="5" fill="url(#trC)"/>
<rect x="94" y="469" width="18.2" height="9" fill="url(#trB)"/>
<rect x="96" y="478" width="16.2" height="3" fill="url(#trB)"/>
<rect x="105" y="485" width="7.2" height="17" fill="url(#trA)"/>
<rect x="106" y="512" width="6.2" height="18" fill="url(#trA)"/>
<rect x="100" y="540" width="12.2" height="8" fill="url(#trA)"/>
<rect x="96" y="548" width="16.2" height="15" fill="url(#trB)"/>
<rect x="100" y="564" width="12.2" height="4" fill="url(#trA)"/>
<rect x="98" y="570" width="14.2" height="9" fill="url(#trB)"/>
<rect x="102" y="580" width="10.2" height="10" fill="url(#trA)"/>
<rect x="98" y="591" width="14.2" height="7" fill="url(#trB)"/>
<rect x="96" y="600" width="16.2" height="12" fill="url(#trB)"/>
<rect x="102" y="612" width="10.2" height="18" fill="url(#trA)"/>
<rect x="102" y="632" width="10.2" height="7" fill="url(#trA)"/>
<rect x="97" y="640" width="15.2" height="8" fill="url(#trB)"/>
<rect x="102" y="649" width="10.2" height="11" fill="url(#trA)"/>
<rect x="101" y="665" width="11.2" height="14" fill="url(#trA)"/>
<rect x="96" y="681" width="16.2" height="5" fill="url(#trB)"/>
<rect x="96" y="687" width="16.2" height="12" fill="url(#trB)"/>
<rect x="94" y="699" width="18.2" height="7" fill="url(#trB)"/>
<rect x="96" y="709" width="16.2" height="6" fill="url(#trB)"/>
<rect x="107" y="697" width="5.4" height="9" fill="#9cff5a"/>
<rect x="107" y="709" width="5.4" height="6" fill="#a5ff52"/>
<rect x="112.2" y="81" width="12.1" height="11" fill="#ffab00"/>
<rect x="126" y="81" width="12.1" height="11" fill="#ff8000"/>
<rect x="139.8" y="81" width="12" height="11" fill="#ff8a00"/>
<rect x="154" y="81" width="11.6" height="11" fill="#ff8a00"/>
<rect x="112.2" y="92" width="12.1" height="4" fill="#ceff29"/>
<rect x="126" y="92" width="12.1" height="4" fill="#deff19"/>
<rect x="139.8" y="92" width="12" height="4" fill="#ffec00"/>
<rect x="154" y="92" width="11.6" height="4" fill="#ffec00"/>
<rect x="112.2" y="96" width="12.1" height="4" fill="#ff9500"/>
<rect x="126" y="96" width="12.1" height="4" fill="#ffab00"/>
<rect x="139.8" y="96" width="12" height="4" fill="#ff9500"/>
<rect x="154" y="96" width="11.6" height="4" fill="#ffc100"/>
<rect x="112.2" y="100" width="12.1" height="3" fill="#deff19"/>
<rect x="126" y="100" width="12.1" height="3" fill="#deff19"/>
<rect x="139.8" y="100" width="12" height="3" fill="#ffec00"/>
<rect x="154" y="100" width="11.6" height="3" fill="#ffec00"/>
<rect x="112.2" y="103" width="12.1" height="5" fill="#ffab00"/>
<rect x="126" y="103" width="12.1" height="5" fill="#ff8000"/>
<rect x="139.8" y="103" width="12" height="5" fill="#ff8000"/>
<rect x="154" y="103" width="11.6" height="5" fill="#deff19"/>
<rect x="112.2" y="108" width="12.1" height="3" fill="#ceff29"/>
<rect x="126" y="108" width="12.1" height="3" fill="#deff19"/>
<rect x="139.8" y="108" width="12" height="3" fill="#deff19"/>
<rect x="154" y="108" width="11.6" height="3" fill="#bdff3a"/>
<rect x="112.2" y="111" width="12.1" height="7" fill="#ffc100"/>
<rect x="126" y="111" width="12.1" height="7" fill="#ffab00"/>
<rect x="139.8" y="111" width="12" height="7" fill="#ffc100"/>
<rect x="154" y="111" width="11.6" height="7" fill="#deff19"/>
<rect x="112.2" y="118" width="12.1" height="7" fill="#ff8000"/>
<rect x="126" y="118" width="12.1" height="7" fill="#ffab00"/>
<rect x="139.8" y="118" width="12" height="7" fill="#ffab00"/>
<rect x="154" y="118" width="11.6" height="7" fill="#ffc100"/>
<rect x="112.2" y="141" width="12.1" height="1" fill="#e40000"/>
<rect x="126" y="141" width="12.1" height="1" fill="#ff1300"/>
<rect x="139.8" y="141" width="12" height="1" fill="#ff1300"/>
<rect x="154" y="141" width="11.6" height="1" fill="#ffc100"/>
<rect x="112.2" y="214" width="12.1" height="4" fill="#ffc100"/>
<rect x="126" y="214" width="12.1" height="4" fill="#ffc100"/>
<rect x="139.8" y="214" width="12" height="4" fill="#deff19"/>
<rect x="154" y="214" width="11.6" height="4" fill="#ceff29"/>
<rect x="112.2" y="218" width="12.1" height="3" fill="#ffc100"/>
<rect x="126" y="218" width="12.1" height="3" fill="#ffd600"/>
<rect x="139.8" y="218" width="12" height="3" fill="#ffec00"/>
<rect x="154" y="218" width="11.6" height="3" fill="#deff19"/>
<rect x="112.2" y="221" width="12.1" height="9" fill="#ffd600"/>
<rect x="126" y="221" width="12.1" height="9" fill="#ffd600"/>
<rect x="139.8" y="221" width="12" height="9" fill="#ffc100"/>
<rect x="154" y="221" width="11.6" height="9" fill="#ffec00"/>
<rect x="112.2" y="230" width="12.1" height="9" fill="#ffc100"/>
<rect x="126" y="230" width="12.1" height="9" fill="#ffc100"/>
<rect x="139.8" y="230" width="12" height="9" fill="#ffab00"/>
<rect x="154" y="230" width="11.6" height="9" fill="#ffd600"/>
<rect x="112.2" y="243" width="12.1" height="2" fill="#ffc100"/>
<rect x="126" y="243" width="12.1" height="2" fill="#ffd600"/>
<rect x="139.8" y="243" width="12" height="2" fill="#ffd600"/>
<rect x="154" y="243" width="11.6" height="2" fill="#ffec00"/>
<rect x="112.2" y="247" width="12.1" height="5" fill="#ffd600"/>
<rect x="126" y="247" width="12.1" height="5" fill="#ffd600"/>
<rect x="139.8" y="247" width="12" height="5" fill="#ffc100"/>
<rect x="154" y="247" width="11.6" height="5" fill="#efff08"/>
<rect x="112.2" y="252" width="12.1" height="9" fill="#ffc100"/>
<rect x="126" y="252" width="12.1" height="9" fill="#ffab00"/>
<rect x="139.8" y="252" width="12" height="9" fill="#ffc100"/>
<rect x="154" y="252" width="11.6" height="9" fill="#ffec00"/>
<rect x="112.2" y="261" width="12.1" height="4" fill="#ff9500"/>
<rect x="126" y="261" width="12.1" height="4" fill="#ffab00"/>
<rect x="139.8" y="261" width="12" height="4" fill="#ffab00"/>
<rect x="154" y="261" width="11.6" height="4" fill="#ffd600"/>
<rect x="112.2" y="294" width="12.1" height="7" fill="#ff9500"/>
<rect x="126" y="294" width="12.1" height="7" fill="#ffc100"/>
<rect x="139.8" y="294" width="12" height="7" fill="#ffab00"/>
<rect x="154" y="294" width="11.6" height="7" fill="#ffab00"/>
<rect x="112.2" y="305" width="12.1" height="5" fill="#ffd600"/>
<rect x="126" y="305" width="12.1" height="5" fill="#ffec00"/>
<rect x="139.8" y="305" width="12" height="5" fill="#ffec00"/>
<rect x="154" y="305" width="11.6" height="5" fill="#deff19"/>
<rect x="112.2" y="311" width="12.1" height="11" fill="#ff9500"/>
<rect x="126" y="311" width="12.1" height="11" fill="#ffc100"/>
<rect x="139.8" y="311" width="12" height="11" fill="#ffab00"/>
<rect x="154" y="311" width="11.6" height="11" fill="#ceff29"/>
<rect x="112.2" y="323" width="12.1" height="4" fill="#ffc100"/>
<rect x="126" y="323" width="12.1" height="4" fill="#ffec00"/>
<rect x="139.8" y="323" width="12" height="4" fill="#ffd600"/>
<rect x="154" y="323" width="11.6" height="4" fill="#ceff29"/>
<rect x="112.2" y="330" width="12.1" height="6" fill="#deff19"/>
<rect x="126" y="330" width="12.1" height="6" fill="#ffec00"/>
<rect x="139.8" y="330" width="12" height="6" fill="#deff19"/>
<rect x="154" y="330" width="11.6" height="6" fill="#bdff3a"/>
<rect x="112.2" y="336" width="12.1" height="9" fill="#deff19"/>
<rect x="126" y="336" width="12.1" height="9" fill="#efff08"/>
<rect x="139.8" y="336" width="12" height="9" fill="#ffec00"/>
<rect x="154" y="336" width="11.6" height="9" fill="#deff19"/>
<rect x="112.2" y="346" width="12.1" height="2" fill="#deff19"/>
<rect x="126" y="346" width="12.1" height="2" fill="#efff08"/>
<rect x="139.8" y="346" width="12" height="2" fill="#efff08"/>
<rect x="154" y="346" width="11.6" height="2" fill="#deff19"/>
<rect x="112.2" y="349" width="12.1" height="6" fill="#deff19"/>
<rect x="126" y="349" width="12.1" height="6" fill="#ffec00"/>
<rect x="139.8" y="349" width="12" height="6" fill="#deff19"/>
<rect x="154" y="349" width="11.6" height="6" fill="#ceff29"/>
<rect x="112.2" y="355" width="12.1" height="3" fill="#ffec00"/>
<rect x="126" y="355" width="12.1" height="3" fill="#ffc100"/>
<rect x="139.8" y="355" width="12" height="3" fill="#efff08"/>
<rect x="154" y="355" width="11.6" height="3" fill="#ceff29"/>
<rect x="112.2" y="358" width="12.1" height="5" fill="#ffec00"/>
<rect x="126" y="358" width="12.1" height="5" fill="#ffab00"/>
<rect x="139.8" y="358" width="12" height="5" fill="#ffec00"/>
<rect x="154" y="358" width="11.6" height="5" fill="#ceff29"/>
<rect x="112.2" y="365" width="12.1" height="6" fill="#ffec00"/>
<rect x="126" y="365" width="12.1" height="6" fill="#ffc100"/>
<rect x="139.8" y="365" width="12" height="6" fill="#ffd600"/>
<rect x="154" y="365" width="11.6" height="6" fill="#deff19"/>
<rect x="112.2" y="372" width="12.1" height="3" fill="#ffd600"/>
<rect x="126" y="372" width="12.1" height="3" fill="#ffec00"/>
<rect x="139.8" y="372" width="12" height="3" fill="#ffd600"/>
<rect x="154" y="372" width="11.6" height="3" fill="#deff19"/>
<rect x="112.2" y="378" width="12.1" height="4" fill="#ffc100"/>
<rect x="126" y="378" width="12.1" height="4" fill="#ff9500"/>
<rect x="139.8" y="378" width="12" height="4" fill="#ff8a00"/>
<rect x="154" y="378" width="11.6" height="4" fill="#ffb600"/>
<rect x="112.2" y="416" width="12.1" height="4" fill="#ffd600"/>
<rect x="126" y="416" width="12.1" height="4" fill="#ffc100"/>
<rect x="139.8" y="416" width="12" height="4" fill="#ffab00"/>
<rect x="154" y="416" width="11.6" height="4" fill="#ffec00"/>
<rect x="112.2" y="421" width="12.1" height="5" fill="#ffc100"/>
<rect x="126" y="421" width="12.1" height="5" fill="#ffab00"/>
<rect x="139.8" y="421" width="12" height="5" fill="#ffab00"/>
<rect x="154" y="421" width="11.6" height="5" fill="#efff08"/>
<rect x="112.2" y="428" width="12.1" height="2" fill="#f30900"/>
<rect x="126" y="428" width="12.1" height="2" fill="#dc0000"/>
<rect x="139.8" y="428" width="12" height="2" fill="#dc0000"/>
<rect x="154" y="428" width="11.6" height="2" fill="#f30900"/>
<rect x="112.2" y="430" width="12.1" height="29" fill="#a20000"/>
<rect x="126" y="430" width="12.1" height="29" fill="#a20000"/>
<rect x="139.8" y="430" width="12" height="29" fill="#a20000"/>
<rect x="154" y="430" width="11.6" height="29" fill="#d10000"/>
<rect x="112.2" y="459" width="12.1" height="1" fill="#ff5400"/>
<rect x="126" y="459" width="12.1" height="1" fill="#ff5400"/>
<rect x="139.8" y="459" width="12" height="1" fill="#ff5400"/>
<rect x="154" y="459" width="11.6" height="1" fill="#ff5400"/>
<rect x="112.2" y="460" width="12.1" height="2" fill="#b90000"/>
<rect x="126" y="460" width="12.1" height="2" fill="#b90000"/>
<rect x="139.8" y="460" width="12" height="2" fill="#b90000"/>
<rect x="154" y="460" width="11.6" height="2" fill="#b90000"/>
<rect x="112.2" y="464" width="12.1" height="5" fill="#ff3e00"/>
<rect x="126" y="464" width="12.1" height="5" fill="#ff5400"/>
<rect x="139.8" y="464" width="12" height="5" fill="#ff8000"/>
<rect x="154" y="464" width="11.6" height="5" fill="#ff9500"/>
<rect x="112.2" y="469" width="12.1" height="3" fill="#ff3e00"/>
<rect x="126" y="469" width="12.1" height="3" fill="#ff5400"/>
<rect x="139.8" y="469" width="12" height="3" fill="#ff9500"/>
<rect x="154" y="469" width="11.6" height="3" fill="#ff9500"/>
<rect x="112.2" y="472" width="12.1" height="6" fill="#ff2900"/>
<rect x="126" y="472" width="12.1" height="6" fill="#ff6a00"/>
<rect x="139.8" y="472" width="12" height="6" fill="#ffec00"/>
<rect x="154" y="472" width="11.6" height="6" fill="#ffab00"/>
<rect x="112.2" y="478" width="12.1" height="3" fill="#ffab00"/>
<rect x="126" y="478" width="12.1" height="3" fill="#ffc100"/>
<rect x="139.8" y="478" width="12" height="3" fill="#efff08"/>
<rect x="154" y="478" width="11.6" height="3" fill="#ffec00"/>
<rect x="112.2" y="485" width="12.1" height="4" fill="#ffab00"/>
<rect x="126" y="485" width="12.1" height="4" fill="#ff9500"/>
<rect x="139.8" y="485" width="12" height="4" fill="#ffc100"/>
<rect x="154" y="485" width="11.6" height="4" fill="#ffec00"/>
<rect x="112.2" y="490" width="12.1" height="5" fill="#ffab00"/>
<rect x="126" y="490" width="12.1" height="5" fill="#ff9500"/>
<rect x="139.8" y="490" width="12" height="5" fill="#ffc100"/>
<rect x="154" y="490" width="11.6" height="5" fill="#efff08"/>
<rect x="112.2" y="496" width="12.1" height="6" fill="#ffc100"/>
<rect x="126" y="496" width="12.1" height="6" fill="#ffab00"/>
<rect x="139.8" y="496" width="12" height="6" fill="#ffd600"/>
<rect x="154" y="496" width="11.6" height="6" fill="#deff19"/>
<rect x="112.2" y="504" width="12.1" height="6" fill="#ff5400"/>
<rect x="126" y="504" width="12.1" height="6" fill="#ff8000"/>
<rect x="139.8" y="504" width="12" height="6" fill="#a5ff52"/>
<rect x="154" y="504" width="11.6" height="6" fill="#ff5400"/>
<rect x="112.2" y="512" width="12.1" height="10" fill="#ffc100"/>
<rect x="126" y="512" width="12.1" height="10" fill="#ffab00"/>
<rect x="139.8" y="512" width="12" height="10" fill="#deff19"/>
<rect x="154" y="512" width="11.6" height="10" fill="#7bff7b"/>
<rect x="112.2" y="523" width="12.1" height="7" fill="#ffd600"/>
<rect x="126" y="523" width="12.1" height="7" fill="#ffab00"/>
<rect x="139.8" y="523" width="12" height="7" fill="#deff19"/>
<rect x="154" y="523" width="11.6" height="7" fill="#8cff6b"/>
<rect x="112.2" y="530" width="12.1" height="7" fill="#ffd600"/>
<rect x="126" y="530" width="12.1" height="7" fill="#ffc100"/>
<rect x="139.8" y="530" width="12" height="7" fill="#efff08"/>
<rect x="154" y="530" width="11.6" height="7" fill="#adff4a"/>
<rect x="112.2" y="540" width="12.1" height="4" fill="#ffc100"/>
<rect x="126" y="540" width="12.1" height="4" fill="#ffab00"/>
<rect x="139.8" y="540" width="12" height="4" fill="#ffec00"/>
<rect x="154" y="540" width="11.6" height="4" fill="#ffec00"/>
<rect x="112.2" y="545" width="12.1" height="18" fill="#ff9500"/>
<rect x="126" y="545" width="12.1" height="18" fill="#ff6a00"/>
<rect x="139.8" y="545" width="12" height="18" fill="#ffc100"/>
<rect x="154" y="545" width="11.6" height="18" fill="#ffd600"/>
<rect x="112.2" y="564" width="12.1" height="4" fill="#ffd600"/>
<rect x="126" y="564" width="12.1" height="4" fill="#ff9500"/>
<rect x="139.8" y="564" width="12" height="4" fill="#ffd600"/>
<rect x="154" y="564" width="11.6" height="4" fill="#deff19"/>
<rect x="112.2" y="570" width="12.1" height="9" fill="#ffec00"/>
<rect x="126" y="570" width="12.1" height="9" fill="#ff9500"/>
<rect x="139.8" y="570" width="12" height="9" fill="#ffc100"/>
<rect x="154" y="570" width="11.6" height="9" fill="#deff19"/>
<rect x="112.2" y="580" width="12.1" height="7" fill="#efff08"/>
<rect x="126" y="580" width="12.1" height="7" fill="#ff8000"/>
<rect x="139.8" y="580" width="12" height="7" fill="#ffab00"/>
<rect x="154" y="580" width="11.6" height="7" fill="#deff19"/>
<rect x="112.2" y="588" width="12.1" height="2" fill="#efff08"/>
<rect x="126" y="588" width="12.1" height="2" fill="#ff9500"/>
<rect x="139.8" y="588" width="12" height="2" fill="#ffab00"/>
<rect x="154" y="588" width="11.6" height="2" fill="#deff19"/>
<rect x="112.2" y="591" width="12.1" height="7" fill="#ffec00"/>
<rect x="126" y="591" width="12.1" height="7" fill="#ff8000"/>
<rect x="139.8" y="591" width="12" height="7" fill="#ffab00"/>
<rect x="154" y="591" width="11.6" height="7" fill="#deff19"/>
<rect x="112.2" y="600" width="12.1" height="11" fill="#ceff29"/>
<rect x="126" y="600" width="12.1" height="11" fill="#deff19"/>
<rect x="139.8" y="600" width="12" height="11" fill="#ffd600"/>
<rect x="154" y="600" width="11.6" height="11" fill="#ceff29"/>
<rect x="112.2" y="611" width="12.1" height="11" fill="#deff19"/>
<rect x="126" y="611" width="12.1" height="11" fill="#efff08"/>
<rect x="139.8" y="611" width="12" height="11" fill="#ffd600"/>
<rect x="154" y="611" width="11.6" height="11" fill="#ceff29"/>
<rect x="112.2" y="623" width="12.1" height="7" fill="#ffec00"/>
<rect x="126" y="623" width="12.1" height="7" fill="#ffec00"/>
<rect x="139.8" y="623" width="12" height="7" fill="#ffec00"/>
<rect x="154" y="623" width="11.6" height="7" fill="#deff19"/>
<rect x="112.2" y="632" width="12.1" height="7" fill="#ffab00"/>
<rect x="126" y="632" width="12.1" height="7" fill="#ffab00"/>
<rect x="139.8" y="632" width="12" height="7" fill="#efff08"/>
<rect x="154" y="632" width="11.6" height="7" fill="#deff19"/>
<rect x="112.2" y="640" width="12.1" height="8" fill="#ff9500"/>
<rect x="126" y="640" width="12.1" height="8" fill="#ff9500"/>
<rect x="139.8" y="640" width="12" height="8" fill="#ffec00"/>
<rect x="154" y="640" width="11.6" height="8" fill="#deff19"/>
<rect x="112.2" y="649" width="12.1" height="11" fill="#ffec00"/>
<rect x="126" y="649" width="12.1" height="11" fill="#ffec00"/>
<rect x="139.8" y="649" width="12" height="11" fill="#efff08"/>
<rect x="154" y="649" width="11.6" height="11" fill="#deff19"/>
<rect x="112.2" y="665" width="12.1" height="8" fill="#deff19"/>
<rect x="126" y="665" width="12.1" height="8" fill="#deff19"/>
<rect x="139.8" y="665" width="12" height="8" fill="#deff19"/>
<rect x="154" y="665" width="11.6" height="8" fill="#ceff29"/>
<rect x="112.2" y="674" width="12.1" height="5" fill="#deff19"/>
<rect x="126" y="674" width="12.1" height="5" fill="#deff19"/>
<rect x="139.8" y="674" width="12" height="5" fill="#deff19"/>
<rect x="154" y="674" width="11.6" height="5" fill="#ceff29"/>
<rect x="112.2" y="681" width="12.1" height="5" fill="#deff19"/>
<rect x="126" y="681" width="12.1" height="5" fill="#deff19"/>
<rect x="139.8" y="681" width="12" height="5" fill="#deff19"/>
<rect x="154" y="681" width="11.6" height="5" fill="#bdff3a"/>
<rect x="112.2" y="687" width="12.1" height="6" fill="#ffec00"/>
<rect x="126" y="687" width="12.1" height="6" fill="#deff19"/>
<rect x="139.8" y="687" width="12" height="6" fill="#ffec00"/>
<rect x="154" y="687" width="11.6" height="6" fill="#ceff29"/>
<rect x="112.2" y="693" width="12.1" height="6" fill="#efff08"/>
<rect x="126" y="693" width="12.1" height="6" fill="#ceff29"/>
<rect x="139.8" y="693" width="12" height="6" fill="#deff19"/>
<rect x="154" y="693" width="11.6" height="6" fill="#bdff3a"/>
<rect x="112.2" y="699" width="12.1" height="7" fill="#bdff3a"/>
<rect x="126" y="699" width="12.1" height="7" fill="#ceff29"/>
<rect x="139.8" y="699" width="12" height="7" fill="#ceff29"/>
<rect x="154" y="699" width="11.6" height="7" fill="#bdff3a"/>
<rect x="112.2" y="709" width="12.1" height="6" fill="#ceff29"/>
<rect x="126" y="709" width="12.1" height="6" fill="#deff19"/>
<rect x="139.8" y="709" width="12" height="6" fill="#deff19"/>
<rect x="154" y="709" width="11.6" height="6" fill="#adff4a"/>
<rect x="112.2" y="718" width="12.1" height="2.5" fill="#ff8a00"/>
<rect x="126" y="718" width="12.1" height="2.5" fill="#ff8a00"/>
<rect x="139.8" y="718" width="12" height="2.5" fill="#ffc100"/>
<rect x="154" y="718" width="11.6" height="2.5" fill="#deff19"/>
<rect x="112.2" y="81" width="53.4" height="347" fill="none" filter="url(#hz)" opacity="0.45"/>
<rect x="112.2" y="462" width="53.4" height="258.5" fill="none" filter="url(#hz)" opacity="0.45"/>
<rect x="124.3" y="81" width="1.7" height="11" fill="#0af2ed"/>
<rect x="124.6" y="81" width="1.1" height="11" fill="#0000ff"/>
<rect x="138.1" y="81" width="1.7" height="11" fill="#4dffaa"/>
<rect x="138.4" y="81" width="1.1" height="11" fill="#0099ff"/>
<rect x="151.8" y="81" width="2.2" height="11" fill="#47ffb0"/>
<rect x="152.35" y="81" width="1.1" height="11" fill="#006cff"/>
<rect x="124.3" y="92" width="1.7" height="4" fill="#00b2ff"/>
<rect x="124.6" y="92" width="1.1" height="4" fill="#0000d1"/>
<rect x="138.1" y="92" width="1.7" height="4" fill="#08f0ef"/>
<rect x="138.4" y="92" width="1.1" height="4" fill="#0061ff"/>
<rect x="151.8" y="92" width="2.2" height="4" fill="#08f0ef"/>
<rect x="152.35" y="92" width="1.1" height="4" fill="#0038ff"/>
<rect x="124.3" y="96" width="1.7" height="4" fill="#00e4f8"/>
<rect x="124.6" y="96" width="1.1" height="4" fill="#0000f6"/>
<rect x="138.1" y="96" width="1.7" height="4" fill="#30ffc7"/>
<rect x="138.4" y="96" width="1.1" height="4" fill="#0082ff"/>
<rect x="151.8" y="96" width="2.2" height="4" fill="#25ffd2"/>
<rect x="152.35" y="96" width="1.1" height="4" fill="#0050ff"/>
<rect x="124.3" y="100" width="1.7" height="3" fill="#00b2ff"/>
<rect x="124.6" y="100" width="1.1" height="3" fill="#0000d1"/>
<rect x="138.1" y="100" width="1.7" height="3" fill="#08f0ef"/>
<rect x="138.4" y="100" width="1.1" height="3" fill="#0061ff"/>
<rect x="151.8" y="100" width="2.2" height="3" fill="#08f0ef"/>
<rect x="152.35" y="100" width="1.1" height="3" fill="#0038ff"/>
<rect x="124.3" y="103" width="1.7" height="5" fill="#0af2ed"/>
<rect x="124.6" y="103" width="1.1" height="5" fill="#0000ff"/>
<rect x="138.1" y="103" width="1.7" height="5" fill="#52ffa5"/>
<rect x="138.4" y="103" width="1.1" height="5" fill="#009eff"/>
<rect x="151.8" y="103" width="2.2" height="5" fill="#08f0ef"/>
<rect x="152.35" y="103" width="1.1" height="5" fill="#0038ff"/>
<rect x="124.3" y="108" width="1.7" height="3" fill="#00b2ff"/>
<rect x="124.6" y="108" width="1.1" height="3" fill="#0000d1"/>
<rect x="138.1" y="108" width="1.7" height="3" fill="#08f0ef"/>
<rect x="138.4" y="108" width="1.1" height="3" fill="#0061ff"/>
<rect x="151.8" y="108" width="2.2" height="3" fill="#08f0ef"/>
<rect x="152.35" y="108" width="1.1" height="3" fill="#0038ff"/>
<rect x="124.3" y="111" width="1.7" height="7" fill="#00c8ff"/>
<rect x="124.6" y="111" width="1.1" height="7" fill="#0000e1"/>
<rect x="138.1" y="111" width="1.7" height="7" fill="#1affdd"/>
<rect x="138.4" y="111" width="1.1" height="7" fill="#006fff"/>
<rect x="151.8" y="111" width="2.2" height="7" fill="#08f0ef"/>
<rect x="152.35" y="111" width="1.1" height="7" fill="#0038ff"/>
<rect x="124.3" y="118" width="1.7" height="7" fill="#0af2ed"/>
<rect x="124.6" y="118" width="1.1" height="7" fill="#0000ff"/>
<rect x="138.1" y="118" width="1.7" height="7" fill="#25ffd2"/>
<rect x="138.4" y="118" width="1.1" height="7" fill="#0079ff"/>
<rect x="151.8" y="118" width="2.2" height="7" fill="#1affdd"/>
<rect x="152.35" y="118" width="1.1" height="7" fill="#0046ff"/>
<rect x="124.3" y="141" width="1.7" height="1" fill="#f30900"/>
<rect x="124.6" y="141" width="1.1" height="1" fill="#ff2f00"/>
<rect x="138.1" y="141" width="1.7" height="1" fill="#c4ff33"/>
<rect x="138.4" y="141" width="1.1" height="1" fill="#12fce5"/>
<rect x="151.8" y="141" width="2.2" height="1" fill="#69ff8e"/>
<rect x="152.35" y="141" width="1.1" height="1" fill="#0088ff"/>
<rect x="124.3" y="214" width="1.7" height="4" fill="#00baff"/>
<rect x="124.6" y="214" width="1.1" height="4" fill="#0000d6"/>
<rect x="138.1" y="214" width="1.7" height="4" fill="#08f0ef"/>
<rect x="138.4" y="214" width="1.1" height="4" fill="#0061ff"/>
<rect x="151.8" y="214" width="2.2" height="4" fill="#08f0ef"/>
<rect x="152.35" y="214" width="1.1" height="4" fill="#0038ff"/>
<rect x="124.3" y="218" width="1.7" height="3" fill="#00b2ff"/>
<rect x="124.6" y="218" width="1.1" height="3" fill="#0000d1"/>
<rect x="138.1" y="218" width="1.7" height="3" fill="#08f0ef"/>
<rect x="138.4" y="218" width="1.1" height="3" fill="#0061ff"/>
<rect x="151.8" y="218" width="2.2" height="3" fill="#08f0ef"/>
<rect x="152.35" y="218" width="1.1" height="3" fill="#0038ff"/>
<rect x="124.3" y="221" width="1.7" height="9" fill="#00b2ff"/>
<rect x="124.6" y="221" width="1.1" height="9" fill="#0000d1"/>
<rect x="138.1" y="221" width="1.7" height="9" fill="#08f0ef"/>
<rect x="138.4" y="221" width="1.1" height="9" fill="#0061ff"/>
<rect x="151.8" y="221" width="2.2" height="9" fill="#08f0ef"/>
<rect x="152.35" y="221" width="1.1" height="9" fill="#0038ff"/>
<rect x="124.3" y="230" width="1.7" height="9" fill="#00baff"/>
<rect x="124.6" y="230" width="1.1" height="9" fill="#0000d6"/>
<rect x="138.1" y="230" width="1.7" height="9" fill="#1affdd"/>
<rect x="138.4" y="230" width="1.1" height="9" fill="#006fff"/>
<rect x="151.8" y="230" width="2.2" height="9" fill="#0ef7e9"/>
<rect x="152.35" y="230" width="1.1" height="9" fill="#003dff"/>
<rect x="124.3" y="243" width="1.7" height="2" fill="#00b2ff"/>
<rect x="124.6" y="243" width="1.1" height="2" fill="#0000d1"/>
<rect x="138.1" y="243" width="1.7" height="2" fill="#08f0ef"/>
<rect x="138.4" y="243" width="1.1" height="2" fill="#0061ff"/>
<rect x="151.8" y="243" width="2.2" height="2" fill="#08f0ef"/>
<rect x="152.35" y="243" width="1.1" height="2" fill="#0038ff"/>
<rect x="124.3" y="247" width="1.7" height="5" fill="#00b2ff"/>
<rect x="124.6" y="247" width="1.1" height="5" fill="#0000d1"/>
<rect x="138.1" y="247" width="1.7" height="5" fill="#08f0ef"/>
<rect x="138.4" y="247" width="1.1" height="5" fill="#0061ff"/>
<rect x="151.8" y="247" width="2.2" height="5" fill="#08f0ef"/>
<rect x="152.35" y="247" width="1.1" height="5" fill="#0038ff"/>
<rect x="124.3" y="252" width="1.7" height="9" fill="#00c8ff"/>
<rect x="124.6" y="252" width="1.1" height="9" fill="#0000e1"/>
<rect x="138.1" y="252" width="1.7" height="9" fill="#1affdd"/>
<rect x="138.4" y="252" width="1.1" height="9" fill="#006fff"/>
<rect x="151.8" y="252" width="2.2" height="9" fill="#08f0ef"/>
<rect x="152.35" y="252" width="1.1" height="9" fill="#0038ff"/>
<rect x="124.3" y="261" width="1.7" height="4" fill="#00e4f8"/>
<rect x="124.6" y="261" width="1.1" height="4" fill="#0000f6"/>
<rect x="138.1" y="261" width="1.7" height="4" fill="#25ffd2"/>
<rect x="138.4" y="261" width="1.1" height="4" fill="#0079ff"/>
<rect x="151.8" y="261" width="2.2" height="4" fill="#0ef7e9"/>
<rect x="152.35" y="261" width="1.1" height="4" fill="#003dff"/>
<rect x="124.3" y="294" width="1.7" height="7" fill="#00d6ff"/>
<rect x="124.6" y="294" width="1.1" height="7" fill="#0000ec"/>
<rect x="138.1" y="294" width="1.7" height="7" fill="#1affdd"/>
<rect x="138.4" y="294" width="1.1" height="7" fill="#006fff"/>
<rect x="151.8" y="294" width="2.2" height="7" fill="#25ffd2"/>
<rect x="152.35" y="294" width="1.1" height="7" fill="#0050ff"/>
<rect x="124.3" y="305" width="1.7" height="5" fill="#00b2ff"/>
<rect x="124.6" y="305" width="1.1" height="5" fill="#0000d1"/>
<rect x="138.1" y="305" width="1.7" height="5" fill="#08f0ef"/>
<rect x="138.4" y="305" width="1.1" height="5" fill="#0061ff"/>
<rect x="151.8" y="305" width="2.2" height="5" fill="#08f0ef"/>
<rect x="152.35" y="305" width="1.1" height="5" fill="#0038ff"/>
<rect x="124.3" y="311" width="1.7" height="11" fill="#00d6ff"/>
<rect x="124.6" y="311" width="1.1" height="11" fill="#0000ec"/>
<rect x="138.1" y="311" width="1.7" height="11" fill="#1affdd"/>
<rect x="138.4" y="311" width="1.1" height="11" fill="#006fff"/>
<rect x="151.8" y="311" width="2.2" height="11" fill="#08f0ef"/>
<rect x="152.35" y="311" width="1.1" height="11" fill="#0038ff"/>
<rect x="124.3" y="323" width="1.7" height="4" fill="#00b2ff"/>
<rect x="124.6" y="323" width="1.1" height="4" fill="#0000d1"/>
<rect x="138.1" y="323" width="1.7" height="4" fill="#08f0ef"/>
<rect x="138.4" y="323" width="1.1" height="4" fill="#0061ff"/>
<rect x="151.8" y="323" width="2.2" height="4" fill="#08f0ef"/>
<rect x="152.35" y="323" width="1.1" height="4" fill="#0038ff"/>
<rect x="124.3" y="330" width="1.7" height="6" fill="#00b2ff"/>
<rect x="124.6" y="330" width="1.1" height="6" fill="#0000d1"/>
<rect x="138.1" y="330" width="1.7" height="6" fill="#08f0ef"/>
<rect x="138.4" y="330" width="1.1" height="6" fill="#0061ff"/>
<rect x="151.8" y="330" width="2.2" height="6" fill="#08f0ef"/>
<rect x="152.35" y="330" width="1.1" height="6" fill="#0038ff"/>
<rect x="124.3" y="336" width="1.7" height="9" fill="#00b2ff"/>
<rect x="124.6" y="336" width="1.1" height="9" fill="#0000d1"/>
<rect x="138.1" y="336" width="1.7" height="9" fill="#08f0ef"/>
<rect x="138.4" y="336" width="1.1" height="9" fill="#0061ff"/>
<rect x="151.8" y="336" width="2.2" height="9" fill="#08f0ef"/>
<rect x="152.35" y="336" width="1.1" height="9" fill="#0038ff"/>
<rect x="124.3" y="346" width="1.7" height="2" fill="#00b2ff"/>
<rect x="124.6" y="346" width="1.1" height="2" fill="#0000d1"/>
<rect x="138.1" y="346" width="1.7" height="2" fill="#08f0ef"/>
<rect x="138.4" y="346" width="1.1" height="2" fill="#0061ff"/>
<rect x="151.8" y="346" width="2.2" height="2" fill="#08f0ef"/>
<rect x="152.35" y="346" width="1.1" height="2" fill="#0038ff"/>
<rect x="124.3" y="349" width="1.7" height="6" fill="#00b2ff"/>
<rect x="124.6" y="349" width="1.1" height="6" fill="#0000d1"/>
<rect x="138.1" y="349" width="1.7" height="6" fill="#08f0ef"/>
<rect x="138.4" y="349" width="1.1" height="6" fill="#0061ff"/>
<rect x="151.8" y="349" width="2.2" height="6" fill="#08f0ef"/>
<rect x="152.35" y="349" width="1.1" height="6" fill="#0038ff"/>
<rect x="124.3" y="355" width="1.7" height="3" fill="#00b2ff"/>
<rect x="124.6" y="355" width="1.1" height="3" fill="#0000d1"/>
<rect x="138.1" y="355" width="1.7" height="3" fill="#08f0ef"/>
<rect x="138.4" y="355" width="1.1" height="3" fill="#0061ff"/>
<rect x="151.8" y="355" width="2.2" height="3" fill="#08f0ef"/>
<rect x="152.35" y="355" width="1.1" height="3" fill="#0038ff"/>
<rect x="124.3" y="358" width="1.7" height="5" fill="#00b2ff"/>
<rect x="124.6" y="358" width="1.1" height="5" fill="#0000d1"/>
<rect x="138.1" y="358" width="1.7" height="5" fill="#08f0ef"/>
<rect x="138.4" y="358" width="1.1" height="5" fill="#0061ff"/>
<rect x="151.8" y="358" width="2.2" height="5" fill="#08f0ef"/>
<rect x="152.35" y="358" width="1.1" height="5" fill="#0038ff"/>
<rect x="124.3" y="365" width="1.7" height="6" fill="#00b2ff"/>
<rect x="124.6" y="365" width="1.1" height="6" fill="#0000d1"/>
<rect x="138.1" y="365" width="1.7" height="6" fill="#08f0ef"/>
<rect x="138.4" y="365" width="1.1" height="6" fill="#0061ff"/>
<rect x="151.8" y="365" width="2.2" height="6" fill="#08f0ef"/>
<rect x="152.35" y="365" width="1.1" height="6" fill="#0038ff"/>
<rect x="124.3" y="372" width="1.7" height="3" fill="#00b2ff"/>
<rect x="124.6" y="372" width="1.1" height="3" fill="#0000d1"/>
<rect x="138.1" y="372" width="1.7" height="3" fill="#08f0ef"/>
<rect x="138.4" y="372" width="1.1" height="3" fill="#0061ff"/>
<rect x="151.8" y="372" width="2.2" height="3" fill="#08f0ef"/>
<rect x="152.35" y="372" width="1.1" height="3" fill="#0038ff"/>
<rect x="124.3" y="378" width="1.7" height="4" fill="#00d6ff"/>
<rect x="124.6" y="378" width="1.1" height="4" fill="#0000ec"/>
<rect x="138.1" y="378" width="1.7" height="4" fill="#41ffb6"/>
<rect x="138.4" y="378" width="1.1" height="4" fill="#0090ff"/>
<rect x="151.8" y="378" width="2.2" height="4" fill="#30ffc7"/>
<rect x="152.35" y="378" width="1.1" height="4" fill="#0059ff"/>
<rect x="124.3" y="416" width="1.7" height="4" fill="#00b2ff"/>
<rect x="124.6" y="416" width="1.1" height="4" fill="#0000d1"/>
<rect x="138.1" y="416" width="1.7" height="4" fill="#1affdd"/>
<rect x="138.4" y="416" width="1.1" height="4" fill="#006fff"/>
<rect x="151.8" y="416" width="2.2" height="4" fill="#08f0ef"/>
<rect x="152.35" y="416" width="1.1" height="4" fill="#0038ff"/>
<rect x="124.3" y="421" width="1.7" height="5" fill="#00c8ff"/>
<rect x="124.6" y="421" width="1.1" height="5" fill="#0000e1"/>
<rect x="138.1" y="421" width="1.7" height="5" fill="#25ffd2"/>
<rect x="138.4" y="421" width="1.1" height="5" fill="#0079ff"/>
<rect x="151.8" y="421" width="2.2" height="5" fill="#08f0ef"/>
<rect x="152.35" y="421" width="1.1" height="5" fill="#0038ff"/>
<rect x="124.3" y="428" width="1.7" height="2" fill="#f30900"/>
<rect x="124.6" y="428" width="1.1" height="2" fill="#ff2f00"/>
<rect x="138.1" y="428" width="1.7" height="2" fill="#f30900"/>
<rect x="138.4" y="428" width="1.1" height="2" fill="#ff2f00"/>
<rect x="151.8" y="428" width="2.2" height="2" fill="#f30900"/>
<rect x="152.35" y="428" width="1.1" height="2" fill="#ff2f00"/>
<rect x="124.3" y="430" width="1.7" height="29" fill="#f30900"/>
<rect x="124.6" y="430" width="1.1" height="29" fill="#ff2f00"/>
<rect x="138.1" y="430" width="1.7" height="29" fill="#f30900"/>
<rect x="138.4" y="430" width="1.1" height="29" fill="#ff2f00"/>
<rect x="151.8" y="430" width="2.2" height="29" fill="#f30900"/>
<rect x="152.35" y="430" width="1.1" height="29" fill="#ff2f00"/>
<rect x="124.3" y="459" width="1.7" height="1" fill="#4effa8"/>
<rect x="124.6" y="459" width="1.1" height="1" fill="#002bff"/>
<rect x="138.1" y="459" width="1.7" height="1" fill="#80ff77"/>
<rect x="138.4" y="459" width="1.1" height="1" fill="#00c4ff"/>
<rect x="151.8" y="459" width="2.2" height="1" fill="#80ff77"/>
<rect x="152.35" y="459" width="1.1" height="1" fill="#009bff"/>
<rect x="124.3" y="460" width="1.7" height="2" fill="#f30900"/>
<rect x="124.6" y="460" width="1.1" height="2" fill="#ff2f00"/>
<rect x="138.1" y="460" width="1.7" height="2" fill="#f30900"/>
<rect x="138.4" y="460" width="1.1" height="2" fill="#ff2f00"/>
<rect x="151.8" y="460" width="2.2" height="2" fill="#f30900"/>
<rect x="152.35" y="460" width="1.1" height="2" fill="#ff2f00"/>
<rect x="124.3" y="464" width="1.7" height="5" fill="#5aff9d"/>
<rect x="124.6" y="464" width="1.1" height="5" fill="#0034ff"/>
<rect x="138.1" y="464" width="1.7" height="5" fill="#69ff8e"/>
<rect x="138.4" y="464" width="1.1" height="5" fill="#00b1ff"/>
<rect x="151.8" y="464" width="2.2" height="5" fill="#47ffb0"/>
<rect x="152.35" y="464" width="1.1" height="5" fill="#006cff"/>
<rect x="124.3" y="469" width="1.7" height="3" fill="#5aff9d"/>
<rect x="124.6" y="469" width="1.1" height="3" fill="#0034ff"/>
<rect x="138.1" y="469" width="1.7" height="3" fill="#5eff99"/>
<rect x="138.4" y="469" width="1.1" height="3" fill="#00a7ff"/>
<rect x="151.8" y="469" width="2.2" height="3" fill="#3cffbb"/>
<rect x="152.35" y="469" width="1.1" height="3" fill="#0063ff"/>
<rect x="124.3" y="472" width="1.7" height="6" fill="#5aff9d"/>
<rect x="124.6" y="472" width="1.1" height="6" fill="#0034ff"/>
<rect x="138.1" y="472" width="1.7" height="6" fill="#25ffd2"/>
<rect x="138.4" y="472" width="1.1" height="6" fill="#0079ff"/>
<rect x="151.8" y="472" width="2.2" height="6" fill="#08f0ef"/>
<rect x="152.35" y="472" width="1.1" height="6" fill="#0038ff"/>
<rect x="124.3" y="478" width="1.7" height="3" fill="#00c8ff"/>
<rect x="124.6" y="478" width="1.1" height="3" fill="#0000e1"/>
<rect x="138.1" y="478" width="1.7" height="3" fill="#08f0ef"/>
<rect x="138.4" y="478" width="1.1" height="3" fill="#0061ff"/>
<rect x="151.8" y="478" width="2.2" height="3" fill="#08f0ef"/>
<rect x="152.35" y="478" width="1.1" height="3" fill="#0038ff"/>
<rect x="124.3" y="485" width="1.7" height="4" fill="#00e4f8"/>
<rect x="124.6" y="485" width="1.1" height="4" fill="#0000f6"/>
<rect x="138.1" y="485" width="1.7" height="4" fill="#25ffd2"/>
<rect x="138.4" y="485" width="1.1" height="4" fill="#0079ff"/>
<rect x="151.8" y="485" width="2.2" height="4" fill="#08f0ef"/>
<rect x="152.35" y="485" width="1.1" height="4" fill="#0038ff"/>
<rect x="124.3" y="490" width="1.7" height="5" fill="#00e4f8"/>
<rect x="124.6" y="490" width="1.1" height="5" fill="#0000f6"/>
<rect x="138.1" y="490" width="1.7" height="5" fill="#25ffd2"/>
<rect x="138.4" y="490" width="1.1" height="5" fill="#0079ff"/>
<rect x="151.8" y="490" width="2.2" height="5" fill="#08f0ef"/>
<rect x="152.35" y="490" width="1.1" height="5" fill="#0038ff"/>
<rect x="124.3" y="496" width="1.7" height="6" fill="#00c8ff"/>
<rect x="124.6" y="496" width="1.1" height="6" fill="#0000e1"/>
<rect x="138.1" y="496" width="1.7" height="6" fill="#0ef7e9"/>
<rect x="138.4" y="496" width="1.1" height="6" fill="#0066ff"/>
<rect x="151.8" y="496" width="2.2" height="6" fill="#08f0ef"/>
<rect x="152.35" y="496" width="1.1" height="6" fill="#0038ff"/>
<rect x="124.3" y="504" width="1.7" height="6" fill="#38ffbf"/>
<rect x="124.6" y="504" width="1.1" height="6" fill="#0018ff"/>
<rect x="138.1" y="504" width="1.7" height="6" fill="#08f0ef"/>
<rect x="138.4" y="504" width="1.1" height="6" fill="#0061ff"/>
<rect x="151.8" y="504" width="2.2" height="6" fill="#08f0ef"/>
<rect x="152.35" y="504" width="1.1" height="6" fill="#0038ff"/>
<rect x="124.3" y="512" width="1.7" height="10" fill="#00c8ff"/>
<rect x="124.6" y="512" width="1.1" height="10" fill="#0000e1"/>
<rect x="138.1" y="512" width="1.7" height="10" fill="#08f0ef"/>
<rect x="138.4" y="512" width="1.1" height="10" fill="#0061ff"/>
<rect x="151.8" y="512" width="2.2" height="10" fill="#08f0ef"/>
<rect x="152.35" y="512" width="1.1" height="10" fill="#0038ff"/>
<rect x="124.3" y="523" width="1.7" height="7" fill="#00baff"/>
<rect x="124.6" y="523" width="1.1" height="7" fill="#0000d6"/>
<rect x="138.1" y="523" width="1.7" height="7" fill="#08f0ef"/>
<rect x="138.4" y="523" width="1.1" height="7" fill="#0061ff"/>
<rect x="151.8" y="523" width="2.2" height="7" fill="#08f0ef"/>
<rect x="152.35" y="523" width="1.1" height="7" fill="#0038ff"/>
<rect x="124.3" y="530" width="1.7" height="7" fill="#00b2ff"/>
<rect x="124.6" y="530" width="1.1" height="7" fill="#0000d1"/>
<rect x="138.1" y="530" width="1.7" height="7" fill="#08f0ef"/>
<rect x="138.4" y="530" width="1.1" height="7" fill="#0061ff"/>
<rect x="151.8" y="530" width="2.2" height="7" fill="#08f0ef"/>
<rect x="152.35" y="530" width="1.1" height="7" fill="#0038ff"/>
<rect x="124.3" y="540" width="1.7" height="4" fill="#00c8ff"/>
<rect x="124.6" y="540" width="1.1" height="4" fill="#0000e1"/>
<rect x="138.1" y="540" width="1.7" height="4" fill="#08f0ef"/>
<rect x="138.4" y="540" width="1.1" height="4" fill="#0061ff"/>
<rect x="151.8" y="540" width="2.2" height="4" fill="#08f0ef"/>
<rect x="152.35" y="540" width="1.1" height="4" fill="#0038ff"/>
<rect x="124.3" y="545" width="1.7" height="18" fill="#21ffd6"/>
<rect x="124.6" y="545" width="1.1" height="18" fill="#0005ff"/>
<rect x="138.1" y="545" width="1.7" height="18" fill="#3cffbb"/>
<rect x="138.4" y="545" width="1.1" height="18" fill="#008bff"/>
<rect x="151.8" y="545" width="2.2" height="18" fill="#08f0ef"/>
<rect x="152.35" y="545" width="1.1" height="18" fill="#0038ff"/>
<rect x="124.3" y="564" width="1.7" height="4" fill="#00c8ff"/>
<rect x="124.6" y="564" width="1.1" height="4" fill="#0000e1"/>
<rect x="138.1" y="564" width="1.7" height="4" fill="#1affdd"/>
<rect x="138.4" y="564" width="1.1" height="4" fill="#006fff"/>
<rect x="151.8" y="564" width="2.2" height="4" fill="#08f0ef"/>
<rect x="152.35" y="564" width="1.1" height="4" fill="#0038ff"/>
<rect x="124.3" y="570" width="1.7" height="9" fill="#00baff"/>
<rect x="124.6" y="570" width="1.1" height="9" fill="#0000d6"/>
<rect x="138.1" y="570" width="1.7" height="9" fill="#25ffd2"/>
<rect x="138.4" y="570" width="1.1" height="9" fill="#0079ff"/>
<rect x="151.8" y="570" width="2.2" height="9" fill="#08f0ef"/>
<rect x="152.35" y="570" width="1.1" height="9" fill="#0038ff"/>
<rect x="124.3" y="580" width="1.7" height="7" fill="#00bcff"/>
<rect x="124.6" y="580" width="1.1" height="7" fill="#0000d8"/>
<rect x="138.1" y="580" width="1.7" height="7" fill="#3cffbb"/>
<rect x="138.4" y="580" width="1.1" height="7" fill="#008bff"/>
<rect x="151.8" y="580" width="2.2" height="7" fill="#08f0ef"/>
<rect x="152.35" y="580" width="1.1" height="7" fill="#0038ff"/>
<rect x="124.3" y="588" width="1.7" height="2" fill="#00b2ff"/>
<rect x="124.6" y="588" width="1.1" height="2" fill="#0000d1"/>
<rect x="138.1" y="588" width="1.7" height="2" fill="#30ffc7"/>
<rect x="138.4" y="588" width="1.1" height="2" fill="#0082ff"/>
<rect x="151.8" y="588" width="2.2" height="2" fill="#08f0ef"/>
<rect x="152.35" y="588" width="1.1" height="2" fill="#0038ff"/>
<rect x="124.3" y="591" width="1.7" height="7" fill="#00c8ff"/>
<rect x="124.6" y="591" width="1.1" height="7" fill="#0000e1"/>
<rect x="138.1" y="591" width="1.7" height="7" fill="#3cffbb"/>
<rect x="138.4" y="591" width="1.1" height="7" fill="#008bff"/>
<rect x="151.8" y="591" width="2.2" height="7" fill="#08f0ef"/>
<rect x="152.35" y="591" width="1.1" height="7" fill="#0038ff"/>
<rect x="124.3" y="600" width="1.7" height="11" fill="#00b2ff"/>
<rect x="124.6" y="600" width="1.1" height="11" fill="#0000d1"/>
<rect x="138.1" y="600" width="1.7" height="11" fill="#08f0ef"/>
<rect x="138.4" y="600" width="1.1" height="11" fill="#0061ff"/>
<rect x="151.8" y="600" width="2.2" height="11" fill="#08f0ef"/>
<rect x="152.35" y="600" width="1.1" height="11" fill="#0038ff"/>
<rect x="124.3" y="611" width="1.7" height="11" fill="#00b2ff"/>
<rect x="124.6" y="611" width="1.1" height="11" fill="#0000d1"/>
<rect x="138.1" y="611" width="1.7" height="11" fill="#08f0ef"/>
<rect x="138.4" y="611" width="1.1" height="11" fill="#0061ff"/>
<rect x="151.8" y="611" width="2.2" height="11" fill="#08f0ef"/>
<rect x="152.35" y="611" width="1.1" height="11" fill="#0038ff"/>
<rect x="124.3" y="623" width="1.7" height="7" fill="#00b2ff"/>
<rect x="124.6" y="623" width="1.1" height="7" fill="#0000d1"/>
<rect x="138.1" y="623" width="1.7" height="7" fill="#08f0ef"/>
<rect x="138.4" y="623" width="1.1" height="7" fill="#0061ff"/>
<rect x="151.8" y="623" width="2.2" height="7" fill="#08f0ef"/>
<rect x="152.35" y="623" width="1.1" height="7" fill="#0038ff"/>
<rect x="124.3" y="632" width="1.7" height="7" fill="#00d6ff"/>
<rect x="124.6" y="632" width="1.1" height="7" fill="#0000ec"/>
<rect x="138.1" y="632" width="1.7" height="7" fill="#08f0ef"/>
<rect x="138.4" y="632" width="1.1" height="7" fill="#0061ff"/>
<rect x="151.8" y="632" width="2.2" height="7" fill="#08f0ef"/>
<rect x="152.35" y="632" width="1.1" height="7" fill="#0038ff"/>
<rect x="124.3" y="640" width="1.7" height="8" fill="#0af2ed"/>
<rect x="124.6" y="640" width="1.1" height="8" fill="#0000ff"/>
<rect x="138.1" y="640" width="1.7" height="8" fill="#0ef7e9"/>
<rect x="138.4" y="640" width="1.1" height="8" fill="#0066ff"/>
<rect x="151.8" y="640" width="2.2" height="8" fill="#08f0ef"/>
<rect x="152.35" y="640" width="1.1" height="8" fill="#0038ff"/>
<rect x="124.3" y="649" width="1.7" height="11" fill="#00b2ff"/>
<rect x="124.6" y="649" width="1.1" height="11" fill="#0000d1"/>
<rect x="138.1" y="649" width="1.7" height="11" fill="#08f0ef"/>
<rect x="138.4" y="649" width="1.1" height="11" fill="#0061ff"/>
<rect x="151.8" y="649" width="2.2" height="11" fill="#08f0ef"/>
<rect x="152.35" y="649" width="1.1" height="11" fill="#0038ff"/>
<rect x="124.3" y="665" width="1.7" height="8" fill="#00b2ff"/>
<rect x="124.6" y="665" width="1.1" height="8" fill="#0000d1"/>
<rect x="138.1" y="665" width="1.7" height="8" fill="#08f0ef"/>
<rect x="138.4" y="665" width="1.1" height="8" fill="#0061ff"/>
<rect x="151.8" y="665" width="2.2" height="8" fill="#08f0ef"/>
<rect x="152.35" y="665" width="1.1" height="8" fill="#0038ff"/>
<rect x="124.3" y="674" width="1.7" height="5" fill="#00b2ff"/>
<rect x="124.6" y="674" width="1.1" height="5" fill="#0000d1"/>
<rect x="138.1" y="674" width="1.7" height="5" fill="#08f0ef"/>
<rect x="138.4" y="674" width="1.1" height="5" fill="#0061ff"/>
<rect x="151.8" y="674" width="2.2" height="5" fill="#08f0ef"/>
<rect x="152.35" y="674" width="1.1" height="5" fill="#0038ff"/>
<rect x="124.3" y="681" width="1.7" height="5" fill="#00b2ff"/>
<rect x="124.6" y="681" width="1.1" height="5" fill="#0000d1"/>
<rect x="138.1" y="681" width="1.7" height="5" fill="#08f0ef"/>
<rect x="138.4" y="681" width="1.1" height="5" fill="#0061ff"/>
<rect x="151.8" y="681" width="2.2" height="5" fill="#08f0ef"/>
<rect x="152.35" y="681" width="1.1" height="5" fill="#0038ff"/>
<rect x="124.3" y="687" width="1.7" height="6" fill="#00b2ff"/>
<rect x="124.6" y="687" width="1.1" height="6" fill="#0000d1"/>
<rect x="138.1" y="687" width="1.7" height="6" fill="#08f0ef"/>
<rect x="138.4" y="687" width="1.1" height="6" fill="#0061ff"/>
<rect x="151.8" y="687" width="2.2" height="6" fill="#08f0ef"/>
<rect x="152.35" y="687" width="1.1" height="6" fill="#0038ff"/>
<rect x="124.3" y="693" width="1.7" height="6" fill="#00b2ff"/>
<rect x="124.6" y="693" width="1.1" height="6" fill="#0000d1"/>
<rect x="138.1" y="693" width="1.7" height="6" fill="#08f0ef"/>
<rect x="138.4" y="693" width="1.1" height="6" fill="#0061ff"/>
<rect x="151.8" y="693" width="2.2" height="6" fill="#08f0ef"/>
<rect x="152.35" y="693" width="1.1" height="6" fill="#0038ff"/>
<rect x="124.3" y="699" width="1.7" height="7" fill="#00b2ff"/>
<rect x="124.6" y="699" width="1.1" height="7" fill="#0000d1"/>
<rect x="138.1" y="699" width="1.7" height="7" fill="#08f0ef"/>
<rect x="138.4" y="699" width="1.1" height="7" fill="#0061ff"/>
<rect x="151.8" y="699" width="2.2" height="7" fill="#08f0ef"/>
<rect x="152.35" y="699" width="1.1" height="7" fill="#0038ff"/>
<rect x="124.3" y="709" width="1.7" height="6" fill="#00b2ff"/>
<rect x="124.6" y="709" width="1.1" height="6" fill="#0000d1"/>
<rect x="138.1" y="709" width="1.7" height="6" fill="#08f0ef"/>
<rect x="138.4" y="709" width="1.1" height="6" fill="#0061ff"/>
<rect x="151.8" y="709" width="2.2" height="6" fill="#08f0ef"/>
<rect x="152.35" y="709" width="1.1" height="6" fill="#0038ff"/>
<rect x="124.3" y="718" width="1.7" height="2.5" fill="#16ffe1"/>
<rect x="124.6" y="718" width="1.1" height="2.5" fill="#0000ff"/>
<rect x="138.1" y="718" width="1.7" height="2.5" fill="#2bffcc"/>
<rect x="138.4" y="718" width="1.1" height="2.5" fill="#007dff"/>
<rect x="151.8" y="718" width="2.2" height="2.5" fill="#08f0ef"/>
<rect x="152.35" y="718" width="1.1" height="2.5" fill="#0038ff"/>
<rect x="112.2" y="81" width="1.2" height="347" fill="#8cff6b" fill-opacity="0.4"/>
<rect x="112.2" y="462" width="1.2" height="258.5" fill="#8cff6b" fill-opacity="0.4"/>
<rect x="123.1" y="81" width="1.2" height="347" fill="#8cff6b" fill-opacity="0.4"/>
<rect x="123.1" y="462" width="1.2" height="258.5" fill="#8cff6b" fill-opacity="0.4"/>
<rect x="126" y="81" width="1.2" height="347" fill="#8cff6b" fill-opacity="0.4"/>
<rect x="126" y="462" width="1.2" height="258.5" fill="#8cff6b" fill-opacity="0.4"/>
<rect x="136.9" y="81" width="1.2" height="347" fill="#8cff6b" fill-opacity="0.4"/>
<rect x="136.9" y="462" width="1.2" height="258.5" fill="#8cff6b" fill-opacity="0.4"/>
<rect x="139.8" y="81" width="1.2" height="347" fill="#8cff6b" fill-opacity="0.4"/>
<rect x="139.8" y="462" width="1.2" height="258.5" fill="#8cff6b" fill-opacity="0.4"/>
<rect x="150.6" y="81" width="1.2" height="347" fill="#8cff6b" fill-opacity="0.4"/>
<rect x="150.6" y="462" width="1.2" height="258.5" fill="#8cff6b" fill-opacity="0.4"/>
<rect x="154" y="81" width="1.2" height="347" fill="#8cff6b" fill-opacity="0.4"/>
<rect x="154" y="462" width="1.2" height="258.5" fill="#8cff6b" fill-opacity="0.4"/>
<rect x="164.4" y="81" width="1.2" height="347" fill="#8cff6b" fill-opacity="0.4"/>
<rect x="164.4" y="462" width="1.2" height="258.5" fill="#8cff6b" fill-opacity="0.4"/>
<rect x="-1" y="111" width="178.9" height="1" fill="#fff"/>
<rect x="-1" y="118" width="178.9" height="1" fill="#fff"/>
<rect x="-1" y="120" width="178.9" height="1" fill="#fff"/>
<rect x="-1" y="122" width="178.9" height="1" fill="#000"/>
<rect x="-1" y="125" width="178.9" height="16" fill="#fff"/>
<rect x="-1" y="142" width="178.9" height="21" fill="#fff"/>
<rect x="-1" y="163" width="178.9" height="1" fill="#000"/>
<rect x="-1" y="164" width="178.9" height="50" fill="#fff"/>
<rect x="-1" y="218" width="178.9" height="1" fill="#fff"/>
<rect x="-1" y="221" width="178.9" height="1" fill="#000"/>
<rect x="-1" y="230" width="178.9" height="1" fill="#000"/>
<rect x="-1" y="239" width="178.9" height="4" fill="#fff"/>
<rect x="-1" y="245" width="178.9" height="2" fill="#fff"/>
<rect x="-1" y="252" width="178.9" height="1" fill="#000"/>
<rect x="-1" y="261" width="178.9" height="1" fill="#000"/>
<rect x="-1" y="263" width="178.9" height="1" fill="#fff"/>
<rect x="-1" y="265" width="178.9" height="4" fill="#000"/>
<rect x="-1" y="269" width="178.9" height="25" fill="#fff"/>
<rect x="-1" y="301" width="178.9" height="1" fill="#fff"/>
<rect x="-1" y="302" width="178.9" height="1.5" fill="#000"/>
<rect x="-1" y="303.5" width="178.9" height="1.5" fill="#fff"/>
<rect x="-1" y="307" width="178.9" height="1" fill="#fff"/>
<rect x="-1" y="308" width="178.9" height="1" fill="#000"/>
<rect x="-1" y="310" width="178.9" height="1" fill="#fff"/>
<rect x="-1" y="322" width="178.9" height="1.5" fill="#000"/>
<rect x="-1" y="326.5" width="178.9" height="3.5" fill="#fff"/>
<rect x="-1" y="336" width="178.9" height="1" fill="#000"/>
<rect x="-1" y="345" width="178.9" height="1" fill="#fff"/>
<rect x="-1" y="347.5" width="178.9" height="1.5" fill="#fff"/>
<rect x="-1" y="354.5" width="178.9" height="0.8" fill="#000"/>
<rect x="-1" y="358" width="178.9" height="1" fill="#000"/>
<rect x="-1" y="363" width="178.9" height="2" fill="#000"/>
<rect x="-1" y="366.5" width="178.9" height="1.5" fill="#fff"/>
<rect x="-1" y="370.5" width="178.9" height="0.5" fill="#000"/>
<rect x="-1" y="371" width="178.9" height="1.2" fill="#fff"/>
<rect x="-1" y="373" width="178.9" height="0.6" fill="#000"/>
<rect x="-1" y="375" width="178.9" height="3" fill="#000"/>
<rect x="-1" y="382" width="178.9" height="34" fill="#fff"/>
<rect x="-1" y="420" width="178.9" height="1" fill="#fff"/>
<rect x="-1" y="426" width="178.9" height="2" fill="#fff"/>
<rect x="-1" y="430" width="178.9" height="1" fill="#000"/>
<rect x="-1" y="432" width="178.9" height="3" fill="#000"/>
<rect x="-1" y="436" width="178.9" height="1" fill="#000"/>
<rect x="-1" y="438" width="178.9" height="2" fill="#000"/>
<rect x="-1" y="441" width="178.9" height="1" fill="#000"/>
<rect x="-1" y="443" width="178.9" height="1" fill="#000"/>
<rect x="-1" y="445" width="178.9" height="1" fill="#000"/>
<rect x="-1" y="447.2" width="178.9" height="0.7" fill="#000"/>
<rect x="-1" y="449" width="178.9" height="1.2" fill="#fff"/>
<rect x="-1" y="456" width="178.9" height="3" fill="#000"/>
<rect x="-1" y="461.8" width="178.9" height="1.2" fill="#fff"/>
<rect x="-1" y="463" width="178.9" height="1.5" fill="#000"/>
<rect x="-1" y="469.2" width="178.9" height="0.8" fill="#000"/>
<rect x="-1" y="471" width="178.9" height="0.8" fill="#000"/>
<rect x="-1" y="478" width="178.9" height="1" fill="#000"/>
<rect x="-1" y="481" width="178.9" height="4" fill="#fff"/>
<rect x="-1" y="489" width="178.9" height="1" fill="#fff"/>
<rect x="-1" y="495" width="178.9" height="1" fill="#fff"/>
<rect x="-1" y="502" width="178.9" height="2" fill="#000"/>
<rect x="-1" y="510" width="178.9" height="2" fill="#fff"/>
<rect x="-1" y="522" width="178.9" height="1" fill="#fff"/>
<rect x="-1" y="529" width="178.9" height="1.2" fill="#fff"/>
<rect x="-1" y="531" width="178.9" height="1" fill="#000"/>
<rect x="-1" y="533" width="178.9" height="1" fill="#fff"/>
<rect x="-1" y="536" width="178.9" height="1" fill="#000"/>
<rect x="-1" y="537" width="178.9" height="3" fill="#fff"/>
<rect x="-1" y="544" width="178.9" height="1" fill="#fff"/>
<rect x="-1" y="563" width="178.9" height="1" fill="#fff"/>
<rect x="-1" y="568" width="178.9" height="2" fill="#fff"/>
<rect x="-1" y="579" width="178.9" height="1" fill="#000"/>
<rect x="-1" y="587" width="178.9" height="1" fill="#000"/>
<rect x="-1" y="590" width="178.9" height="1" fill="#fff"/>
<rect x="-1" y="598" width="178.9" height="2" fill="#fff"/>
<rect x="-1" y="622" width="178.9" height="1" fill="#fff"/>
<rect x="-1" y="626" width="178.9" height="1" fill="#fff"/>
<rect x="-1" y="627.4" width="178.9" height="0.9" fill="#fff"/>
<rect x="-1" y="630" width="178.9" height="2" fill="#fff"/>
<rect x="-1" y="639" width="178.9" height="1" fill="#fff"/>
<rect x="-1" y="648.3" width="178.9" height="0.9" fill="#000"/>
<rect x="-1" y="653" width="178.9" height="1" fill="#fff"/>
<rect x="-1" y="655" width="178.9" height="2" fill="#000"/>
<rect x="-1" y="658" width="178.9" height="1" fill="#000"/>
<rect x="-1" y="660" width="178.9" height="3.2" fill="#fff"/>
<rect x="-1" y="663.2" width="178.9" height="0.8" fill="#000"/>
<rect x="-1" y="664" width="178.9" height="1" fill="#fff"/>
<rect x="-1" y="673" width="178.9" height="1" fill="#fff"/>
<rect x="-1" y="679" width="178.9" height="2" fill="#fff"/>
<rect x="-1" y="686" width="178.9" height="1" fill="#fff"/>
<rect x="-1" y="706" width="178.9" height="3" fill="#000"/>
<rect x="-1" y="715" width="178.9" height="3" fill="#fff"/>
</g></g>
<rect x="556.5" y="80.5" width="177" height="640" fill="none" stroke="#000" stroke-width="1"/>
<text x="556.1" y="735.6" font-size="12.1" text-anchor="middle">320</text>
<text x="597.56" y="735.6" font-size="12.1" text-anchor="middle">335</text>
<text x="639.02" y="735.6" font-size="12.1" text-anchor="middle">350</text>
<text x="680.48" y="735.6" font-size="12.1" text-anchor="middle">365</text>
<text x="721.94" y="735.6" font-size="12.1" text-anchor="middle">380</text>
<text x="551.4" y="724.1" font-size="12.1" text-anchor="end">0</text>
<text x="551.4" y="590.77" font-size="12.1" text-anchor="end">5</text>
<text x="551.4" y="457.43" font-size="12.1" text-anchor="end">10</text>
<text x="551.4" y="324.1" font-size="12.1" text-anchor="end">15</text>
<text x="551.4" y="190.77" font-size="12.1" text-anchor="end">20</text>
<path d="M597.5 720.5 v-4 M597.5 80.5 v4 M639.5 720.5 v-4 M639.5 80.5 v4 M680.5 720.5 v-4 M680.5 80.5 v4 M722.5 720.5 v-4 M722.5 80.5 v4 M556.5 587.5 h4 M733.5 587.5 h-4 M556.5 453.5 h4 M733.5 453.5 h-4 M556.5 320.5 h4 M733.5 320.5 h-4 M556.5 187.5 h4 M733.5 187.5 h-4" stroke="#000" stroke-width="1" fill="none"/>
<text x="644.55" y="72.6" font-size="14.95" text-anchor="middle">XY, V1*V15=EA10*EA26</text>
<clipPath id="cp3"><rect x="768" y="80" width="178" height="641"/></clipPath>
<g clip-path="url(#cp3)" shape-rendering="geometricPrecision"><g transform="translate(768.1,0)">
<rect x="-1" y="80" width="178.9" height="641" fill="#0a3fe0"/>
<rect x="-1" y="80" width="178.9" height="641" fill="#0a3fe0" filter="url(#nz)"/>
<rect x="-1" y="323.5" width="178.9" height="3" fill="#00b2ff" fill-opacity="0.3"/>
<rect x="-1" y="504" width="178.9" height="6" fill="#00a8ff" fill-opacity="0.45"/>
<rect x="-1" y="532" width="178.9" height="4" fill="#00d1ff" fill-opacity="0.5"/>
<rect x="-1" y="262" width="178.9" height="3" fill="#00d1ff" fill-opacity="0.4"/>
<rect x="-1" y="378" width="178.9" height="4" fill="#00b2ff" fill-opacity="0.3"/>
<rect x="-1" y="718" width="178.9" height="2.5" fill="#08f0ef" fill-opacity="0.6"/>
<rect x="-1" y="141" width="178.9" height="1" fill="#00b2ff" fill-opacity="0.4"/>
<linearGradient id="g3_4280" gradientUnits="userSpaceOnUse" x1="0" y1="0" x2="176.9" y2="0">
<stop offset="0" stop-color="#0019ff" stop-opacity="0"/>
<stop offset="0.5" stop-color="#004dff" stop-opacity="0"/>
<stop offset="0.54" stop-color="#08f0ef" stop-opacity="0.9"/>
<stop offset="0.59" stop-color="#7bff7b" stop-opacity="1"/>
<stop offset="0.63" stop-color="#efff08" stop-opacity="1"/>
<stop offset="0.93" stop-color="#ff6800" stop-opacity="1"/>
<stop offset="0.94" stop-color="#7bff7b" stop-opacity="1"/>
<stop offset="1" stop-color="#29ffce" stop-opacity="1"/>
</linearGradient>
<rect x="-1" y="428" width="178.9" height="2" fill="url(#g3_4280)"/>
<linearGradient id="g3_4310" gradientUnits="userSpaceOnUse" x1="0" y1="0" x2="176.9" y2="0">
<stop offset="0" stop-color="#deff19" stop-opacity="1"/>
<stop offset="0.57" stop-color="#ffd900" stop-opacity="1"/>
<stop offset="1" stop-color="#ffc600" stop-opacity="1"/>
</linearGradient>
<rect x="-1" y="431" width="178.9" height="1" fill="url(#g3_4310)"/>
<linearGradient id="g3_4350" gradientUnits="userSpaceOnUse" x1="0" y1="0" x2="176.9" y2="0">
<stop offset="0" stop-color="#ff5500" stop-opacity="1"/>
<stop offset="1" stop-color="#ff5500" stop-opacity="1"/>
</linearGradient>
<rect x="-1" y="435" width="178.9" height="1" fill="url(#g3_4350)"/>
<linearGradient id="g3_4370" gradientUnits="userSpaceOnUse" x1="0" y1="0" x2="176.9" y2="0">
<stop offset="0" stop-color="#ff8e00" stop-opacity="1"/>
<stop offset="0.34" stop-color="#ffa100" stop-opacity="1"/>
<stop offset="0.45" stop-color="#ffd900" stop-opacity="1"/>
<stop offset="0.54" stop-color="#ffa100" stop-opacity="1"/>
<stop offset="1" stop-color="#ff7b00" stop-opacity="1"/>
</linearGradient>
<rect x="-1" y="437" width="178.9" height="1" fill="url(#g3_4370)"/>
<linearGradient id="g3_4400" gradientUnits="userSpaceOnUse" x1="0" y1="0" x2="176.9" y2="0">
<stop offset="0" stop-color="#ff6800" stop-opacity="1"/>
<stop offset="1" stop-color="#ff6800" stop-opacity="1"/>
</linearGradient>
<rect x="-1" y="440" width="178.9" height="1" fill="url(#g3_4400)"/>
<linearGradient id="g3_4420" gradientUnits="userSpaceOnUse" x1="0" y1="0" x2="176.9" y2="0">
<stop offset="0" stop-color="#ffa100" stop-opacity="1"/>
<stop offset="1" stop-color="#ffa100" stop-opacity="1"/>
</linearGradient>
<rect x="-1" y="442" width="178.9" height="1" fill="url(#g3_4420)"/>
<linearGradient id="g3_4440" gradientUnits="userSpaceOnUse" x1="0" y1="0" x2="176.9" y2="0">
<stop offset="0" stop-color="#ff2f00" stop-opacity="1"/>
<stop offset="1" stop-color="#ff2f00" stop-opacity="1"/>
</linearGradient>
<rect x="-1" y="444" width="178.9" height="1" fill="url(#g3_4440)"/>
<linearGradient id="g3_4460" gradientUnits="userSpaceOnUse" x1="0" y1="0" x2="176.9" y2="0">
<stop offset="0" stop-color="#0019ff" stop-opacity="0"/>
<stop offset="0.52" stop-color="#004dff" stop-opacity="0"/>
<stop offset="0.57" stop-color="#00e5f7" stop-opacity="0.8"/>
<stop offset="0.63" stop-color="#52ffa5" stop-opacity="1"/>
<stop offset="0.94" stop-color="#7bff7b" stop-opacity="1"/>
<stop offset="0.95" stop-color="#00b2ff" stop-opacity="0.5"/>
<stop offset="1" stop-color="#00b2ff" stop-opacity="0.3"/>
</linearGradient>
<rect x="-1" y="446" width="178.9" height="3" fill="url(#g3_4460)"/>
<linearGradient id="g3_4497" gradientUnits="userSpaceOnUse" x1="0" y1="0" x2="176.9" y2="0">
<stop offset="0" stop-color="#ffb300" stop-opacity="1"/>
<stop offset="0.31" stop-color="#ffa100" stop-opacity="1"/>
<stop offset="0.42" stop-color="#ffd900" stop-opacity="1"/>
<stop offset="0.54" stop-color="#ffd900" stop-opacity="1"/>
<stop offset="0.59" stop-color="#ff6800" stop-opacity="1"/>
<stop offset="0.63" stop-color="#f30900" stop-opacity="1"/>
<stop offset="0.94" stop-color="#f30900" stop-opacity="1"/>
<stop offset="1" stop-color="#ffa100" stop-opacity="1"/>
</linearGradient>
<rect x="-1" y="449.7" width="178.9" height="2.8" fill="url(#g3_4497)"/>
<linearGradient id="g3_4525" gradientUnits="userSpaceOnUse" x1="0" y1="0" x2="176.9" y2="0">
<stop offset="0" stop-color="#0019ff" stop-opacity="0"/>
<stop offset="0.5" stop-color="#004dff" stop-opacity="0"/>
<stop offset="0.54" stop-color="#29ffce" stop-opacity="0.9"/>
<stop offset="0.58" stop-color="#a5ff52" stop-opacity="1"/>
<stop offset="0.63" stop-color="#ffc600" stop-opacity="1"/>
<stop offset="0.94" stop-color="#ceff29" stop-opacity="1"/>
<stop offset="0.95" stop-color="#29ffce" stop-opacity="1"/>
<stop offset="1" stop-color="#29ffce" stop-opacity="0.8"/>
</linearGradient>
<rect x="-1" y="452.5" width="178.9" height="3.5" fill="url(#g3_4525)"/>
<linearGradient id="g3_810" gradientUnits="userSpaceOnUse" x1="0" y1="0" x2="176.9" y2="0">
<stop offset="0" stop-color="#00c7ff" stop-opacity="0.42"/>
<stop offset="0.45" stop-color="#00bdff" stop-opacity="0.35"/>
<stop offset="0.62" stop-color="#00b2ff" stop-opacity="0.15"/>
<stop offset="1" stop-color="#00b2ff" stop-opacity="0"/>
</linearGradient>
<rect x="-1" y="81" width="178.9" height="9" fill="url(#g3_810)"/>
<linearGradient id="g3_900" gradientUnits="userSpaceOnUse" x1="0" y1="0" x2="176.9" y2="0">
<stop offset="0" stop-color="#00b2ff" stop-opacity="0.28"/>
<stop offset="0.34" stop-color="#00b2ff" stop-opacity="0.2"/>
<stop offset="0.57" stop-color="#00b2ff" stop-opacity="0"/>
<stop offset="1" stop-color="#00b2ff" stop-opacity="0"/>
</linearGradient>
<rect x="-1" y="90" width="178.9" height="14" fill="url(#g3_900)"/>
<rect x="104" y="81" width="8.2" height="19" fill="url(#trA)"/>
<rect x="96" y="100" width="16.2" height="11" fill="url(#trB)"/>
<rect x="100" y="112" width="12.2" height="13" fill="url(#trA)"/>
<rect x="104" y="214" width="8.2" height="7" fill="url(#trA)"/>
<rect x="96" y="221" width="16.2" height="18" fill="url(#trB)"/>
<rect x="101" y="243" width="11.2" height="22" fill="url(#trA)"/>
<rect x="99" y="294" width="13.2" height="7" fill="url(#trA)"/>
<rect x="104" y="305" width="8.2" height="5" fill="url(#trA)"/>
<rect x="100" y="311" width="12.2" height="11" fill="url(#trA)"/>
<rect x="106" y="330" width="6.2" height="45" fill="url(#trA)"/>
<rect x="104" y="416" width="8.2" height="10" fill="url(#trA)"/>
<rect x="96" y="459" width="16.2" height="3" fill="url(#trB)"/>
<rect x="92" y="464" width="20.2" height="5" fill="url(#trC)"/>
<rect x="94" y="469" width="18.2" height="9" fill="url(#trB)"/>
<rect x="96" y="478" width="16.2" height="3" fill="url(#trB)"/>
<rect x="105" y="485" width="7.2" height="17" fill="url(#trA)"/>
<rect x="106" y="512" width="6.2" height="18" fill="url(#trA)"/>
<rect x="100" y="540" width="12.2" height="8" fill="url(#trA)"/>
<rect x="96" y="548" width="16.2" height="15" fill="url(#trB)"/>
<rect x="100" y="564" width="12.2" height="4" fill="url(#trA)"/>
<rect x="98" y="570" width="14.2" height="9" fill="url(#trB)"/>
<rect x="102" y="580" width="10.2" height="10" fill="url(#trA)"/>
<rect x="98" y="591" width="14.2" height="7" fill="url(#trB)"/>
<rect x="96" y="600" width="16.2" height="12" fill="url(#trB)"/>
<rect x="102" y="612" width="10.2" height="18" fill="url(#trA)"/>
<rect x="102" y="632" width="10.2" height="7" fill="url(#trA)"/>
<rect x="97" y="640" width="15.2" height="8" fill="url(#trB)"/>
<rect x="102" y="649" width="10.2" height="11" fill="url(#trA)"/>
<rect x="101" y="665" width="11.2" height="14" fill="url(#trA)"/>
<rect x="96" y="681" width="16.2" height="5" fill="url(#trB)"/>
<rect x="96" y="687" width="16.2" height="12" fill="url(#trB)"/>
<rect x="94" y="699" width="18.2" height="7" fill="url(#trB)"/>
<rect x="96" y="709" width="16.2" height="6" fill="url(#trB)"/>
<rect x="107" y="697" width="5.4" height="9" fill="#9cff5a"/>
<rect x="107" y="709" width="5.4" height="6" fill="#adff4a"/>
<rect x="112.2" y="81" width="12.1" height="11" fill="#ffab00"/>
<rect x="126" y="81" width="12.1" height="11" fill="#ffab00"/>
<rect x="139.8" y="81" width="12" height="11" fill="#ff9500"/>
<rect x="154" y="81" width="11.6" height="11" fill="#ffab00"/>
<rect x="112.2" y="92" width="12.1" height="5" fill="#ffec00"/>
<rect x="126" y="92" width="12.1" height="5" fill="#ffec00"/>
<rect x="139.8" y="92" width="12" height="5" fill="#ffab00"/>
<rect x="154" y="92" width="11.6" height="5" fill="#deff19"/>
<rect x="112.2" y="97" width="12.1" height="4" fill="#ffc100"/>
<rect x="126" y="97" width="12.1" height="4" fill="#ff9500"/>
<rect x="139.8" y="97" width="12" height="4" fill="#ffab00"/>
<rect x="154" y="97" width="11.6" height="4" fill="#ceff29"/>
<rect x="112.2" y="101" width="12.1" height="3" fill="#efff08"/>
<rect x="126" y="101" width="12.1" height="3" fill="#ffab00"/>
<rect x="139.8" y="101" width="12" height="3" fill="#ffec00"/>
<rect x="154" y="101" width="11.6" height="3" fill="#a5ff52"/>
<rect x="112.2" y="104" width="12.1" height="5" fill="#ffd600"/>
<rect x="126" y="104" width="12.1" height="5" fill="#ffab00"/>
<rect x="139.8" y="104" width="12" height="5" fill="#ffec00"/>
<rect x="154" y="104" width="11.6" height="5" fill="#a5ff52"/>
<rect x="112.2" y="109" width="12.1" height="2" fill="#deff19"/>
<rect x="126" y="109" width="12.1" height="2" fill="#ffec00"/>
<rect x="139.8" y="109" width="12" height="2" fill="#deff19"/>
<rect x="154" y="109" width="11.6" height="2" fill="#8cff6b"/>
<rect x="112.2" y="111" width="12.1" height="7" fill="#ffc100"/>
<rect x="126" y="111" width="12.1" height="7" fill="#ffab00"/>
<rect x="139.8" y="111" width="12" height="7" fill="#ffc100"/>
<rect x="154" y="111" width="11.6" height="7" fill="#deff19"/>
<rect x="112.2" y="118" width="12.1" height="7" fill="#ff9500"/>
<rect x="126" y="118" width="12.1" height="7" fill="#ff9500"/>
<rect x="139.8" y="118" width="12" height="7" fill="#ffab00"/>
<rect x="154" y="118" width="11.6" height="7" fill="#ffc100"/>
<rect x="112.2" y="141" width="12.1" height="1" fill="#e40000"/>
<rect x="126" y="141" width="12.1" height="1" fill="#ff1300"/>
<rect x="139.8" y="141" width="12" height="1" fill="#ff1300"/>
<rect x="154" y="141" width="11.6" height="1" fill="#ff5400"/>
<rect x="112.2" y="214" width="12.1" height="4" fill="#ffab00"/>
<rect x="126" y="214" width="12.1" height="4" fill="#ff9500"/>
<rect x="139.8" y="214" width="12" height="4" fill="#ffd600"/>
<rect x="154" y="214" width="11.6" height="4" fill="#efff08"/>
<rect x="112.2" y="218" width="12.1" height="3" fill="#ffc100"/>
<rect x="126" y="218" width="12.1" height="3" fill="#ff9500"/>
<rect x="139.8" y="218" width="12" height="3" fill="#ffab00"/>
<rect x="154" y="218" width="11.6" height="3" fill="#efff08"/>
<rect x="112.2" y="221" width="12.1" height="9" fill="#ff9500"/>
<rect x="126" y="221" width="12.1" height="9" fill="#ff6a00"/>
<rect x="139.8" y="221" width="12" height="9" fill="#ff8000"/>
<rect x="154" y="221" width="11.6" height="9" fill="#ffd600"/>
<rect x="112.2" y="230" width="12.1" height="9" fill="#ff6a00"/>
<rect x="126" y="230" width="12.1" height="9" fill="#ff5400"/>
<rect x="139.8" y="230" width="12" height="9" fill="#ff3e00"/>
<rect x="154" y="230" width="11.6" height="9" fill="#ff9500"/>
<rect x="112.2" y="243" width="12.1" height="2" fill="#ffab00"/>
<rect x="126" y="243" width="12.1" height="2" fill="#ffab00"/>
<rect x="139.8" y="243" width="12" height="2" fill="#ffab00"/>
<rect x="154" y="243" width="11.6" height="2" fill="#ffd600"/>
<rect x="112.2" y="247" width="12.1" height="5" fill="#ffd600"/>
<rect x="126" y="247" width="12.1" height="5" fill="#ffc100"/>
<rect x="139.8" y="247" width="12" height="5" fill="#ffab00"/>
<rect x="154" y="247" width="11.6" height="5" fill="#efff08"/>
<rect x="112.2" y="252" width="12.1" height="9" fill="#ffec00"/>
<rect x="126" y="252" width="12.1" height="9" fill="#ffc100"/>
<rect x="139.8" y="252" width="12" height="9" fill="#ffab00"/>
<rect x="154" y="252" width="11.6" height="9" fill="#deff19"/>
<rect x="112.2" y="261" width="12.1" height="4" fill="#ffab00"/>
<rect x="126" y="261" width="12.1" height="4" fill="#ffab00"/>
<rect x="139.8" y="261" width="12" height="4" fill="#ff9500"/>
<rect x="154" y="261" width="11.6" height="4" fill="#ffec00"/>
<rect x="112.2" y="294" width="12.1" height="7" fill="#ffec00"/>
<rect x="126" y="294" width="12.1" height="7" fill="#ffab00"/>
<rect x="139.8" y="294" width="12" height="7" fill="#ffc100"/>
<rect x="154" y="294" width="11.6" height="7" fill="#deff19"/>
<rect x="112.2" y="305" width="12.1" height="5" fill="#ffec00"/>
<rect x="126" y="305" width="12.1" height="5" fill="#ffc100"/>
<rect x="139.8" y="305" width="12" height="5" fill="#ffec00"/>
<rect x="154" y="305" width="11.6" height="5" fill="#ceff29"/>
<rect x="112.2" y="311" width="12.1" height="11" fill="#ff8000"/>
<rect x="126" y="311" width="12.1" height="11" fill="#ff6a00"/>
<rect x="139.8" y="311" width="12" height="11" fill="#ff9500"/>
<rect x="154" y="311" width="11.6" height="11" fill="#ffab00"/>
<rect x="112.2" y="323" width="12.1" height="4" fill="#ffc100"/>
<rect x="126" y="323" width="12.1" height="4" fill="#ffab00"/>
<rect x="139.8" y="323" width="12" height="4" fill="#ffd600"/>
<rect x="154" y="323" width="11.6" height="4" fill="#ffec00"/>
<rect x="112.2" y="330" width="12.1" height="6" fill="#ceff29"/>
<rect x="126" y="330" width="12.1" height="6" fill="#efff08"/>
<rect x="139.8" y="330" width="12" height="6" fill="#efff08"/>
<rect x="154" y="330" width="11.6" height="6" fill="#bdff3a"/>
<rect x="112.2" y="336" width="12.1" height="9" fill="#ceff29"/>
<rect x="126" y="336" width="12.1" height="9" fill="#ffec00"/>
<rect x="139.8" y="336" width="12" height="9" fill="#ffec00"/>
<rect x="154" y="336" width="11.6" height="9" fill="#deff19"/>
<rect x="112.2" y="346" width="12.1" height="2" fill="#ceff29"/>
<rect x="126" y="346" width="12.1" height="2" fill="#efff08"/>
<rect x="139.8" y="346" width="12" height="2" fill="#efff08"/>
<rect x="154" y="346" width="11.6" height="2" fill="#deff19"/>
<rect x="112.2" y="349" width="12.1" height="6" fill="#efff08"/>
<rect x="126" y="349" width="12.1" height="6" fill="#ffd600"/>
<rect x="139.8" y="349" width="12" height="6" fill="#efff08"/>
<rect x="154" y="349" width="11.6" height="6" fill="#ceff29"/>
<rect x="112.2" y="355" width="12.1" height="3" fill="#ffab00"/>
<rect x="126" y="355" width="12.1" height="3" fill="#ffab00"/>
<rect x="139.8" y="355" width="12" height="3" fill="#ffec00"/>
<rect x="154" y="355" width="11.6" height="3" fill="#deff19"/>
<rect x="112.2" y="358" width="12.1" height="5" fill="#ffab00"/>
<rect x="126" y="358" width="12.1" height="5" fill="#ff9500"/>
<rect x="139.8" y="358" width="12" height="5" fill="#ffd600"/>
<rect x="154" y="358" width="11.6" height="5" fill="#efff08"/>
<rect x="112.2" y="365" width="12.1" height="6" fill="#ffc100"/>
<rect x="126" y="365" width="12.1" height="6" fill="#ffc100"/>
<rect x="139.8" y="365" width="12" height="6" fill="#ffd600"/>
<rect x="154" y="365" width="11.6" height="6" fill="#deff19"/>
<rect x="112.2" y="372" width="12.1" height="3" fill="#ffc100"/>
<rect x="126" y="372" width="12.1" height="3" fill="#ffd600"/>
<rect x="139.8" y="372" width="12" height="3" fill="#ffd600"/>
<rect x="154" y="372" width="11.6" height="3" fill="#efff08"/>
<rect x="112.2" y="378" width="12.1" height="4" fill="#ff8000"/>
<rect x="126" y="378" width="12.1" height="4" fill="#ff6a00"/>
<rect x="139.8" y="378" width="12" height="4" fill="#ff6a00"/>
<rect x="154" y="378" width="11.6" height="4" fill="#ffa000"/>
<rect x="112.2" y="416" width="12.1" height="4" fill="#ffd600"/>
<rect x="126" y="416" width="12.1" height="4" fill="#ffc100"/>
<rect x="139.8" y="416" width="12" height="4" fill="#ffec00"/>
<rect x="154" y="416" width="11.6" height="4" fill="#efff08"/>
<rect x="112.2" y="421" width="12.1" height="5" fill="#ffc100"/>
<rect x="126" y="421" width="12.1" height="5" fill="#ffab00"/>
<rect x="139.8" y="421" width="12" height="5" fill="#deff19"/>
<rect x="154" y="421" width="11.6" height="5" fill="#deff19"/>
<rect x="112.2" y="428" width="12.1" height="24" fill="#a20000"/>
<rect x="126" y="428" width="12.1" height="24" fill="#a20000"/>
<rect x="139.8" y="428" width="12" height="24" fill="#a20000"/>
<rect x="154" y="428" width="11.6" height="24" fill="#a20000"/>
<rect x="112.2" y="452" width="12.1" height="7" fill="#f30900"/>
<rect x="126" y="452" width="12.1" height="7" fill="#e40000"/>
<rect x="139.8" y="452" width="12" height="7" fill="#e40000"/>
<rect x="154" y="452" width="11.6" height="7" fill="#ff1300"/>
<rect x="112.2" y="459" width="12.1" height="1" fill="#ff5400"/>
<rect x="126" y="459" width="12.1" height="1" fill="#ff5400"/>
<rect x="139.8" y="459" width="12" height="1" fill="#ff5400"/>
<rect x="154" y="459" width="11.6" height="1" fill="#ff5400"/>
<rect x="112.2" y="460" width="12.1" height="2" fill="#d10000"/>
<rect x="126" y="460" width="12.1" height="2" fill="#d10000"/>
<rect x="139.8" y="460" width="12" height="2" fill="#d10000"/>
<rect x="154" y="460" width="11.6" height="2" fill="#d10000"/>
<rect x="112.2" y="464" width="12.1" height="5" fill="#ff3e00"/>
<rect x="126" y="464" width="12.1" height="5" fill="#ff3e00"/>
<rect x="139.8" y="464" width="12" height="5" fill="#ff5400"/>
<rect x="154" y="464" width="11.6" height="5" fill="#ff6a00"/>
<rect x="112.2" y="469" width="12.1" height="3" fill="#ff3e00"/>
<rect x="126" y="469" width="12.1" height="3" fill="#ff3e00"/>
<rect x="139.8" y="469" width="12" height="3" fill="#ff6a00"/>
<rect x="154" y="469" width="11.6" height="3" fill="#ff8000"/>
<rect x="112.2" y="472" width="12.1" height="6" fill="#ff3e00"/>
<rect x="126" y="472" width="12.1" height="6" fill="#ff5400"/>
<rect x="139.8" y="472" width="12" height="6" fill="#ff9500"/>
<rect x="154" y="472" width="11.6" height="6" fill="#ffab00"/>
<rect x="112.2" y="478" width="12.1" height="3" fill="#ffab00"/>
<rect x="126" y="478" width="12.1" height="3" fill="#ffab00"/>
<rect x="139.8" y="478" width="12" height="3" fill="#ffd600"/>
<rect x="154" y="478" width="11.6" height="3" fill="#ffec00"/>
<rect x="112.2" y="485" width="12.1" height="4" fill="#ffab00"/>
<rect x="126" y="485" width="12.1" height="4" fill="#ff9500"/>
<rect x="139.8" y="485" width="12" height="4" fill="#ffec00"/>
<rect x="154" y="485" width="11.6" height="4" fill="#ceff29"/>
<rect x="112.2" y="490" width="12.1" height="5" fill="#ffab00"/>
<rect x="126" y="490" width="12.1" height="5" fill="#ff9500"/>
<rect x="139.8" y="490" width="12" height="5" fill="#efff08"/>
<rect x="154" y="490" width="11.6" height="5" fill="#ceff29"/>
<rect x="112.2" y="496" width="12.1" height="6" fill="#ffc100"/>
<rect x="126" y="496" width="12.1" height="6" fill="#ffab00"/>
<rect x="139.8" y="496" width="12" height="6" fill="#deff19"/>
<rect x="154" y="496" width="11.6" height="6" fill="#bdff3a"/>
<rect x="112.2" y="504" width="12.1" height="6" fill="#ffd600"/>
<rect x="126" y="504" width="12.1" height="6" fill="#ffd600"/>
<rect x="139.8" y="504" width="12" height="6" fill="#deff19"/>
<rect x="154" y="504" width="11.6" height="6" fill="#deff19"/>
<rect x="112.2" y="512" width="12.1" height="10" fill="#ffec00"/>
<rect x="126" y="512" width="12.1" height="10" fill="#ffd600"/>
<rect x="139.8" y="512" width="12" height="10" fill="#deff19"/>
<rect x="154" y="512" width="11.6" height="10" fill="#bdff3a"/>
<rect x="112.2" y="523" width="12.1" height="7" fill="#ffec00"/>
<rect x="126" y="523" width="12.1" height="7" fill="#ffc100"/>
<rect x="139.8" y="523" width="12" height="7" fill="#deff19"/>
<rect x="154" y="523" width="11.6" height="7" fill="#adff4a"/>
<rect x="112.2" y="530" width="12.1" height="7" fill="#ffd600"/>
<rect x="126" y="530" width="12.1" height="7" fill="#ffc100"/>
<rect x="139.8" y="530" width="12" height="7" fill="#ffec00"/>
<rect x="154" y="530" width="11.6" height="7" fill="#ceff29"/>
<rect x="112.2" y="540" width="12.1" height="4" fill="#efff08"/>
<rect x="126" y="540" width="12.1" height="4" fill="#ffc100"/>
<rect x="139.8" y="540" width="12" height="4" fill="#ffab00"/>
<rect x="154" y="540" width="11.6" height="4" fill="#ffec00"/>
<rect x="112.2" y="545" width="12.1" height="18" fill="#ffab00"/>
<rect x="126" y="545" width="12.1" height="18" fill="#ffab00"/>
<rect x="139.8" y="545" width="12" height="18" fill="#ffab00"/>
<rect x="154" y="545" width="11.6" height="18" fill="#efff08"/>
<rect x="112.2" y="564" width="12.1" height="4" fill="#ffec00"/>
<rect x="126" y="564" width="12.1" height="4" fill="#ffab00"/>
<rect x="139.8" y="564" width="12" height="4" fill="#ffd600"/>
<rect x="154" y="564" width="11.6" height="4" fill="#deff19"/>
<rect x="112.2" y="570" width="12.1" height="9" fill="#deff19"/>
<rect x="126" y="570" width="12.1" height="9" fill="#ffab00"/>
<rect x="139.8" y="570" width="12" height="9" fill="#ffd600"/>
<rect x="154" y="570" width="11.6" height="9" fill="#ceff29"/>
<rect x="112.2" y="580" width="12.1" height="7" fill="#ceff29"/>
<rect x="126" y="580" width="12.1" height="7" fill="#ffd600"/>
<rect x="139.8" y="580" width="12" height="7" fill="#ffec00"/>
<rect x="154" y="580" width="11.6" height="7" fill="#ceff29"/>
<rect x="112.2" y="588" width="12.1" height="2" fill="#efff08"/>
<rect x="126" y="588" width="12.1" height="2" fill="#ffec00"/>
<rect x="139.8" y="588" width="12" height="2" fill="#efff08"/>
<rect x="154" y="588" width="11.6" height="2" fill="#ceff29"/>
<rect x="112.2" y="591" width="12.1" height="7" fill="#ffab00"/>
<rect x="126" y="591" width="12.1" height="7" fill="#ffec00"/>
<rect x="139.8" y="591" width="12" height="7" fill="#ffec00"/>
<rect x="154" y="591" width="11.6" height="7" fill="#ceff29"/>
<rect x="112.2" y="600" width="12.1" height="11" fill="#deff19"/>
<rect x="126" y="600" width="12.1" height="11" fill="#a5ff52"/>
<rect x="139.8" y="600" width="12" height="11" fill="#bdff3a"/>
<rect x="154" y="600" width="11.6" height="11" fill="#bdff3a"/>
<rect x="112.2" y="611" width="12.1" height="11" fill="#ffc100"/>
<rect x="126" y="611" width="12.1" height="11" fill="#ffec00"/>
<rect x="139.8" y="611" width="12" height="11" fill="#ffc100"/>
<rect x="154" y="611" width="11.6" height="11" fill="#ceff29"/>
<rect x="112.2" y="623" width="12.1" height="7" fill="#efff08"/>
<rect x="126" y="623" width="12.1" height="7" fill="#deff19"/>
<rect x="139.8" y="623" width="12" height="7" fill="#ffec00"/>
<rect x="154" y="623" width="11.6" height="7" fill="#ceff29"/>
<rect x="112.2" y="632" width="12.1" height="7" fill="#ffec00"/>
<rect x="126" y="632" width="12.1" height="7" fill="#ffec00"/>
<rect x="139.8" y="632" width="12" height="7" fill="#ffd600"/>
<rect x="154" y="632" width="11.6" height="7" fill="#ceff29"/>
<rect x="112.2" y="640" width="12.1" height="8" fill="#ffab00"/>
<rect x="126" y="640" width="12.1" height="8" fill="#ffd600"/>
<rect x="139.8" y="640" width="12" height="8" fill="#ffec00"/>
<rect x="154" y="640" width="11.6" height="8" fill="#ceff29"/>
<rect x="112.2" y="649" width="12.1" height="11" fill="#deff19"/>
<rect x="126" y="649" width="12.1" height="11" fill="#deff19"/>
<rect x="139.8" y="649" width="12" height="11" fill="#ffec00"/>
<rect x="154" y="649" width="11.6" height="11" fill="#ceff29"/>
<rect x="112.2" y="665" width="12.1" height="8" fill="#deff19"/>
<rect x="126" y="665" width="12.1" height="8" fill="#bdff3a"/>
<rect x="139.8" y="665" width="12" height="8" fill="#deff19"/>
<rect x="154" y="665" width="11.6" height="8" fill="#ceff29"/>
<rect x="112.2" y="674" width="12.1" height="5" fill="#deff19"/>
<rect x="126" y="674" width="12.1" height="5" fill="#bdff3a"/>
<rect x="139.8" y="674" width="12" height="5" fill="#ffd600"/>
<rect x="154" y="674" width="11.6" height="5" fill="#ceff29"/>
<rect x="112.2" y="681" width="12.1" height="5" fill="#deff19"/>
<rect x="126" y="681" width="12.1" height="5" fill="#bdff3a"/>
<rect x="139.8" y="681" width="12" height="5" fill="#ffec00"/>
<rect x="154" y="681" width="11.6" height="5" fill="#ceff29"/>
<rect x="112.2" y="687" width="12.1" height="12" fill="#ffc100"/>
<rect x="126" y="687" width="12.1" height="12" fill="#ceff29"/>
<rect x="139.8" y="687" width="12" height="12" fill="#deff19"/>
<rect x="154" y="687" width="11.6" height="12" fill="#bdff3a"/>
<rect x="112.2" y="699" width="12.1" height="7" fill="#ceff29"/>
<rect x="126" y="699" width="12.1" height="7" fill="#adff4a"/>
<rect x="139.8" y="699" width="12" height="7" fill="#bdff3a"/>
<rect x="154" y="699" width="11.6" height="7" fill="#adff4a"/>
<rect x="112.2" y="709" width="12.1" height="6" fill="#ffec00"/>
<rect x="126" y="709" width="12.1" height="6" fill="#ceff29"/>
<rect x="139.8" y="709" width="12" height="6" fill="#deff19"/>
<rect x="154" y="709" width="11.6" height="6" fill="#adff4a"/>
<rect x="112.2" y="718" width="12.1" height="2.5" fill="#ffab00"/>
<rect x="126" y="718" width="12.1" height="2.5" fill="#ffd600"/>
<rect x="139.8" y="718" width="12" height="2.5" fill="#ff8000"/>
<rect x="154" y="718" width="11.6" height="2.5" fill="#ff9500"/>
<rect x="112.2" y="81" width="53.4" height="347" fill="none" filter="url(#hz)" opacity="0.45"/>
<rect x="112.2" y="462" width="53.4" height="258.5" fill="none" filter="url(#hz)" opacity="0.45"/>
<rect x="124.3" y="81" width="1.7" height="11" fill="#00d6ff"/>
<rect x="124.6" y="81" width="1.1" height="11" fill="#0000ec"/>
<rect x="138.1" y="81" width="1.7" height="11" fill="#30ffc7"/>
<rect x="138.4" y="81" width="1.1" height="11" fill="#0082ff"/>
<rect x="151.8" y="81" width="2.2" height="11" fill="#30ffc7"/>
<rect x="152.35" y="81" width="1.1" height="11" fill="#0059ff"/>
<rect x="124.3" y="92" width="1.7" height="5" fill="#00b2ff"/>
<rect x="124.6" y="92" width="1.1" height="5" fill="#0000d1"/>
<rect x="138.1" y="92" width="1.7" height="5" fill="#08f0ef"/>
<rect x="138.4" y="92" width="1.1" height="5" fill="#0061ff"/>
<rect x="151.8" y="92" width="2.2" height="5" fill="#08f0ef"/>
<rect x="152.35" y="92" width="1.1" height="5" fill="#0038ff"/>
<rect x="124.3" y="97" width="1.7" height="4" fill="#00d6ff"/>
<rect x="124.6" y="97" width="1.1" height="4" fill="#0000ec"/>
<rect x="138.1" y="97" width="1.7" height="4" fill="#30ffc7"/>
<rect x="138.4" y="97" width="1.1" height="4" fill="#0082ff"/>
<rect x="151.8" y="97" width="2.2" height="4" fill="#08f0ef"/>
<rect x="152.35" y="97" width="1.1" height="4" fill="#0038ff"/>
<rect x="124.3" y="101" width="1.7" height="3" fill="#00b2ff"/>
<rect x="124.6" y="101" width="1.1" height="3" fill="#0000d1"/>
<rect x="138.1" y="101" width="1.7" height="3" fill="#08f0ef"/>
<rect x="138.4" y="101" width="1.1" height="3" fill="#0061ff"/>
<rect x="151.8" y="101" width="2.2" height="3" fill="#08f0ef"/>
<rect x="152.35" y="101" width="1.1" height="3" fill="#0038ff"/>
<rect x="124.3" y="104" width="1.7" height="5" fill="#00baff"/>
<rect x="124.6" y="104" width="1.1" height="5" fill="#0000d6"/>
<rect x="138.1" y="104" width="1.7" height="5" fill="#08f0ef"/>
<rect x="138.4" y="104" width="1.1" height="5" fill="#0061ff"/>
<rect x="151.8" y="104" width="2.2" height="5" fill="#08f0ef"/>
<rect x="152.35" y="104" width="1.1" height="5" fill="#0038ff"/>
<rect x="124.3" y="109" width="1.7" height="2" fill="#00b2ff"/>
<rect x="124.6" y="109" width="1.1" height="2" fill="#0000d1"/>
<rect x="138.1" y="109" width="1.7" height="2" fill="#08f0ef"/>
<rect x="138.4" y="109" width="1.1" height="2" fill="#0061ff"/>
<rect x="151.8" y="109" width="2.2" height="2" fill="#08f0ef"/>
<rect x="152.35" y="109" width="1.1" height="2" fill="#0038ff"/>
<rect x="124.3" y="111" width="1.7" height="7" fill="#00c8ff"/>
<rect x="124.6" y="111" width="1.1" height="7" fill="#0000e1"/>
<rect x="138.1" y="111" width="1.7" height="7" fill="#1affdd"/>
<rect x="138.4" y="111" width="1.1" height="7" fill="#006fff"/>
<rect x="151.8" y="111" width="2.2" height="7" fill="#08f0ef"/>
<rect x="152.35" y="111" width="1.1" height="7" fill="#0038ff"/>
<rect x="124.3" y="118" width="1.7" height="7" fill="#0af2ed"/>
<rect x="124.6" y="118" width="1.1" height="7" fill="#0000ff"/>
<rect x="138.1" y="118" width="1.7" height="7" fill="#30ffc7"/>
<rect x="138.4" y="118" width="1.1" height="7" fill="#0082ff"/>
<rect x="151.8" y="118" width="2.2" height="7" fill="#1affdd"/>
<rect x="152.35" y="118" width="1.1" height="7" fill="#0046ff"/>
<rect x="124.3" y="141" width="1.7" height="1" fill="#f30900"/>
<rect x="124.6" y="141" width="1.1" height="1" fill="#ff2f00"/>
<rect x="138.1" y="141" width="1.7" height="1" fill="#c4ff33"/>
<rect x="138.4" y="141" width="1.1" height="1" fill="#12fce5"/>
<rect x="151.8" y="141" width="2.2" height="1" fill="#a2ff55"/>
<rect x="152.35" y="141" width="1.1" height="1" fill="#00b7ff"/>
<rect x="124.3" y="214" width="1.7" height="4" fill="#00e4f8"/>
<rect x="124.6" y="214" width="1.1" height="4" fill="#0000f6"/>
<rect x="138.1" y="214" width="1.7" height="4" fill="#1affdd"/>
<rect x="138.4" y="214" width="1.1" height="4" fill="#006fff"/>
<rect x="151.8" y="214" width="2.2" height="4" fill="#08f0ef"/>
<rect x="152.35" y="214" width="1.1" height="4" fill="#0038ff"/>
<rect x="124.3" y="218" width="1.7" height="3" fill="#00d6ff"/>
<rect x="124.6" y="218" width="1.1" height="3" fill="#0000ec"/>
<rect x="138.1" y="218" width="1.7" height="3" fill="#30ffc7"/>
<rect x="138.4" y="218" width="1.1" height="3" fill="#0082ff"/>
<rect x="151.8" y="218" width="2.2" height="3" fill="#08f0ef"/>
<rect x="152.35" y="218" width="1.1" height="3" fill="#0038ff"/>
<rect x="124.3" y="221" width="1.7" height="9" fill="#21ffd6"/>
<rect x="124.6" y="221" width="1.1" height="9" fill="#0005ff"/>
<rect x="138.1" y="221" width="1.7" height="9" fill="#5eff99"/>
<rect x="138.4" y="221" width="1.1" height="9" fill="#00a7ff"/>
<rect x="151.8" y="221" width="2.2" height="9" fill="#25ffd2"/>
<rect x="152.35" y="221" width="1.1" height="9" fill="#0050ff"/>
<rect x="124.3" y="230" width="1.7" height="9" fill="#43ffb4"/>
<rect x="124.6" y="230" width="1.1" height="9" fill="#0021ff"/>
<rect x="138.1" y="230" width="1.7" height="9" fill="#8bff6c"/>
<rect x="138.4" y="230" width="1.1" height="9" fill="#00cdff"/>
<rect x="151.8" y="230" width="2.2" height="9" fill="#69ff8e"/>
<rect x="152.35" y="230" width="1.1" height="9" fill="#0088ff"/>
<rect x="124.3" y="243" width="1.7" height="2" fill="#00d6ff"/>
<rect x="124.6" y="243" width="1.1" height="2" fill="#0000ec"/>
<rect x="138.1" y="243" width="1.7" height="2" fill="#25ffd2"/>
<rect x="138.4" y="243" width="1.1" height="2" fill="#0079ff"/>
<rect x="151.8" y="243" width="2.2" height="2" fill="#0ef7e9"/>
<rect x="152.35" y="243" width="1.1" height="2" fill="#003dff"/>
<rect x="124.3" y="247" width="1.7" height="5" fill="#00b2ff"/>
<rect x="124.6" y="247" width="1.1" height="5" fill="#0000d1"/>
<rect x="138.1" y="247" width="1.7" height="5" fill="#1affdd"/>
<rect x="138.4" y="247" width="1.1" height="5" fill="#006fff"/>
<rect x="151.8" y="247" width="2.2" height="5" fill="#08f0ef"/>
<rect x="152.35" y="247" width="1.1" height="5" fill="#0038ff"/>
<rect x="124.3" y="252" width="1.7" height="9" fill="#00b2ff"/>
<rect x="124.6" y="252" width="1.1" height="9" fill="#0000d1"/>
<rect x="138.1" y="252" width="1.7" height="9" fill="#1affdd"/>
<rect x="138.4" y="252" width="1.1" height="9" fill="#006fff"/>
<rect x="151.8" y="252" width="2.2" height="9" fill="#08f0ef"/>
<rect x="152.35" y="252" width="1.1" height="9" fill="#0038ff"/>
<rect x="124.3" y="261" width="1.7" height="4" fill="#00d6ff"/>
<rect x="124.6" y="261" width="1.1" height="4" fill="#0000ec"/>
<rect x="138.1" y="261" width="1.7" height="4" fill="#30ffc7"/>
<rect x="138.4" y="261" width="1.1" height="4" fill="#0082ff"/>
<rect x="151.8" y="261" width="2.2" height="4" fill="#0ef7e9"/>
<rect x="152.35" y="261" width="1.1" height="4" fill="#003dff"/>
<rect x="124.3" y="294" width="1.7" height="7" fill="#00b2ff"/>
<rect x="124.6" y="294" width="1.1" height="7" fill="#0000d1"/>
<rect x="138.1" y="294" width="1.7" height="7" fill="#1affdd"/>
<rect x="138.4" y="294" width="1.1" height="7" fill="#006fff"/>
<rect x="151.8" y="294" width="2.2" height="7" fill="#08f0ef"/>
<rect x="152.35" y="294" width="1.1" height="7" fill="#0038ff"/>
<rect x="124.3" y="305" width="1.7" height="5" fill="#00b2ff"/>
<rect x="124.6" y="305" width="1.1" height="5" fill="#0000d1"/>
<rect x="138.1" y="305" width="1.7" height="5" fill="#08f0ef"/>
<rect x="138.4" y="305" width="1.1" height="5" fill="#0061ff"/>
<rect x="151.8" y="305" width="2.2" height="5" fill="#08f0ef"/>
<rect x="152.35" y="305" width="1.1" height="5" fill="#0038ff"/>
<rect x="124.3" y="311" width="1.7" height="11" fill="#2cffcb"/>
<rect x="124.6" y="311" width="1.1" height="11" fill="#000eff"/>
<rect x="138.1" y="311" width="1.7" height="11" fill="#52ffa5"/>
<rect x="138.4" y="311" width="1.1" height="11" fill="#009eff"/>
<rect x="151.8" y="311" width="2.2" height="11" fill="#30ffc7"/>
<rect x="152.35" y="311" width="1.1" height="11" fill="#0059ff"/>
<rect x="124.3" y="323" width="1.7" height="4" fill="#00c8ff"/>
<rect x="124.6" y="323" width="1.1" height="4" fill="#0000e1"/>
<rect x="138.1" y="323" width="1.7" height="4" fill="#0ef7e9"/>
<rect x="138.4" y="323" width="1.1" height="4" fill="#0066ff"/>
<rect x="151.8" y="323" width="2.2" height="4" fill="#08f0ef"/>
<rect x="152.35" y="323" width="1.1" height="4" fill="#0038ff"/>
<rect x="124.3" y="330" width="1.7" height="6" fill="#00b2ff"/>
<rect x="124.6" y="330" width="1.1" height="6" fill="#0000d1"/>
<rect x="138.1" y="330" width="1.7" height="6" fill="#08f0ef"/>
<rect x="138.4" y="330" width="1.1" height="6" fill="#0061ff"/>
<rect x="151.8" y="330" width="2.2" height="6" fill="#08f0ef"/>
<rect x="152.35" y="330" width="1.1" height="6" fill="#0038ff"/>
<rect x="124.3" y="336" width="1.7" height="9" fill="#00b2ff"/>
<rect x="124.6" y="336" width="1.1" height="9" fill="#0000d1"/>
<rect x="138.1" y="336" width="1.7" height="9" fill="#08f0ef"/>
<rect x="138.4" y="336" width="1.1" height="9" fill="#0061ff"/>
<rect x="151.8" y="336" width="2.2" height="9" fill="#08f0ef"/>
<rect x="152.35" y="336" width="1.1" height="9" fill="#0038ff"/>
<rect x="124.3" y="346" width="1.7" height="2" fill="#00b2ff"/>
<rect x="124.6" y="346" width="1.1" height="2" fill="#0000d1"/>
<rect x="138.1" y="346" width="1.7" height="2" fill="#08f0ef"/>
<rect x="138.4" y="346" width="1.1" height="2" fill="#0061ff"/>
<rect x="151.8" y="346" width="2.2" height="2" fill="#08f0ef"/>
<rect x="152.35" y="346" width="1.1" height="2" fill="#0038ff"/>
<rect x="124.3" y="349" width="1.7" height="6" fill="#00b2ff"/>
<rect x="124.6" y="349" width="1.1" height="6" fill="#0000d1"/>
<rect x="138.1" y="349" width="1.7" height="6" fill="#08f0ef"/>
<rect x="138.4" y="349" width="1.1" height="6" fill="#0061ff"/>
<rect x="151.8" y="349" width="2.2" height="6" fill="#08f0ef"/>
<rect x="152.35" y="349" width="1.1" height="6" fill="#0038ff"/>
<rect x="124.3" y="355" width="1.7" height="3" fill="#00d6ff"/>
<rect x="124.6" y="355" width="1.1" height="3" fill="#0000ec"/>
<rect x="138.1" y="355" width="1.7" height="3" fill="#08f0ef"/>
<rect x="138.4" y="355" width="1.1" height="3" fill="#0061ff"/>
<rect x="151.8" y="355" width="2.2" height="3" fill="#08f0ef"/>
<rect x="152.35" y="355" width="1.1" height="3" fill="#0038ff"/>
<rect x="124.3" y="358" width="1.7" height="5" fill="#00e4f8"/>
<rect x="124.6" y="358" width="1.1" height="5" fill="#0000f6"/>
<rect x="138.1" y="358" width="1.7" height="5" fill="#1affdd"/>
<rect x="138.4" y="358" width="1.1" height="5" fill="#006fff"/>
<rect x="151.8" y="358" width="2.2" height="5" fill="#08f0ef"/>
<rect x="152.35" y="358" width="1.1" height="5" fill="#0038ff"/>
<rect x="124.3" y="365" width="1.7" height="6" fill="#00baff"/>
<rect x="124.6" y="365" width="1.1" height="6" fill="#0000d6"/>
<rect x="138.1" y="365" width="1.7" height="6" fill="#08f0ef"/>
<rect x="138.4" y="365" width="1.1" height="6" fill="#0061ff"/>
<rect x="151.8" y="365" width="2.2" height="6" fill="#08f0ef"/>
<rect x="152.35" y="365" width="1.1" height="6" fill="#0038ff"/>
<rect x="124.3" y="372" width="1.7" height="3" fill="#00b2ff"/>
<rect x="124.6" y="372" width="1.1" height="3" fill="#0000d1"/>
<rect x="138.1" y="372" width="1.7" height="3" fill="#08f0ef"/>
<rect x="138.4" y="372" width="1.1" height="3" fill="#0061ff"/>
<rect x="151.8" y="372" width="2.2" height="3" fill="#08f0ef"/>
<rect x="152.35" y="372" width="1.1" height="3" fill="#0038ff"/>
<rect x="124.3" y="378" width="1.7" height="4" fill="#2cffcb"/>
<rect x="124.6" y="378" width="1.1" height="4" fill="#000eff"/>
<rect x="138.1" y="378" width="1.7" height="4" fill="#69ff8e"/>
<rect x="138.4" y="378" width="1.1" height="4" fill="#00b1ff"/>
<rect x="151.8" y="378" width="2.2" height="4" fill="#4dffaa"/>
<rect x="152.35" y="378" width="1.1" height="4" fill="#0071ff"/>
<rect x="124.3" y="416" width="1.7" height="4" fill="#00b2ff"/>
<rect x="124.6" y="416" width="1.1" height="4" fill="#0000d1"/>
<rect x="138.1" y="416" width="1.7" height="4" fill="#08f0ef"/>
<rect x="138.4" y="416" width="1.1" height="4" fill="#0061ff"/>
<rect x="151.8" y="416" width="2.2" height="4" fill="#08f0ef"/>
<rect x="152.35" y="416" width="1.1" height="4" fill="#0038ff"/>
<rect x="124.3" y="421" width="1.7" height="5" fill="#00c8ff"/>
<rect x="124.6" y="421" width="1.1" height="5" fill="#0000e1"/>
<rect x="138.1" y="421" width="1.7" height="5" fill="#08f0ef"/>
<rect x="138.4" y="421" width="1.1" height="5" fill="#0061ff"/>
<rect x="151.8" y="421" width="2.2" height="5" fill="#08f0ef"/>
<rect x="152.35" y="421" width="1.1" height="5" fill="#0038ff"/>
<rect x="124.3" y="428" width="1.7" height="24" fill="#f30900"/>
<rect x="124.6" y="428" width="1.1" height="24" fill="#ff2f00"/>
<rect x="138.1" y="428" width="1.7" height="24" fill="#f30900"/>
<rect x="138.4" y="428" width="1.1" height="24" fill="#ff2f00"/>
<rect x="151.8" y="428" width="2.2" height="24" fill="#f30900"/>
<rect x="152.35" y="428" width="1.1" height="24" fill="#ff2f00"/>
<rect x="124.3" y="452" width="1.7" height="7" fill="#f30900"/>
<rect x="124.6" y="452" width="1.1" height="7" fill="#ff2f00"/>
<rect x="138.1" y="452" width="1.7" height="7" fill="#f30900"/>
<rect x="138.4" y="452" width="1.1" height="7" fill="#ff2f00"/>
<rect x="151.8" y="452" width="2.2" height="7" fill="#f30900"/>
<rect x="152.35" y="452" width="1.1" height="7" fill="#ff2f00"/>
<rect x="124.3" y="459" width="1.7" height="1" fill="#4effa8"/>
<rect x="124.6" y="459" width="1.1" height="1" fill="#002bff"/>
<rect x="138.1" y="459" width="1.7" height="1" fill="#80ff77"/>
<rect x="138.4" y="459" width="1.1" height="1" fill="#00c4ff"/>
<rect x="151.8" y="459" width="2.2" height="1" fill="#80ff77"/>
<rect x="152.35" y="459" width="1.1" height="1" fill="#009bff"/>
<rect x="124.3" y="460" width="1.7" height="2" fill="#f30900"/>
<rect x="124.6" y="460" width="1.1" height="2" fill="#ff2f00"/>
<rect x="138.1" y="460" width="1.7" height="2" fill="#f30900"/>
<rect x="138.4" y="460" width="1.1" height="2" fill="#ff2f00"/>
<rect x="151.8" y="460" width="2.2" height="2" fill="#f30900"/>
<rect x="152.35" y="460" width="1.1" height="2" fill="#ff2f00"/>
<rect x="124.3" y="464" width="1.7" height="5" fill="#65ff92"/>
<rect x="124.6" y="464" width="1.1" height="5" fill="#003dff"/>
<rect x="138.1" y="464" width="1.7" height="5" fill="#8bff6c"/>
<rect x="138.4" y="464" width="1.1" height="5" fill="#00cdff"/>
<rect x="151.8" y="464" width="2.2" height="5" fill="#74ff82"/>
<rect x="152.35" y="464" width="1.1" height="5" fill="#0091ff"/>
<rect x="124.3" y="469" width="1.7" height="3" fill="#65ff92"/>
<rect x="124.6" y="469" width="1.1" height="3" fill="#003dff"/>
<rect x="138.1" y="469" width="1.7" height="3" fill="#80ff77"/>
<rect x="138.4" y="469" width="1.1" height="3" fill="#00c4ff"/>
<rect x="151.8" y="469" width="2.2" height="3" fill="#5eff99"/>
<rect x="152.35" y="469" width="1.1" height="3" fill="#007fff"/>
<rect x="124.3" y="472" width="1.7" height="6" fill="#5aff9d"/>
<rect x="124.6" y="472" width="1.1" height="6" fill="#0034ff"/>
<rect x="138.1" y="472" width="1.7" height="6" fill="#5eff99"/>
<rect x="138.4" y="472" width="1.1" height="6" fill="#00a7ff"/>
<rect x="151.8" y="472" width="2.2" height="6" fill="#30ffc7"/>
<rect x="152.35" y="472" width="1.1" height="6" fill="#0059ff"/>
<rect x="124.3" y="478" width="1.7" height="3" fill="#00d6ff"/>
<rect x="124.6" y="478" width="1.1" height="3" fill="#0000ec"/>
<rect x="138.1" y="478" width="1.7" height="3" fill="#0ef7e9"/>
<rect x="138.4" y="478" width="1.1" height="3" fill="#0066ff"/>
<rect x="151.8" y="478" width="2.2" height="3" fill="#08f0ef"/>
<rect x="152.35" y="478" width="1.1" height="3" fill="#0038ff"/>
<rect x="124.3" y="485" width="1.7" height="4" fill="#00e4f8"/>
<rect x="124.6" y="485" width="1.1" height="4" fill="#0000f6"/>
<rect x="138.1" y="485" width="1.7" height="4" fill="#0ef7e9"/>
<rect x="138.4" y="485" width="1.1" height="4" fill="#0066ff"/>
<rect x="151.8" y="485" width="2.2" height="4" fill="#08f0ef"/>
<rect x="152.35" y="485" width="1.1" height="4" fill="#0038ff"/>
<rect x="124.3" y="490" width="1.7" height="5" fill="#00e4f8"/>
<rect x="124.6" y="490" width="1.1" height="5" fill="#0000f6"/>
<rect x="138.1" y="490" width="1.7" height="5" fill="#08f0ef"/>
<rect x="138.4" y="490" width="1.1" height="5" fill="#0061ff"/>
<rect x="151.8" y="490" width="2.2" height="5" fill="#08f0ef"/>
<rect x="152.35" y="490" width="1.1" height="5" fill="#0038ff"/>
<rect x="124.3" y="496" width="1.7" height="6" fill="#00c8ff"/>
<rect x="124.6" y="496" width="1.1" height="6" fill="#0000e1"/>
<rect x="138.1" y="496" width="1.7" height="6" fill="#08f0ef"/>
<rect x="138.4" y="496" width="1.1" height="6" fill="#0061ff"/>
<rect x="151.8" y="496" width="2.2" height="6" fill="#08f0ef"/>
<rect x="152.35" y="496" width="1.1" height="6" fill="#0038ff"/>
<rect x="124.3" y="504" width="1.7" height="6" fill="#00b2ff"/>
<rect x="124.6" y="504" width="1.1" height="6" fill="#0000d1"/>
<rect x="138.1" y="504" width="1.7" height="6" fill="#08f0ef"/>
<rect x="138.4" y="504" width="1.1" height="6" fill="#0061ff"/>
<rect x="151.8" y="504" width="2.2" height="6" fill="#08f0ef"/>
<rect x="152.35" y="504" width="1.1" height="6" fill="#0038ff"/>
<rect x="124.3" y="512" width="1.7" height="10" fill="#00b2ff"/>
<rect x="124.6" y="512" width="1.1" height="10" fill="#0000d1"/>
<rect x="138.1" y="512" width="1.7" height="10" fill="#08f0ef"/>
<rect x="138.4" y="512" width="1.1" height="10" fill="#0061ff"/>
<rect x="151.8" y="512" width="2.2" height="10" fill="#08f0ef"/>
<rect x="152.35" y="512" width="1.1" height="10" fill="#0038ff"/>
<rect x="124.3" y="523" width="1.7" height="7" fill="#00b2ff"/>
<rect x="124.6" y="523" width="1.1" height="7" fill="#0000d1"/>
<rect x="138.1" y="523" width="1.7" height="7" fill="#08f0ef"/>
<rect x="138.4" y="523" width="1.1" height="7" fill="#0061ff"/>
<rect x="151.8" y="523" width="2.2" height="7" fill="#08f0ef"/>
<rect x="152.35" y="523" width="1.1" height="7" fill="#0038ff"/>
<rect x="124.3" y="530" width="1.7" height="7" fill="#00b2ff"/>
<rect x="124.6" y="530" width="1.1" height="7" fill="#0000d1"/>
<rect x="138.1" y="530" width="1.7" height="7" fill="#08f0ef"/>
<rect x="138.4" y="530" width="1.1" height="7" fill="#0061ff"/>
<rect x="151.8" y="530" width="2.2" height="7" fill="#08f0ef"/>
<rect x="152.35" y="530" width="1.1" height="7" fill="#0038ff"/>
<rect x="124.3" y="540" width="1.7" height="4" fill="#00b2ff"/>
<rect x="124.6" y="540" width="1.1" height="4" fill="#0000d1"/>
<rect x="138.1" y="540" width="1.7" height="4" fill="#1affdd"/>
<rect x="138.4" y="540" width="1.1" height="4" fill="#006fff"/>
<rect x="151.8" y="540" width="2.2" height="4" fill="#08f0ef"/>
<rect x="152.35" y="540" width="1.1" height="4" fill="#0038ff"/>
<rect x="124.3" y="545" width="1.7" height="18" fill="#00d6ff"/>
<rect x="124.6" y="545" width="1.1" height="18" fill="#0000ec"/>
<rect x="138.1" y="545" width="1.7" height="18" fill="#25ffd2"/>
<rect x="138.4" y="545" width="1.1" height="18" fill="#0079ff"/>
<rect x="151.8" y="545" width="2.2" height="18" fill="#08f0ef"/>
<rect x="152.35" y="545" width="1.1" height="18" fill="#0038ff"/>
<rect x="124.3" y="564" width="1.7" height="4" fill="#00b2ff"/>
<rect x="124.6" y="564" width="1.1" height="4" fill="#0000d1"/>
<rect x="138.1" y="564" width="1.7" height="4" fill="#0ef7e9"/>
<rect x="138.4" y="564" width="1.1" height="4" fill="#0066ff"/>
<rect x="151.8" y="564" width="2.2" height="4" fill="#08f0ef"/>
<rect x="152.35" y="564" width="1.1" height="4" fill="#0038ff"/>
<rect x="124.3" y="570" width="1.7" height="9" fill="#00b2ff"/>
<rect x="124.6" y="570" width="1.1" height="9" fill="#0000d1"/>
<rect x="138.1" y="570" width="1.7" height="9" fill="#0ef7e9"/>
<rect x="138.4" y="570" width="1.1" height="9" fill="#0066ff"/>
<rect x="151.8" y="570" width="2.2" height="9" fill="#08f0ef"/>
<rect x="152.35" y="570" width="1.1" height="9" fill="#0038ff"/>
<rect x="124.3" y="580" width="1.7" height="7" fill="#00b2ff"/>
<rect x="124.6" y="580" width="1.1" height="7" fill="#0000d1"/>
<rect x="138.1" y="580" width="1.7" height="7" fill="#08f0ef"/>
<rect x="138.4" y="580" width="1.1" height="7" fill="#0061ff"/>
<rect x="151.8" y="580" width="2.2" height="7" fill="#08f0ef"/>
<rect x="152.35" y="580" width="1.1" height="7" fill="#0038ff"/>
<rect x="124.3" y="588" width="1.7" height="2" fill="#00b2ff"/>
<rect x="124.6" y="588" width="1.1" height="2" fill="#0000d1"/>
<rect x="138.1" y="588" width="1.7" height="2" fill="#08f0ef"/>
<rect x="138.4" y="588" width="1.1" height="2" fill="#0061ff"/>
<rect x="151.8" y="588" width="2.2" height="2" fill="#08f0ef"/>
<rect x="152.35" y="588" width="1.1" height="2" fill="#0038ff"/>
<rect x="124.3" y="591" width="1.7" height="7" fill="#00b2ff"/>
<rect x="124.6" y="591" width="1.1" height="7" fill="#0000d1"/>
<rect x="138.1" y="591" width="1.7" height="7" fill="#08f0ef"/>
<rect x="138.4" y="591" width="1.1" height="7" fill="#0061ff"/>
<rect x="151.8" y="591" width="2.2" height="7" fill="#08f0ef"/>
<rect x="152.35" y="591" width="1.1" height="7" fill="#0038ff"/>
<rect x="124.3" y="600" width="1.7" height="11" fill="#00b2ff"/>
<rect x="124.6" y="600" width="1.1" height="11" fill="#0000d1"/>
<rect x="138.1" y="600" width="1.7" height="11" fill="#08f0ef"/>
<rect x="138.4" y="600" width="1.1" height="11" fill="#0061ff"/>
<rect x="151.8" y="600" width="2.2" height="11" fill="#08f0ef"/>
<rect x="152.35" y="600" width="1.1" height="11" fill="#0038ff"/>
<rect x="124.3" y="611" width="1.7" height="11" fill="#00b2ff"/>
<rect x="124.6" y="611" width="1.1" height="11" fill="#0000d1"/>
<rect x="138.1" y="611" width="1.7" height="11" fill="#08f0ef"/>
<rect x="138.4" y="611" width="1.1" height="11" fill="#0061ff"/>
<rect x="151.8" y="611" width="2.2" height="11" fill="#08f0ef"/>
<rect x="152.35" y="611" width="1.1" height="11" fill="#0038ff"/>
<rect x="124.3" y="623" width="1.7" height="7" fill="#00b2ff"/>
<rect x="124.6" y="623" width="1.1" height="7" fill="#0000d1"/>
<rect x="138.1" y="623" width="1.7" height="7" fill="#08f0ef"/>
<rect x="138.4" y="623" width="1.1" height="7" fill="#0061ff"/>
<rect x="151.8" y="623" width="2.2" height="7" fill="#08f0ef"/>
<rect x="152.35" y="623" width="1.1" height="7" fill="#0038ff"/>
<rect x="124.3" y="632" width="1.7" height="7" fill="#00b2ff"/>
<rect x="124.6" y="632" width="1.1" height="7" fill="#0000d1"/>
<rect x="138.1" y="632" width="1.7" height="7" fill="#08f0ef"/>
<rect x="138.4" y="632" width="1.1" height="7" fill="#0061ff"/>
<rect x="151.8" y="632" width="2.2" height="7" fill="#08f0ef"/>
<rect x="152.35" y="632" width="1.1" height="7" fill="#0038ff"/>
<rect x="124.3" y="640" width="1.7" height="8" fill="#00baff"/>
<rect x="124.6" y="640" width="1.1" height="8" fill="#0000d6"/>
<rect x="138.1" y="640" width="1.7" height="8" fill="#08f0ef"/>
<rect x="138.4" y="640" width="1.1" height="8" fill="#0061ff"/>
<rect x="151.8" y="640" width="2.2" height="8" fill="#08f0ef"/>
<rect x="152.35" y="640" width="1.1" height="8" fill="#0038ff"/>
<rect x="124.3" y="649" width="1.7" height="11" fill="#00b2ff"/>
<rect x="124.6" y="649" width="1.1" height="11" fill="#0000d1"/>
<rect x="138.1" y="649" width="1.7" height="11" fill="#08f0ef"/>
<rect x="138.4" y="649" width="1.1" height="11" fill="#0061ff"/>
<rect x="151.8" y="649" width="2.2" height="11" fill="#08f0ef"/>
<rect x="152.35" y="649" width="1.1" height="11" fill="#0038ff"/>
<rect x="124.3" y="665" width="1.7" height="8" fill="#00b2ff"/>
<rect x="124.6" y="665" width="1.1" height="8" fill="#0000d1"/>
<rect x="138.1" y="665" width="1.7" height="8" fill="#08f0ef"/>
<rect x="138.4" y="665" width="1.1" height="8" fill="#0061ff"/>
<rect x="151.8" y="665" width="2.2" height="8" fill="#08f0ef"/>
<rect x="152.35" y="665" width="1.1" height="8" fill="#0038ff"/>
<rect x="124.3" y="674" width="1.7" height="5" fill="#00b2ff"/>
<rect x="124.6" y="674" width="1.1" height="5" fill="#0000d1"/>
<rect x="138.1" y="674" width="1.7" height="5" fill="#08f0ef"/>
<rect x="138.4" y="674" width="1.1" height="5" fill="#0061ff"/>
<rect x="151.8" y="674" width="2.2" height="5" fill="#08f0ef"/>
<rect x="152.35" y="674" width="1.1" height="5" fill="#0038ff"/>
<rect x="124.3" y="681" width="1.7" height="5" fill="#00b2ff"/>
<rect x="124.6" y="681" width="1.1" height="5" fill="#0000d1"/>
<rect x="138.1" y="681" width="1.7" height="5" fill="#08f0ef"/>
<rect x="138.4" y="681" width="1.1" height="5" fill="#0061ff"/>
<rect x="151.8" y="681" width="2.2" height="5" fill="#08f0ef"/>
<rect x="152.35" y="681" width="1.1" height="5" fill="#0038ff"/>
<rect x="124.3" y="687" width="1.7" height="12" fill="#00b2ff"/>
<rect x="124.6" y="687" width="1.1" height="12" fill="#0000d1"/>
<rect x="138.1" y="687" width="1.7" height="12" fill="#08f0ef"/>
<rect x="138.4" y="687" width="1.1" height="12" fill="#0061ff"/>
<rect x="151.8" y="687" width="2.2" height="12" fill="#08f0ef"/>
<rect x="152.35" y="687" width="1.1" height="12" fill="#0038ff"/>
<rect x="124.3" y="699" width="1.7" height="7" fill="#00b2ff"/>
<rect x="124.6" y="699" width="1.1" height="7" fill="#0000d1"/>
<rect x="138.1" y="699" width="1.7" height="7" fill="#08f0ef"/>
<rect x="138.4" y="699" width="1.1" height="7" fill="#0061ff"/>
<rect x="151.8" y="699" width="2.2" height="7" fill="#08f0ef"/>
<rect x="152.35" y="699" width="1.1" height="7" fill="#0038ff"/>
<rect x="124.3" y="709" width="1.7" height="6" fill="#00b2ff"/>
<rect x="124.6" y="709" width="1.1" height="6" fill="#0000d1"/>
<rect x="138.1" y="709" width="1.7" height="6" fill="#08f0ef"/>
<rect x="138.4" y="709" width="1.1" height="6" fill="#0061ff"/>
<rect x="151.8" y="709" width="2.2" height="6" fill="#08f0ef"/>
<rect x="152.35" y="709" width="1.1" height="6" fill="#0038ff"/>
<rect x="124.3" y="718" width="1.7" height="2.5" fill="#00baff"/>
<rect x="124.6" y="718" width="1.1" height="2.5" fill="#0000d6"/>
<rect x="138.1" y="718" width="1.7" height="2.5" fill="#25ffd2"/>
<rect x="138.4" y="718" width="1.1" height="2.5" fill="#0079ff"/>
<rect x="151.8" y="718" width="2.2" height="2.5" fill="#47ffb0"/>
<rect x="152.35" y="718" width="1.1" height="2.5" fill="#006cff"/>
<rect x="112.2" y="81" width="1.2" height="347" fill="#8cff6b" fill-opacity="0.4"/>
<rect x="112.2" y="462" width="1.2" height="258.5" fill="#8cff6b" fill-opacity="0.4"/>
<rect x="123.1" y="81" width="1.2" height="347" fill="#8cff6b" fill-opacity="0.4"/>
<rect x="123.1" y="462" width="1.2" height="258.5" fill="#8cff6b" fill-opacity="0.4"/>
<rect x="126" y="81" width="1.2" height="347" fill="#8cff6b" fill-opacity="0.4"/>
<rect x="126" y="462" width="1.2" height="258.5" fill="#8cff6b" fill-opacity="0.4"/>
<rect x="136.9" y="81" width="1.2" height="347" fill="#8cff6b" fill-opacity="0.4"/>
<rect x="136.9" y="462" width="1.2" height="258.5" fill="#8cff6b" fill-opacity="0.4"/>
<rect x="139.8" y="81" width="1.2" height="347" fill="#8cff6b" fill-opacity="0.4"/>
<rect x="139.8" y="462" width="1.2" height="258.5" fill="#8cff6b" fill-opacity="0.4"/>
<rect x="150.6" y="81" width="1.2" height="347" fill="#8cff6b" fill-opacity="0.4"/>
<rect x="150.6" y="462" width="1.2" height="258.5" fill="#8cff6b" fill-opacity="0.4"/>
<rect x="154" y="81" width="1.2" height="347" fill="#8cff6b" fill-opacity="0.4"/>
<rect x="154" y="462" width="1.2" height="258.5" fill="#8cff6b" fill-opacity="0.4"/>
<rect x="164.4" y="81" width="1.2" height="347" fill="#8cff6b" fill-opacity="0.4"/>
<rect x="164.4" y="462" width="1.2" height="258.5" fill="#8cff6b" fill-opacity="0.4"/>
<rect x="-1" y="111" width="178.9" height="1" fill="#fff"/>
<rect x="-1" y="118" width="178.9" height="1" fill="#fff"/>
<rect x="-1" y="120" width="178.9" height="1" fill="#fff"/>
<rect x="-1" y="122" width="178.9" height="1" fill="#000"/>
<rect x="-1" y="125" width="178.9" height="16" fill="#fff"/>
<rect x="-1" y="142" width="178.9" height="21" fill="#fff"/>
<rect x="-1" y="163" width="178.9" height="1" fill="#000"/>
<rect x="-1" y="164" width="178.9" height="50" fill="#fff"/>
<rect x="-1" y="218" width="178.9" height="1" fill="#fff"/>
<rect x="-1" y="221" width="178.9" height="1" fill="#000"/>
<rect x="-1" y="230" width="178.9" height="1" fill="#000"/>
<rect x="-1" y="239" width="178.9" height="4" fill="#fff"/>
<rect x="-1" y="245" width="178.9" height="2" fill="#fff"/>
<rect x="-1" y="252" width="178.9" height="1" fill="#000"/>
<rect x="-1" y="261" width="178.9" height="1" fill="#000"/>
<rect x="-1" y="263" width="178.9" height="1" fill="#fff"/>
<rect x="-1" y="265" width="178.9" height="4" fill="#000"/>
<rect x="-1" y="269" width="178.9" height="25" fill="#fff"/>
<rect x="-1" y="301" width="178.9" height="1" fill="#fff"/>
<rect x="-1" y="302" width="178.9" height="1.5" fill="#000"/>
<rect x="-1" y="303.5" width="178.9" height="1.5" fill="#fff"/>
<rect x="-1" y="307" width="178.9" height="1" fill="#fff"/>
<rect x="-1" y="308" width="178.9" height="1" fill="#000"/>
<rect x="-1" y="310" width="178.9" height="1" fill="#fff"/>
<rect x="-1" y="322" width="178.9" height="1.5" fill="#000"/>
<rect x="-1" y="326.5" width="178.9" height="3.5" fill="#fff"/>
<rect x="-1" y="336" width="178.9" height="1" fill="#000"/>
<rect x="-1" y="345" width="178.9" height="1" fill="#fff"/>
<rect x="-1" y="347.5" width="178.9" height="1.5" fill="#fff"/>
<rect x="-1" y="354.5" width="178.9" height="0.8" fill="#000"/>
<rect x="-1" y="358" width="178.9" height="1" fill="#000"/>
<rect x="-1" y="363" width="178.9" height="2" fill="#000"/>
<rect x="-1" y="366.5" width="178.9" height="1.5" fill="#fff"/>
<rect x="-1" y="370.5" width="178.9" height="0.5" fill="#000"/>
<rect x="-1" y="371" width="178.9" height="1.2" fill="#fff"/>
<rect x="-1" y="373" width="178.9" height="0.6" fill="#000"/>
<rect x="-1" y="375" width="178.9" height="3" fill="#000"/>
<rect x="-1" y="382" width="178.9" height="34" fill="#fff"/>
<rect x="-1" y="420" width="178.9" height="1" fill="#fff"/>
<rect x="-1" y="426" width="178.9" height="2" fill="#fff"/>
<rect x="-1" y="430" width="178.9" height="1" fill="#000"/>
<rect x="-1" y="432" width="178.9" height="3" fill="#000"/>
<rect x="-1" y="436" width="178.9" height="1" fill="#000"/>
<rect x="-1" y="438" width="178.9" height="2" fill="#000"/>
<rect x="-1" y="441" width="178.9" height="1" fill="#000"/>
<rect x="-1" y="443" width="178.9" height="1" fill="#000"/>
<rect x="-1" y="445" width="178.9" height="1" fill="#000"/>
<rect x="-1" y="447.2" width="178.9" height="0.7" fill="#000"/>
<rect x="-1" y="449" width="178.9" height="1.2" fill="#fff"/>
<rect x="-1" y="456" width="178.9" height="3" fill="#000"/>
<rect x="-1" y="461.8" width="178.9" height="1.2" fill="#fff"/>
<rect x="-1" y="463" width="178.9" height="1.5" fill="#000"/>
<rect x="-1" y="469.2" width="178.9" height="0.8" fill="#000"/>
<rect x="-1" y="471" width="178.9" height="0.8" fill="#000"/>
<rect x="-1" y="478" width="178.9" height="1" fill="#000"/>
<rect x="-1" y="481" width="178.9" height="4" fill="#fff"/>
<rect x="-1" y="489" width="178.9" height="1" fill="#fff"/>
<rect x="-1" y="495" width="178.9" height="1" fill="#fff"/>
<rect x="-1" y="502" width="178.9" height="2" fill="#000"/>
<rect x="-1" y="510" width="178.9" height="2" fill="#fff"/>
<rect x="-1" y="522" width="178.9" height="1" fill="#fff"/>
<rect x="-1" y="529" width="178.9" height="1.2" fill="#fff"/>
<rect x="-1" y="531" width="178.9" height="1" fill="#000"/>
<rect x="-1" y="533" width="178.9" height="1" fill="#fff"/>
<rect x="-1" y="536" width="178.9" height="1" fill="#000"/>
<rect x="-1" y="537" width="178.9" height="3" fill="#fff"/>
<rect x="-1" y="544" width="178.9" height="1" fill="#fff"/>
<rect x="-1" y="563" width="178.9" height="1" fill="#fff"/>
<rect x="-1" y="568" width="178.9" height="2" fill="#fff"/>
<rect x="-1" y="579" width="178.9" height="1" fill="#000"/>
<rect x="-1" y="587" width="178.9" height="1" fill="#000"/>
<rect x="-1" y="590" width="178.9" height="1" fill="#fff"/>
<rect x="-1" y="598" width="178.9" height="2" fill="#fff"/>
<rect x="-1" y="622" width="178.9" height="1" fill="#fff"/>
<rect x="-1" y="626" width="178.9" height="1" fill="#fff"/>
<rect x="-1" y="627.4" width="178.9" height="0.9" fill="#fff"/>
<rect x="-1" y="630" width="178.9" height="2" fill="#fff"/>
<rect x="-1" y="639" width="178.9" height="1" fill="#fff"/>
<rect x="-1" y="648.3" width="178.9" height="0.9" fill="#000"/>
<rect x="-1" y="653" width="178.9" height="1" fill="#fff"/>
<rect x="-1" y="655" width="178.9" height="2" fill="#000"/>
<rect x="-1" y="658" width="178.9" height="1" fill="#000"/>
<rect x="-1" y="660" width="178.9" height="3.2" fill="#fff"/>
<rect x="-1" y="663.2" width="178.9" height="0.8" fill="#000"/>
<rect x="-1" y="664" width="178.9" height="1" fill="#fff"/>
<rect x="-1" y="673" width="178.9" height="1" fill="#fff"/>
<rect x="-1" y="679" width="178.9" height="2" fill="#fff"/>
<rect x="-1" y="686" width="178.9" height="1" fill="#fff"/>
<rect x="-1" y="706" width="178.9" height="3" fill="#000"/>
<rect x="-1" y="715" width="178.9" height="3" fill="#fff"/>
</g></g>
<rect x="768.5" y="80.5" width="177" height="640" fill="none" stroke="#000" stroke-width="1"/>
<text x="768.4" y="735.6" font-size="12.1" text-anchor="middle">320</text>
<text x="809.86" y="735.6" font-size="12.1" text-anchor="middle">335</text>
<text x="851.32" y="735.6" font-size="12.1" text-anchor="middle">350</text>
<text x="892.78" y="735.6" font-size="12.1" text-anchor="middle">365</text>
<text x="934.24" y="735.6" font-size="12.1" text-anchor="middle">380</text>
<text x="763.4" y="724.1" font-size="12.1" text-anchor="end">0</text>
<text x="763.4" y="590.77" font-size="12.1" text-anchor="end">5</text>
<text x="763.4" y="457.43" font-size="12.1" text-anchor="end">10</text>
<text x="763.4" y="324.1" font-size="12.1" text-anchor="end">15</text>
<text x="763.4" y="190.77" font-size="12.1" text-anchor="end">20</text>
<path d="M810.5 720.5 v-4 M810.5 80.5 v4 M851.5 720.5 v-4 M851.5 80.5 v4 M892.5 720.5 v-4 M892.5 80.5 v4 M934.5 720.5 v-4 M934.5 80.5 v4 M768.5 587.5 h4 M945.5 587.5 h-4 M768.5 453.5 h4 M945.5 453.5 h-4 M768.5 320.5 h4 M945.5 320.5 h-4 M768.5 187.5 h4 M945.5 187.5 h-4" stroke="#000" stroke-width="1" fill="none"/>
<text x="856.85" y="72.6" font-size="14.95" text-anchor="middle">YX, V1*V15=EA10*EA26</text>
<text x="589.5" y="25.9" font-size="12.5" text-anchor="middle">2017-08-18 0.0-24.0</text>
<text x="483.5" y="754.6" font-size="12.5" text-anchor="middle">frequency (MHz)</text>
<text transform="translate(100.8,400) rotate(-90)" font-size="12.5" text-anchor="middle">UT (hours)</text>
<rect x="1019" y="160" width="15" height="480" fill="url(#cb)"/>
<rect x="1019" y="160.5" width="15" height="480" fill="none" stroke="#000" stroke-width="1"/>
<path d="M1019 160.5 h4 M1034 160.5 h-4" stroke="#000" stroke-width="1" fill="none"/>
<text x="1013" y="163.4" font-size="10.4" text-anchor="end">1</text>
<path d="M1019 256.5 h4 M1034 256.5 h-4" stroke="#000" stroke-width="1" fill="none"/>
<text x="1013" y="259.4" font-size="10.4" text-anchor="end">0</text>
<path d="M1019 352.5 h4 M1034 352.5 h-4" stroke="#000" stroke-width="1" fill="none"/>
<text x="1013" y="355.4" font-size="10.4" text-anchor="end">−1</text>
<path d="M1019 448.5 h4 M1034 448.5 h-4" stroke="#000" stroke-width="1" fill="none"/>
<text x="1013" y="451.4" font-size="10.4" text-anchor="end">−2</text>
<path d="M1019 544.5 h4 M1034 544.5 h-4" stroke="#000" stroke-width="1" fill="none"/>
<text x="1013" y="547.4" font-size="10.4" text-anchor="end">−3</text>
<path d="M1019 640.5 h4 M1034 640.5 h-4" stroke="#000" stroke-width="1" fill="none"/>
<text x="1013" y="643.4" font-size="10.4" text-anchor="end">−4</text>
<path d="M1022 160.5 v4 M1022 640.5 v-4" stroke="#000" stroke-width="1" fill="none"/>
<path d="M1025 160.5 v4 M1025 640.5 v-4" stroke="#000" stroke-width="1" fill="none"/>
<path d="M1028 160.5 v4 M1028 640.5 v-4" stroke="#000" stroke-width="1" fill="none"/>
<path d="M1031 160.5 v4 M1031 640.5 v-4" stroke="#000" stroke-width="1" fill="none"/>
<text x="1026.5" y="646.3" font-size="1.3" text-anchor="middle" word-spacing="0.6">0.0 0.2 0.4 0.6 0.8 1.0</text>
<text transform="translate(984.7,400.5) rotate(-90)" font-size="12.5" text-anchor="middle">log<tspan font-size="8" dy="2.5">10</tspan><tspan dy="-2.5"> amplitude</tspan></text>
</svg></body></html>
